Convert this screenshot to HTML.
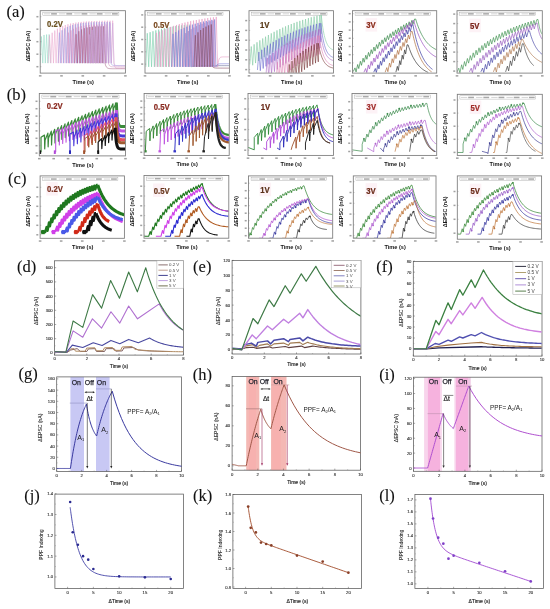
<!DOCTYPE html>
<html><head><meta charset="utf-8"><style>
html,body{margin:0;padding:0;background:#fff;width:550px;height:609px;overflow:hidden}
svg{display:block;filter:blur(0.35px)}
</style></head><body>
<svg width="550" height="609" viewBox="0 0 550 609">
<rect x="0" y="0" width="550" height="609" fill="#fff"/>
<rect x="40.2" y="10.7" width="85.2" height="62.4" fill="#fff"/>
<clipPath id="c40_10"><rect x="40.5" y="11" width="84.6" height="61.8"/></clipPath>
<rect x="42.8" y="12.2" width="76.1" height="3.3" stroke="#a0a0a0" fill="#fff" stroke-width="0.4"/>
<line x1="43.8" y1="13.85" x2="50.19" y2="13.85" stroke="#a8a8a8" stroke-width="0.5"/>
<rect x="51.11" y="13.1" width="5.78" height="1.5" stroke="none" fill="#707070" stroke-width="0.8" opacity="0.6"/>
<line x1="59.02" y1="13.85" x2="65.41" y2="13.85" stroke="#a8a8a8" stroke-width="0.5"/>
<rect x="66.33" y="13.1" width="5.78" height="1.5" stroke="none" fill="#707070" stroke-width="0.8" opacity="0.6"/>
<line x1="74.24" y1="13.85" x2="80.63" y2="13.85" stroke="#a8a8a8" stroke-width="0.5"/>
<rect x="81.55" y="13.1" width="5.78" height="1.5" stroke="none" fill="#707070" stroke-width="0.8" opacity="0.6"/>
<line x1="89.46" y1="13.85" x2="95.85" y2="13.85" stroke="#a8a8a8" stroke-width="0.5"/>
<rect x="96.77" y="13.1" width="5.78" height="1.5" stroke="none" fill="#707070" stroke-width="0.8" opacity="0.6"/>
<line x1="104.68" y1="13.85" x2="111.07" y2="13.85" stroke="#a8a8a8" stroke-width="0.5"/>
<rect x="111.99" y="13.1" width="5.78" height="1.5" stroke="none" fill="#707070" stroke-width="0.8" opacity="0.6"/>
<g clip-path="url(#c40_10)">
<polyline points="40.2,63.12 41.48,36.52 42.76,63.12 44.03,34.98 45.31,63.12 46.59,34.54 47.87,63.12 49.15,34.41 50.42,63.12" fill="none" stroke="#8ad8c0" stroke-width="0.6" stroke-linejoin="round" opacity="0.85"/>
<polyline points="48.21,63.12 49.52,35.48 50.84,63.12 52.16,32.77 53.47,63.12 54.79,30.56 56.1,63.12 57.42,28.75 58.73,63.12 60.05,27.26 61.36,63.12 62.68,26.05 63.99,63.12 65.31,25.05 66.63,63.12 67.94,24.24 69.26,63.12 70.57,23.57 71.89,63.12 73.2,23.03 74.52,63.12 75.83,22.58 77.15,63.12 78.47,22.21 79.78,63.12 81.1,21.91 82.41,63.12 83.73,21.67 85.04,63.12 86.36,21.47 87.67,63.12 88.99,21.3 90.3,63.12 91.62,21.17 92.94,63.12 94.25,21.06 95.57,63.12 96.88,20.97 98.2,63.12 99.51,20.89 100.83,63.12 102.14,20.83 103.46,63.12 104.77,20.78 106.09,63.12 107.41,20.74 108.72,63.12 110.04,20.71 111.35,63.12 112.67,20.68 113.98,63.12 114.46,65.62 114.93,66.86 115.41,67.49 115.89,67.8 116.36,67.95 116.84,68.03 117.31,68.07 117.79,68.09 118.26,68.1 118.74,68.1 119.22,68.11 119.69,68.11 120.17,68.11 120.64,68.11 121.12,68.11 121.59,68.11 122.07,68.11 122.55,68.11 123.02,68.11 123.5,68.11 123.97,68.11 124.45,68.11 124.92,68.11 125.4,68.11" fill="none" stroke="#eaa2cc" stroke-width="0.6" stroke-linejoin="round" opacity="0.85"/>
<polyline points="58.09,63.12 59.41,32.6 60.74,63.12 62.06,30.22 63.38,63.12 64.71,28.37 66.03,63.12 67.35,26.92 68.67,63.12 70,25.8 71.32,63.12 72.64,24.92 73.96,63.12 75.29,24.24 76.61,63.12 77.93,23.71 79.26,63.12 80.58,23.3 81.9,63.12 83.22,22.97 84.55,63.12 85.87,22.72 87.19,63.12 88.51,22.53 89.84,63.12 91.16,22.37 92.48,63.12 93.81,22.26 95.13,63.12 96.45,22.16 97.77,63.12 99.1,22.09 100.42,63.12 101.74,22.04 103.06,63.12 104.39,21.99 105.71,63.12 107.03,21.96 108.36,63.12 109.68,21.93 111,63.12 111.6,64.37 112.2,64.99 112.8,65.3 113.4,65.46 114,65.53 114.6,65.57 115.2,65.59 115.8,65.6 116.4,65.61 117,65.61 117.6,65.61 118.2,65.61 118.8,65.61 119.4,65.61 120,65.61 120.6,65.61 121.2,65.61 121.8,65.61 122.4,65.61 123,65.61 123.6,65.61 124.2,65.61 124.8,65.61 125.4,65.61" fill="none" stroke="#9a96e0" stroke-width="0.6" stroke-linejoin="round" opacity="0.85"/>
<polyline points="67.04,63.12 68.33,32.63 69.62,63.12 70.91,30.4 72.2,63.12 73.49,28.78 74.79,63.12 76.08,27.59 77.37,63.12 78.66,26.72 79.95,63.12 81.24,26.09 82.53,63.12 83.83,25.62 85.12,63.12 86.41,25.28 87.7,63.12 88.99,25.03 90.28,63.12 91.57,24.85 92.86,63.12 94.16,24.72 95.45,63.12 96.74,24.62 98.03,63.12 99.32,24.55 100.61,63.12 101.9,24.49 103.19,63.12 104.49,24.46 105.78,63.12 107.07,24.43 108.36,63.12 109.07,64.99 109.78,65.93 110.49,66.39 111.2,66.63 111.91,66.74 112.62,66.8 113.33,66.83 114.04,66.85 114.75,66.85 115.46,66.86 116.17,66.86 116.88,66.86 117.59,66.86 118.3,66.86 119.01,66.86 119.72,66.86 120.43,66.86 121.14,66.86 121.85,66.86 122.56,66.86 123.27,66.86 123.98,66.86 124.69,66.86 125.4,66.86" fill="none" stroke="#d890c0" stroke-width="0.6" stroke-linejoin="round" opacity="0.85"/>
<polyline points="74.71,63.12 76.08,34.19 77.46,63.12 78.83,31.28 80.21,63.12 81.58,29.43 82.95,63.12 84.33,28.25 85.7,63.12 87.08,27.51 88.45,63.12 89.83,27.04 91.2,63.12 92.58,26.74 93.95,63.12 95.33,26.55 96.7,63.12 98.08,26.43 99.45,63.12 100.83,26.35 102.2,63.12 103.58,26.3 104.95,63.12 105.8,65.93 106.66,67.33 107.51,68.03 108.36,68.38 109.21,68.56 110.06,68.64 110.92,68.69 111.77,68.71 112.62,68.72 113.47,68.73 114.32,68.73 115.18,68.73 116.03,68.73 116.88,68.73 117.73,68.73 118.58,68.73 119.44,68.73 120.29,68.73 121.14,68.73 121.99,68.73 122.84,68.73 123.7,68.73 124.55,68.73 125.4,68.73" fill="none" stroke="#a05a80" stroke-width="0.6" stroke-linejoin="round" opacity="0.85"/>
<polyline points="88.34,63.12 89.62,34.48 90.9,63.12 92.18,29.99 93.47,63.12 94.75,27.26 96.03,63.12 97.31,25.6 98.6,63.12 99.88,24.6 101.16,63.12 102.44,23.99 103.73,63.12 105.01,23.62 106.29,63.12 107.57,23.4 108.85,63.12 110.14,23.26 111.42,63.12 112.7,23.18 113.98,63.12 114.46,64.37 114.93,64.99 115.41,65.3 115.89,65.46 116.36,65.53 116.84,65.57 117.31,65.59 117.79,65.6 118.26,65.61 118.74,65.61 119.22,65.61 119.69,65.61 120.17,65.61 120.64,65.61 121.12,65.61 121.59,65.61 122.07,65.61 122.55,65.61 123.02,65.61 123.5,65.61 123.97,65.61 124.45,65.61 124.92,65.61 125.4,65.61" fill="none" stroke="#c8a8dc" stroke-width="0.6" stroke-linejoin="round" opacity="0.85"/>
</g>
<rect x="40.2" y="10.7" width="85.2" height="62.4" stroke="#7a7a7a" fill="none" stroke-width="0.85"/>
<rect x="36.4" y="65.95" width="2" height="1.5" stroke="none" fill="#8a8a8a" stroke-width="0.8" opacity="0.8"/>
<line x1="40.2" y1="66.7" x2="41.4" y2="66.7" stroke="#777" stroke-width="0.4"/>
<rect x="36.4" y="53.45" width="2" height="1.5" stroke="none" fill="#8a8a8a" stroke-width="0.8" opacity="0.8"/>
<line x1="40.2" y1="54.2" x2="41.4" y2="54.2" stroke="#777" stroke-width="0.4"/>
<rect x="36.4" y="40.95" width="2" height="1.5" stroke="none" fill="#8a8a8a" stroke-width="0.8" opacity="0.8"/>
<line x1="40.2" y1="41.7" x2="41.4" y2="41.7" stroke="#777" stroke-width="0.4"/>
<rect x="36.4" y="28.45" width="2" height="1.5" stroke="none" fill="#8a8a8a" stroke-width="0.8" opacity="0.8"/>
<line x1="40.2" y1="29.2" x2="41.4" y2="29.2" stroke="#777" stroke-width="0.4"/>
<rect x="36.4" y="15.95" width="2" height="1.5" stroke="none" fill="#8a8a8a" stroke-width="0.8" opacity="0.8"/>
<line x1="40.2" y1="16.7" x2="41.4" y2="16.7" stroke="#777" stroke-width="0.4"/>
<rect x="38.9" y="75.1" width="2.6" height="1.5" stroke="none" fill="#8a8a8a" stroke-width="0.8" opacity="0.8"/>
<rect x="60.2" y="75.1" width="2.6" height="1.5" stroke="none" fill="#8a8a8a" stroke-width="0.8" opacity="0.8"/>
<rect x="81.5" y="75.1" width="2.6" height="1.5" stroke="none" fill="#8a8a8a" stroke-width="0.8" opacity="0.8"/>
<rect x="102.8" y="75.1" width="2.6" height="1.5" stroke="none" fill="#8a8a8a" stroke-width="0.8" opacity="0.8"/>
<rect x="124.1" y="75.1" width="2.6" height="1.5" stroke="none" fill="#8a8a8a" stroke-width="0.8" opacity="0.8"/>
<text x="29.9" y="46.1" font-size="5.4" fill="#1a1a1a" text-anchor="middle" font-weight="bold" font-family='"Liberation Sans", sans-serif' transform="rotate(-90 29.9 46.1)">&#916;EPSC (nA)</text>
<text x="83.3" y="83.7" font-size="5.6" fill="#111" text-anchor="middle" font-weight="bold" font-family='"Liberation Sans", sans-serif'>Time (s)</text>
<text transform="translate(47 27) scale(0.92 1)" x="0" y="0" font-size="8.4" fill="#6a5020" font-weight="bold" font-family='"Liberation Sans", sans-serif' stroke="#6a5020" stroke-width="0.2">0.2V</text>
<rect x="145" y="10.7" width="84.5" height="62.4" fill="#fff"/>
<clipPath id="c145_10"><rect x="145.3" y="11" width="83.9" height="61.8"/></clipPath>
<rect x="147.6" y="12.2" width="75.4" height="3.3" stroke="#a0a0a0" fill="#fff" stroke-width="0.4"/>
<line x1="148.6" y1="13.85" x2="154.93" y2="13.85" stroke="#a8a8a8" stroke-width="0.5"/>
<rect x="155.84" y="13.1" width="5.73" height="1.5" stroke="none" fill="#707070" stroke-width="0.8" opacity="0.6"/>
<line x1="163.68" y1="13.85" x2="170.01" y2="13.85" stroke="#a8a8a8" stroke-width="0.5"/>
<rect x="170.92" y="13.1" width="5.73" height="1.5" stroke="none" fill="#707070" stroke-width="0.8" opacity="0.6"/>
<line x1="178.76" y1="13.85" x2="185.09" y2="13.85" stroke="#a8a8a8" stroke-width="0.5"/>
<rect x="186" y="13.1" width="5.73" height="1.5" stroke="none" fill="#707070" stroke-width="0.8" opacity="0.6"/>
<line x1="193.84" y1="13.85" x2="200.17" y2="13.85" stroke="#a8a8a8" stroke-width="0.5"/>
<rect x="201.08" y="13.1" width="5.73" height="1.5" stroke="none" fill="#707070" stroke-width="0.8" opacity="0.6"/>
<line x1="208.92" y1="13.85" x2="215.25" y2="13.85" stroke="#a8a8a8" stroke-width="0.5"/>
<rect x="216.16" y="13.1" width="5.73" height="1.5" stroke="none" fill="#707070" stroke-width="0.8" opacity="0.6"/>
<g clip-path="url(#c145_10)">
<polyline points="145.84,66.86 147.27,33.26 148.7,66.86 150.12,32.21 151.55,66.86 152.97,31.26 154.4,66.86 155.83,30.39 157.25,66.86 158.68,29.6 160.1,66.86 161.53,28.88 162.96,66.86 164.38,28.23 165.81,66.86 167.23,27.63 168.66,66.86 170.09,27.09 171.51,66.86 172.94,26.59 174.36,66.86 175.79,26.14 177.22,66.86 178.64,25.73 180.07,66.86 181.49,25.36 182.92,66.86 184.35,25.02 185.77,66.86 187.2,24.71 188.62,66.86 190.05,24.43 191.47,66.86 193.06,66.35 194.64,66.05 196.23,65.87 197.81,65.77 199.4,65.7 200.98,65.67 202.57,65.64 204.15,65.63 205.73,65.62 207.32,65.62 208.9,65.62 210.49,65.61 212.07,65.61 213.66,65.61 215.24,65.61 216.82,65.61 218.41,65.61 219.99,65.61 221.58,65.61 223.16,65.61 224.75,65.61 226.33,65.61 227.92,65.61 229.5,65.61" fill="none" stroke="#80d0b0" stroke-width="0.7" stroke-linejoin="round" opacity="0.9"/>
<polyline points="155.14,66.86 156.56,32.93 157.98,66.86 159.4,31.55 160.82,66.86 162.25,30.25 163.67,66.86 165.09,29.04 166.51,66.86 167.93,27.92 169.35,66.86 170.77,26.86 172.19,66.86 173.61,25.88 175.04,66.86 176.46,24.96 177.88,66.86 179.3,24.1 180.72,66.86 182.14,23.29 183.56,66.86 184.98,22.55 186.41,66.86 187.83,21.85 189.25,66.86 190.67,21.19 192.09,66.86 193.51,20.58 194.93,66.86 196.35,20.01 197.77,66.86 199.2,19.48 200.62,66.86 202.04,18.98 203.46,66.86 204.88,18.51 206.3,66.86 207.72,18.08 209.14,66.86 210.56,17.67 211.99,66.86 213.41,17.29 214.83,66.86 216.25,16.94 217.67,66.86 218.16,62.81 218.66,60.4 219.15,58.97 219.64,58.12 220.13,57.61 220.63,57.31 221.12,57.14 221.61,57.03 222.11,56.97 222.6,56.93 223.09,56.91 223.58,56.9 224.08,56.89 224.57,56.88 225.06,56.88 225.56,56.88 226.05,56.88 226.54,56.88 227.04,56.88 227.53,56.88 228.02,56.88 228.51,56.88 229.01,56.88 229.5,56.88" fill="none" stroke="#e8a0c8" stroke-width="0.7" stroke-linejoin="round" opacity="0.9"/>
<polyline points="171.62,66.86 173,33.79 174.39,66.86 175.78,32.09 177.16,66.86 178.55,30.54 179.94,66.86 181.32,29.13 182.71,66.86 184.09,27.84 185.48,66.86 186.87,26.68 188.25,66.86 189.64,25.61 191.03,66.86 192.41,24.64 193.8,66.86 195.19,23.76 196.57,66.86 197.96,22.95 199.34,66.86 200.73,22.22 202.12,66.86 203.5,21.56 204.89,66.86 206.28,20.95 207.66,66.86 209.05,20.4 210.43,66.86 211.82,19.89 213.21,66.86 214.59,19.44 215.98,66.86 216.54,65.59 217.11,64.84 217.67,64.39 218.23,64.13 218.8,63.97 219.36,63.88 219.92,63.82 220.49,63.79 221.05,63.77 221.61,63.76 222.18,63.75 222.74,63.75 223.3,63.74 223.87,63.74 224.43,63.74 224.99,63.74 225.56,63.74 226.12,63.74 226.68,63.74 227.25,63.74 227.81,63.74 228.37,63.74 228.94,63.74 229.5,63.74" fill="none" stroke="#8080d8" stroke-width="0.7" stroke-linejoin="round" opacity="0.9"/>
<polyline points="184.29,66.86 185.66,33.2 187.02,66.86 188.38,31.06 189.75,66.86 191.11,29.19 192.47,66.86 193.84,27.56 195.2,66.86 196.56,26.13 197.93,66.86 199.29,24.89 200.65,66.86 202.02,23.8 203.38,66.86 204.75,22.86 206.11,66.86 207.47,22.03 208.84,66.86 210.2,21.31 211.56,66.86 212.93,20.68 214.29,66.86 214.92,66.35 215.56,66.05 216.19,65.87 216.82,65.77 217.46,65.7 218.09,65.67 218.73,65.64 219.36,65.63 219.99,65.62 220.63,65.62 221.26,65.62 221.89,65.61 222.53,65.61 223.16,65.61 223.8,65.61 224.43,65.61 225.06,65.61 225.7,65.61 226.33,65.61 226.97,65.61 227.6,65.61 228.23,65.61 228.87,65.61 229.5,65.61" fill="none" stroke="#b088c8" stroke-width="0.7" stroke-linejoin="round" opacity="0.9"/>
<polyline points="194.01,66.86 195.34,35.22 196.67,66.86 197.99,32.34 199.32,66.86 200.65,30.02 201.98,66.86 203.31,28.15 204.63,66.86 205.96,26.63 207.29,66.86 208.62,25.41 209.94,66.86 211.27,24.43 212.6,66.86 213.3,67.37 214.01,67.67 214.71,67.85 215.42,67.95 216.12,68.02 216.82,68.05 217.53,68.08 218.23,68.09 218.94,68.1 219.64,68.1 220.35,68.1 221.05,68.11 221.75,68.11 222.46,68.11 223.16,68.11 223.87,68.11 224.57,68.11 225.27,68.11 225.98,68.11 226.68,68.11 227.39,68.11 228.09,68.11 228.8,68.11 229.5,68.11" fill="none" stroke="#8a5068" stroke-width="0.7" stroke-linejoin="round" opacity="0.9"/>
</g>
<rect x="145" y="10.7" width="84.5" height="62.4" stroke="#7a7a7a" fill="none" stroke-width="0.85"/>
<rect x="141.2" y="63.35" width="2" height="1.5" stroke="none" fill="#8a8a8a" stroke-width="0.8" opacity="0.8"/>
<line x1="145" y1="64.1" x2="146.2" y2="64.1" stroke="#777" stroke-width="0.4"/>
<rect x="141.2" y="51.05" width="2" height="1.5" stroke="none" fill="#8a8a8a" stroke-width="0.8" opacity="0.8"/>
<line x1="145" y1="51.8" x2="146.2" y2="51.8" stroke="#777" stroke-width="0.4"/>
<rect x="141.2" y="38.75" width="2" height="1.5" stroke="none" fill="#8a8a8a" stroke-width="0.8" opacity="0.8"/>
<line x1="145" y1="39.5" x2="146.2" y2="39.5" stroke="#777" stroke-width="0.4"/>
<rect x="141.2" y="26.45" width="2" height="1.5" stroke="none" fill="#8a8a8a" stroke-width="0.8" opacity="0.8"/>
<line x1="145" y1="27.2" x2="146.2" y2="27.2" stroke="#777" stroke-width="0.4"/>
<rect x="141.2" y="14.15" width="2" height="1.5" stroke="none" fill="#8a8a8a" stroke-width="0.8" opacity="0.8"/>
<line x1="145" y1="14.9" x2="146.2" y2="14.9" stroke="#777" stroke-width="0.4"/>
<rect x="143.7" y="75.1" width="2.6" height="1.5" stroke="none" fill="#8a8a8a" stroke-width="0.8" opacity="0.8"/>
<rect x="164.82" y="75.1" width="2.6" height="1.5" stroke="none" fill="#8a8a8a" stroke-width="0.8" opacity="0.8"/>
<rect x="185.95" y="75.1" width="2.6" height="1.5" stroke="none" fill="#8a8a8a" stroke-width="0.8" opacity="0.8"/>
<rect x="207.07" y="75.1" width="2.6" height="1.5" stroke="none" fill="#8a8a8a" stroke-width="0.8" opacity="0.8"/>
<rect x="228.2" y="75.1" width="2.6" height="1.5" stroke="none" fill="#8a8a8a" stroke-width="0.8" opacity="0.8"/>
<text x="134.7" y="46.1" font-size="5.4" fill="#1a1a1a" text-anchor="middle" font-weight="bold" font-family='"Liberation Sans", sans-serif' transform="rotate(-90 134.7 46.1)">&#916;EPSC (nA)</text>
<text x="187.75" y="83.7" font-size="5.6" fill="#111" text-anchor="middle" font-weight="bold" font-family='"Liberation Sans", sans-serif'>Time (s)</text>
<text transform="translate(153.5 28.4) scale(0.92 1)" x="0" y="0" font-size="8.4" fill="#7a4a20" font-weight="bold" font-family='"Liberation Sans", sans-serif' stroke="#7a4a20" stroke-width="0.2">0.5V</text>
<rect x="249" y="10.7" width="84.5" height="62.4" fill="#fff"/>
<clipPath id="c249_10"><rect x="249.3" y="11" width="83.9" height="61.8"/></clipPath>
<rect x="251.6" y="12.2" width="75.4" height="3.3" stroke="#a0a0a0" fill="#fff" stroke-width="0.4"/>
<line x1="252.6" y1="13.85" x2="258.93" y2="13.85" stroke="#a8a8a8" stroke-width="0.5"/>
<rect x="259.84" y="13.1" width="5.73" height="1.5" stroke="none" fill="#707070" stroke-width="0.8" opacity="0.6"/>
<line x1="267.68" y1="13.85" x2="274.01" y2="13.85" stroke="#a8a8a8" stroke-width="0.5"/>
<rect x="274.92" y="13.1" width="5.73" height="1.5" stroke="none" fill="#707070" stroke-width="0.8" opacity="0.6"/>
<line x1="282.76" y1="13.85" x2="289.09" y2="13.85" stroke="#a8a8a8" stroke-width="0.5"/>
<rect x="290" y="13.1" width="5.73" height="1.5" stroke="none" fill="#707070" stroke-width="0.8" opacity="0.6"/>
<line x1="297.84" y1="13.85" x2="304.17" y2="13.85" stroke="#a8a8a8" stroke-width="0.5"/>
<rect x="305.08" y="13.1" width="5.73" height="1.5" stroke="none" fill="#707070" stroke-width="0.8" opacity="0.6"/>
<line x1="312.92" y1="13.85" x2="319.25" y2="13.85" stroke="#a8a8a8" stroke-width="0.5"/>
<rect x="320.16" y="13.1" width="5.73" height="1.5" stroke="none" fill="#707070" stroke-width="0.8" opacity="0.6"/>
<g clip-path="url(#c249_10)">
<polyline points="249.84,64.36 251.27,46.5 252.7,65.22 254.13,44.35 255.56,63.07 256.99,42.3 258.41,61.02 259.84,40.34 261.27,59.06 262.7,38.48 264.13,57.2 265.55,36.7 266.98,55.42 268.41,35 269.84,53.72 271.27,33.39 272.69,52.11 274.12,31.85 275.55,50.57 276.98,30.38 278.41,49.1 279.83,28.98 281.26,47.7 282.69,27.65 284.12,46.37 285.55,26.38 286.97,45.1 288.4,25.17 289.83,43.89 291.26,24.02 292.69,42.74 294.11,22.92 295.54,41.64 296.97,21.87 298.4,40.59 299.83,20.87 301.25,39.59 302.68,19.92 304.11,38.64 305.54,19.01 306.97,37.73 308.4,18.14 309.82,36.86 311.25,17.32 312.68,36.04 314.11,16.53 315.54,35.25 316.96,15.78 318.39,34.5 319.82,15.07 321.25,33.79 321.25,15.07 321.76,19.77 322.27,23.86 322.78,27.42 323.29,30.51 323.8,33.21 324.31,35.56 324.82,37.6 325.33,39.38 325.84,40.92 326.35,42.27 326.86,43.44 327.37,44.46 327.88,45.35 328.39,46.12 328.91,46.79 329.42,47.38 329.93,47.89 330.44,48.33 330.95,48.72 331.46,49.05 331.97,49.34 332.48,49.6 332.99,49.82 333.5,50.01" fill="none" stroke="#88cca8" stroke-width="0.7" stroke-linejoin="round" opacity="0.9"/>
<polyline points="257.45,69.98 258.89,52.01 260.33,70.73 261.77,49.77 263.21,68.49 264.65,47.64 266.09,66.36 267.53,45.63 268.97,64.35 270.41,43.72 271.85,62.44 273.29,41.92 274.73,60.64 276.17,40.21 277.61,58.93 279.06,38.59 280.5,57.31 281.94,37.06 283.38,55.78 284.82,35.61 286.26,54.33 287.7,34.24 289.14,52.96 290.58,32.93 292.02,51.65 293.46,31.7 294.9,50.42 296.34,30.54 297.78,49.26 299.22,29.43 300.66,48.15 302.1,28.39 303.54,47.11 304.98,27.4 306.42,46.12 307.86,26.46 309.3,45.18 310.74,25.57 312.18,44.29 313.62,24.73 315.06,43.45 316.5,23.93 317.94,42.65 319.38,23.18 320.82,41.9 320.82,23.18 321.35,27.8 321.88,31.81 322.41,35.31 322.94,38.35 323.47,41 323.99,43.3 324.52,45.31 325.05,47.05 325.58,48.57 326.11,49.9 326.63,51.05 327.16,52.05 327.69,52.92 328.22,53.68 328.75,54.34 329.27,54.91 329.8,55.41 330.33,55.85 330.86,56.23 331.39,56.56 331.92,56.84 332.44,57.09 332.97,57.31 333.5,57.5" fill="none" stroke="#7070d0" stroke-width="0.7" stroke-linejoin="round" opacity="0.9"/>
<polyline points="265.9,76.22 267.32,57.89 268.75,76.61 270.17,55.32 271.59,74.04 273.02,52.91 274.44,71.63 275.86,50.65 277.29,69.37 278.71,48.53 280.13,67.25 281.55,46.54 282.98,65.26 284.4,44.67 285.82,63.39 287.25,42.91 288.67,61.63 290.09,41.26 291.52,59.98 292.94,39.71 294.36,58.43 295.79,38.26 297.21,56.98 298.63,36.9 300.06,55.62 301.48,35.62 302.9,54.34 304.33,34.41 305.75,53.13 307.17,33.28 308.59,52 310.02,32.23 311.44,50.95 312.86,31.23 314.29,49.95 315.71,30.3 317.13,49.02 318.56,29.42 319.98,48.14 319.98,29.42 320.54,33.62 321.11,37.27 321.67,40.44 322.23,43.21 322.8,45.62 323.36,47.71 323.92,49.54 324.49,51.12 325.05,52.5 325.61,53.71 326.18,54.75 326.74,55.66 327.3,56.46 327.87,57.15 328.43,57.75 328.99,58.27 329.56,58.72 330.12,59.12 330.68,59.46 331.25,59.76 331.81,60.02 332.37,60.25 332.94,60.45 333.5,60.62" fill="none" stroke="#b070c8" stroke-width="0.7" stroke-linejoin="round" opacity="0.9"/>
<polyline points="276.04,81.21 277.48,62.32 278.91,81.04 280.35,59.27 281.79,77.99 283.22,56.47 284.66,75.19 286.1,53.87 287.53,72.59 288.97,51.48 290.4,70.2 291.84,49.27 293.28,67.99 294.71,47.23 296.15,65.95 297.59,45.35 299.02,64.07 300.46,43.61 301.9,62.33 303.33,42.01 304.77,60.73 306.21,40.53 307.64,59.25 309.08,39.16 310.52,57.88 311.95,37.9 313.39,56.62 314.83,36.74 316.26,55.46 317.7,35.66 319.13,54.38 319.13,35.66 319.73,39.69 320.33,43.19 320.93,46.24 321.53,48.9 322.13,51.21 322.73,53.22 323.32,54.97 323.92,56.5 324.52,57.82 325.12,58.98 325.72,59.98 326.32,60.85 326.92,61.61 327.51,62.28 328.11,62.85 328.71,63.35 329.31,63.79 329.91,64.17 330.51,64.5 331.11,64.79 331.7,65.04 332.3,65.26 332.9,65.45 333.5,65.61" fill="none" stroke="#e088b8" stroke-width="0.7" stroke-linejoin="round" opacity="0.9"/>
<polyline points="287.87,83.71 289.25,64.42 290.64,83.14 292.02,61.11 293.4,79.83 294.78,58.14 296.17,76.86 297.55,55.48 298.93,74.2 300.31,53.09 301.7,71.81 303.08,50.95 304.46,69.67 305.85,49.03 307.23,67.75 308.61,47.31 309.99,66.03 311.38,45.77 312.76,64.49 314.14,44.39 315.52,63.11 316.91,43.15 318.29,61.87 318.29,43.15 318.92,46.5 319.56,49.43 320.19,51.97 320.82,54.18 321.46,56.11 322.09,57.78 322.73,59.24 323.36,60.51 323.99,61.62 324.63,62.58 325.26,63.41 325.89,64.14 326.53,64.78 327.16,65.33 327.8,65.81 328.43,66.23 329.06,66.59 329.7,66.91 330.33,67.18 330.97,67.42 331.6,67.63 332.23,67.81 332.87,67.97 333.5,68.11" fill="none" stroke="#7a3a3a" stroke-width="0.7" stroke-linejoin="round" opacity="0.9"/>
</g>
<rect x="249" y="10.7" width="84.5" height="62.4" stroke="#7a7a7a" fill="none" stroke-width="0.85"/>
<rect x="245.2" y="68.85" width="2" height="1.5" stroke="none" fill="#8a8a8a" stroke-width="0.8" opacity="0.8"/>
<line x1="249" y1="69.6" x2="250.2" y2="69.6" stroke="#777" stroke-width="0.4"/>
<rect x="245.2" y="59.05" width="2" height="1.5" stroke="none" fill="#8a8a8a" stroke-width="0.8" opacity="0.8"/>
<line x1="249" y1="59.8" x2="250.2" y2="59.8" stroke="#777" stroke-width="0.4"/>
<rect x="245.2" y="49.25" width="2" height="1.5" stroke="none" fill="#8a8a8a" stroke-width="0.8" opacity="0.8"/>
<line x1="249" y1="50" x2="250.2" y2="50" stroke="#777" stroke-width="0.4"/>
<rect x="245.2" y="39.45" width="2" height="1.5" stroke="none" fill="#8a8a8a" stroke-width="0.8" opacity="0.8"/>
<line x1="249" y1="40.2" x2="250.2" y2="40.2" stroke="#777" stroke-width="0.4"/>
<rect x="245.2" y="29.65" width="2" height="1.5" stroke="none" fill="#8a8a8a" stroke-width="0.8" opacity="0.8"/>
<line x1="249" y1="30.4" x2="250.2" y2="30.4" stroke="#777" stroke-width="0.4"/>
<rect x="245.2" y="19.85" width="2" height="1.5" stroke="none" fill="#8a8a8a" stroke-width="0.8" opacity="0.8"/>
<line x1="249" y1="20.6" x2="250.2" y2="20.6" stroke="#777" stroke-width="0.4"/>
<rect x="247.7" y="75.1" width="2.6" height="1.5" stroke="none" fill="#8a8a8a" stroke-width="0.8" opacity="0.8"/>
<rect x="268.82" y="75.1" width="2.6" height="1.5" stroke="none" fill="#8a8a8a" stroke-width="0.8" opacity="0.8"/>
<rect x="289.95" y="75.1" width="2.6" height="1.5" stroke="none" fill="#8a8a8a" stroke-width="0.8" opacity="0.8"/>
<rect x="311.07" y="75.1" width="2.6" height="1.5" stroke="none" fill="#8a8a8a" stroke-width="0.8" opacity="0.8"/>
<rect x="332.2" y="75.1" width="2.6" height="1.5" stroke="none" fill="#8a8a8a" stroke-width="0.8" opacity="0.8"/>
<text x="238.7" y="46.1" font-size="5.4" fill="#1a1a1a" text-anchor="middle" font-weight="bold" font-family='"Liberation Sans", sans-serif' transform="rotate(-90 238.7 46.1)">&#916;EPSC (nA)</text>
<text x="291.75" y="83.7" font-size="5.6" fill="#111" text-anchor="middle" font-weight="bold" font-family='"Liberation Sans", sans-serif'>Time (s)</text>
<text transform="translate(260 27.9) scale(0.92 1)" x="0" y="0" font-size="8.4" fill="#5a3a18" font-weight="bold" font-family='"Liberation Sans", sans-serif' stroke="#5a3a18" stroke-width="0.2">1V</text>
<rect x="352.5" y="10.7" width="84.2" height="62.4" fill="#fff"/>
<clipPath id="c352_10"><rect x="352.8" y="11" width="83.6" height="61.8"/></clipPath>
<rect x="355.1" y="12.2" width="75.1" height="3.3" stroke="#a0a0a0" fill="#fff" stroke-width="0.4"/>
<line x1="356.1" y1="13.85" x2="362.41" y2="13.85" stroke="#a8a8a8" stroke-width="0.5"/>
<rect x="363.31" y="13.1" width="5.71" height="1.5" stroke="none" fill="#707070" stroke-width="0.8" opacity="0.6"/>
<line x1="371.12" y1="13.85" x2="377.43" y2="13.85" stroke="#a8a8a8" stroke-width="0.5"/>
<rect x="378.33" y="13.1" width="5.71" height="1.5" stroke="none" fill="#707070" stroke-width="0.8" opacity="0.6"/>
<line x1="386.14" y1="13.85" x2="392.45" y2="13.85" stroke="#a8a8a8" stroke-width="0.5"/>
<rect x="393.35" y="13.1" width="5.71" height="1.5" stroke="none" fill="#707070" stroke-width="0.8" opacity="0.6"/>
<line x1="401.16" y1="13.85" x2="407.47" y2="13.85" stroke="#a8a8a8" stroke-width="0.5"/>
<rect x="408.37" y="13.1" width="5.71" height="1.5" stroke="none" fill="#707070" stroke-width="0.8" opacity="0.6"/>
<line x1="416.18" y1="13.85" x2="422.49" y2="13.85" stroke="#a8a8a8" stroke-width="0.5"/>
<rect x="423.39" y="13.1" width="5.71" height="1.5" stroke="none" fill="#707070" stroke-width="0.8" opacity="0.6"/>
<g clip-path="url(#c352_10)">
<polyline points="353.34,71.42 354.97,67.89 356.05,71.94 357.68,64.51 358.76,68.57 360.39,61.28 361.47,65.33 363.09,58.18 364.18,62.23 365.8,55.21 366.89,59.27 368.51,52.38 369.6,56.43 371.22,49.66 372.31,53.71 373.93,47.05 375.01,51.11 376.64,44.56 377.72,48.62 379.35,42.18 380.43,46.23 382.06,39.89 383.14,43.95 384.77,37.71 385.85,41.76 387.48,35.61 388.56,39.67 390.18,33.61 391.27,37.66 392.89,31.69 393.98,35.74 395.6,29.85 396.69,33.91 398.31,28.09 399.4,32.15 401.02,26.41 402.1,30.46 403.73,24.79 404.81,28.85 406.44,23.25 407.52,27.31 409.15,21.77 410.23,25.83 411.86,20.35 412.94,24.41 414.57,19 415.65,19 416.53,21.85 417.4,24.47 418.28,26.89 419.16,29.1 420.04,31.15 420.91,33.03 421.79,34.76 422.67,36.35 423.54,37.81 424.42,39.16 425.3,40.39 426.17,41.53 427.05,42.58 427.93,43.55 428.81,44.44 429.68,45.25 430.56,46 431.44,46.69 432.31,47.33 433.19,47.92 434.07,48.45 434.95,48.95 435.82,49.41 436.7,49.82" fill="none" stroke="#3a8a4a" stroke-width="0.7" stroke-linejoin="round"/>
<polyline points="363.95,72.29 365.61,68.54 366.72,72.6 368.38,64.91 369.49,68.97 371.15,61.4 372.26,65.46 373.92,58.01 375.03,62.07 376.69,54.73 377.8,58.79 379.46,51.56 380.57,55.61 382.23,48.49 383.34,52.54 385,45.52 386.11,49.57 387.77,42.64 388.87,46.7 390.54,39.87 391.64,43.92 393.31,37.18 394.41,41.24 396.07,34.58 397.18,38.64 398.84,32.07 399.95,36.12 401.61,29.64 402.72,33.69 404.38,27.29 405.49,31.34 407.15,25.01 408.26,29.07 409.92,22.81 411.03,26.87 412.69,20.68 413.8,20.68 414.75,24.07 415.71,27.19 416.66,30.05 417.61,32.69 418.57,35.12 419.52,37.35 420.48,39.41 421.43,41.3 422.39,43.04 423.34,44.64 424.29,46.11 425.25,47.46 426.2,48.71 427.16,49.85 428.11,50.91 429.07,51.88 430.02,52.77 430.97,53.59 431.93,54.35 432.88,55.04 433.84,55.68 434.79,56.27 435.75,56.81 436.7,57.31" fill="none" stroke="#9a50c0" stroke-width="0.7" stroke-linejoin="round"/>
<polyline points="373.72,72.29 375.29,68.5 376.33,72.56 377.9,64.82 378.95,68.87 380.52,61.23 381.57,65.29 383.14,57.73 384.18,61.79 385.75,54.33 386.8,58.39 388.37,51.02 389.41,55.08 390.98,47.79 392.03,51.85 393.6,44.65 394.64,48.71 396.21,41.6 397.26,45.65 398.83,38.62 399.88,42.67 401.45,35.72 402.49,39.77 404.06,32.9 405.11,36.95 406.68,30.15 407.72,34.2 409.29,27.47 410.34,31.53 411.91,24.86 412.96,24.86 413.77,28.98 414.58,32.76 415.4,36.25 416.21,39.45 417.03,42.4 417.84,45.11 418.65,47.61 419.47,49.9 420.28,52.01 421.09,53.96 421.91,55.75 422.72,57.39 423.54,58.9 424.35,60.3 425.16,61.58 425.98,62.76 426.79,63.84 427.61,64.84 428.42,65.76 429.23,66.6 430.05,67.38 430.86,68.09 431.68,68.75 432.49,69.36" fill="none" stroke="#3a3aa0" stroke-width="0.7" stroke-linejoin="round"/>
<polyline points="385.17,72.29 386.79,67.64 387.87,71.69 389.49,63.12 390.58,67.18 392.2,58.74 393.28,62.79 394.9,54.48 395.98,58.54 397.6,50.36 398.68,54.41 400.31,46.35 401.39,50.41 403.01,42.46 404.09,46.52 405.71,38.69 406.79,42.75 408.41,35.03 409.49,39.09 411.12,31.48 412.2,31.48 413.01,35.21 413.82,38.65 414.63,41.81 415.44,44.71 416.25,47.39 417.06,49.85 417.87,52.12 418.68,54.2 419.49,56.12 420.3,57.88 421.11,59.5 421.92,60.99 422.73,62.37 423.54,63.63 424.35,64.79 425.16,65.86 425.98,66.85 426.79,67.75 427.6,68.59 428.41,69.35 429.22,70.06 430.03,70.71 430.84,71.3 431.65,71.85" fill="none" stroke="#b07040" stroke-width="0.7" stroke-linejoin="round"/>
<polyline points="395.86,72.29 397.33,66.35 398.3,70.41 399.77,60.64 400.75,64.7 402.21,55.16 403.19,59.22 404.65,49.89 405.63,53.95 407.1,44.83 408.07,44.83 408.91,47.39 409.76,49.74 410.6,51.9 411.44,53.9 412.28,55.73 413.12,57.41 413.97,58.96 414.81,60.39 415.65,61.7 416.49,62.91 417.33,64.02 418.18,65.04 419.02,65.98 419.86,66.85 420.7,67.64 421.54,68.38 422.39,69.05 423.23,69.67 424.07,70.24 424.91,70.76 425.75,71.25 426.6,71.69 427.44,72.1 428.28,72.48" fill="none" stroke="#333333" stroke-width="0.7" stroke-linejoin="round"/>
</g>
<rect x="352.5" y="10.7" width="84.2" height="62.4" stroke="#7a7a7a" fill="none" stroke-width="0.85"/>
<rect x="348.7" y="70.35" width="2" height="1.5" stroke="none" fill="#8a8a8a" stroke-width="0.8" opacity="0.8"/>
<line x1="352.5" y1="71.1" x2="353.7" y2="71.1" stroke="#777" stroke-width="0.4"/>
<rect x="348.7" y="62.15" width="2" height="1.5" stroke="none" fill="#8a8a8a" stroke-width="0.8" opacity="0.8"/>
<line x1="352.5" y1="62.9" x2="353.7" y2="62.9" stroke="#777" stroke-width="0.4"/>
<rect x="348.7" y="53.95" width="2" height="1.5" stroke="none" fill="#8a8a8a" stroke-width="0.8" opacity="0.8"/>
<line x1="352.5" y1="54.7" x2="353.7" y2="54.7" stroke="#777" stroke-width="0.4"/>
<rect x="348.7" y="45.75" width="2" height="1.5" stroke="none" fill="#8a8a8a" stroke-width="0.8" opacity="0.8"/>
<line x1="352.5" y1="46.5" x2="353.7" y2="46.5" stroke="#777" stroke-width="0.4"/>
<rect x="348.7" y="37.55" width="2" height="1.5" stroke="none" fill="#8a8a8a" stroke-width="0.8" opacity="0.8"/>
<line x1="352.5" y1="38.3" x2="353.7" y2="38.3" stroke="#777" stroke-width="0.4"/>
<rect x="348.7" y="29.35" width="2" height="1.5" stroke="none" fill="#8a8a8a" stroke-width="0.8" opacity="0.8"/>
<line x1="352.5" y1="30.1" x2="353.7" y2="30.1" stroke="#777" stroke-width="0.4"/>
<rect x="348.7" y="21.15" width="2" height="1.5" stroke="none" fill="#8a8a8a" stroke-width="0.8" opacity="0.8"/>
<line x1="352.5" y1="21.9" x2="353.7" y2="21.9" stroke="#777" stroke-width="0.4"/>
<rect x="348.7" y="12.95" width="2" height="1.5" stroke="none" fill="#8a8a8a" stroke-width="0.8" opacity="0.8"/>
<line x1="352.5" y1="13.7" x2="353.7" y2="13.7" stroke="#777" stroke-width="0.4"/>
<rect x="351.2" y="75.1" width="2.6" height="1.5" stroke="none" fill="#8a8a8a" stroke-width="0.8" opacity="0.8"/>
<rect x="372.25" y="75.1" width="2.6" height="1.5" stroke="none" fill="#8a8a8a" stroke-width="0.8" opacity="0.8"/>
<rect x="393.3" y="75.1" width="2.6" height="1.5" stroke="none" fill="#8a8a8a" stroke-width="0.8" opacity="0.8"/>
<rect x="414.35" y="75.1" width="2.6" height="1.5" stroke="none" fill="#8a8a8a" stroke-width="0.8" opacity="0.8"/>
<rect x="435.4" y="75.1" width="2.6" height="1.5" stroke="none" fill="#8a8a8a" stroke-width="0.8" opacity="0.8"/>
<text x="342.2" y="46.1" font-size="5.4" fill="#1a1a1a" text-anchor="middle" font-weight="bold" font-family='"Liberation Sans", sans-serif' transform="rotate(-90 342.2 46.1)">&#916;EPSC (nA)</text>
<text x="395.1" y="83.7" font-size="5.6" fill="#111" text-anchor="middle" font-weight="bold" font-family='"Liberation Sans", sans-serif'>Time (s)</text>
<rect x="365.6" y="18.1" width="11.5" height="13.5" stroke="none" fill="#fcecf2" stroke-width="0.8" opacity="0.7"/>
<text transform="translate(366.3 28.4) scale(0.92 1)" x="0" y="0" font-size="8.4" fill="#8a2a18" font-weight="bold" font-family='"Liberation Sans", sans-serif' stroke="#8a2a18" stroke-width="0.2">3V</text>
<rect x="457" y="10.7" width="85.3" height="62.4" fill="#fff"/>
<clipPath id="c457_10"><rect x="457.3" y="11" width="84.7" height="61.8"/></clipPath>
<rect x="459.6" y="12.2" width="76.2" height="3.3" stroke="#a0a0a0" fill="#fff" stroke-width="0.4"/>
<line x1="460.6" y1="13.85" x2="467" y2="13.85" stroke="#a8a8a8" stroke-width="0.5"/>
<rect x="467.92" y="13.1" width="5.79" height="1.5" stroke="none" fill="#707070" stroke-width="0.8" opacity="0.6"/>
<line x1="475.84" y1="13.85" x2="482.24" y2="13.85" stroke="#a8a8a8" stroke-width="0.5"/>
<rect x="483.16" y="13.1" width="5.79" height="1.5" stroke="none" fill="#707070" stroke-width="0.8" opacity="0.6"/>
<line x1="491.08" y1="13.85" x2="497.48" y2="13.85" stroke="#a8a8a8" stroke-width="0.5"/>
<rect x="498.4" y="13.1" width="5.79" height="1.5" stroke="none" fill="#707070" stroke-width="0.8" opacity="0.6"/>
<line x1="506.32" y1="13.85" x2="512.72" y2="13.85" stroke="#a8a8a8" stroke-width="0.5"/>
<rect x="513.64" y="13.1" width="5.79" height="1.5" stroke="none" fill="#707070" stroke-width="0.8" opacity="0.6"/>
<line x1="521.56" y1="13.85" x2="527.96" y2="13.85" stroke="#a8a8a8" stroke-width="0.5"/>
<rect x="528.88" y="13.1" width="5.79" height="1.5" stroke="none" fill="#707070" stroke-width="0.8" opacity="0.6"/>
<g clip-path="url(#c457_10)">
<polyline points="457,71.85 458.74,68.21 459.89,72.89 461.63,64.78 462.79,69.46 464.52,61.53 465.68,66.21 467.42,58.46 468.58,63.14 470.31,55.57 471.47,60.25 473.21,52.83 474.36,57.51 476.1,50.25 477.26,54.93 479,47.81 480.15,52.49 481.89,45.51 483.05,50.19 484.78,43.33 485.94,48.01 487.68,41.28 488.84,45.96 490.57,39.34 491.73,44.02 493.47,37.5 494.62,42.18 496.36,35.77 497.52,40.45 499.25,34.14 500.41,38.82 502.15,32.59 503.31,37.27 505.04,31.13 506.2,35.81 507.94,29.76 509.09,34.44 510.83,28.46 511.99,33.14 513.72,27.23 514.88,31.91 516.62,26.07 517.78,30.75 519.51,24.97 520.67,29.65 522.41,23.94 523.56,28.62 525.3,22.96 526.46,27.64 528.2,22.03 529.35,26.71 531.09,21.16 532.25,25.84 533.98,20.34 535.14,25.02 536.88,19.56 538.03,19.56 538.21,20.79 538.39,21.94 538.57,23 538.75,24 538.92,24.93 539.1,25.8 539.28,26.61 539.46,27.37 539.63,28.07 539.81,28.73 539.99,29.34 540.17,29.91 540.35,30.45 540.52,30.94 540.7,31.41 540.88,31.84 541.06,32.25 541.23,32.62 541.41,32.98 541.59,33.3 541.77,33.61 541.94,33.9 542.12,34.16 542.3,34.41" fill="none" stroke="#4a9a5a" stroke-width="0.7" stroke-linejoin="round"/>
<polyline points="469.45,71.85 471.22,68.18 472.4,72.86 474.17,64.7 475.34,69.38 477.11,61.42 478.29,66.1 480.05,58.31 481.23,62.99 483,55.38 484.18,60.06 485.94,52.61 487.12,57.29 488.89,49.99 490.07,54.67 491.83,47.51 493.01,52.19 494.78,45.18 495.96,49.86 497.72,42.96 498.9,47.64 500.67,40.88 501.85,45.56 503.61,38.9 504.79,43.58 506.56,37.03 507.73,41.71 509.5,35.27 510.68,39.95 512.45,33.6 513.62,38.28 515.39,32.03 516.57,36.71 518.34,30.54 519.51,35.22 521.28,29.13 522.46,33.81 524.23,27.81 525.4,32.49 527.17,26.55 528.35,31.23 530.11,25.36 531.29,30.04 533.06,24.24 534.24,28.92 536,23.18 537.18,23.18 537.4,24.52 537.61,25.77 537.82,26.94 538.03,28.03 538.25,29.05 538.46,30 538.67,30.88 538.89,31.71 539.1,32.48 539.31,33.19 539.53,33.86 539.74,34.49 539.95,35.07 540.17,35.62 540.38,36.12 540.59,36.6 540.81,37.04 541.02,37.45 541.23,37.84 541.45,38.19 541.66,38.53 541.87,38.84 542.09,39.13 542.3,39.4" fill="none" stroke="#9a60c0" stroke-width="0.7" stroke-linejoin="round"/>
<polyline points="480.88,71.85 482.6,68.01 483.74,72.69 485.46,64.4 486.6,69.08 488.32,61.03 489.46,65.71 491.18,57.86 492.32,62.54 494.04,54.89 495.18,59.57 496.9,52.11 498.04,56.79 499.76,49.5 500.9,54.18 502.62,47.06 503.76,51.74 505.48,44.77 506.62,49.45 508.34,42.62 509.48,47.3 511.2,40.61 512.34,45.29 514.06,38.72 515.2,43.4 516.92,36.95 518.06,41.63 519.78,35.29 520.92,39.97 522.64,33.74 523.78,38.42 525.5,32.28 526.64,36.96 528.36,30.92 529.5,30.92 530.04,32.86 530.57,34.67 531.1,36.36 531.64,37.93 532.17,39.4 532.7,40.77 533.24,42.05 533.77,43.25 534.3,44.36 534.84,45.4 535.37,46.37 535.9,47.27 536.44,48.12 536.97,48.9 537.5,49.64 538.03,50.32 538.57,50.96 539.1,51.56 539.63,52.11 540.17,52.63 540.7,53.11 541.23,53.57 541.77,53.99 542.3,54.38" fill="none" stroke="#4a4aa8" stroke-width="0.7" stroke-linejoin="round"/>
<polyline points="493.42,71.85 495.18,67.32 496.35,72 498.1,63.14 499.27,67.82 501.03,59.28 502.2,63.96 503.96,55.72 505.13,60.4 506.88,52.43 508.05,57.11 509.81,49.39 510.98,54.07 512.73,46.59 513.9,51.27 515.66,44 516.83,48.68 518.58,41.61 519.76,46.29 521.51,39.4 522.68,39.4 523.5,41.31 524.32,43.1 525.13,44.76 525.95,46.31 526.77,47.75 527.59,49.1 528.4,50.36 529.22,51.54 530.04,52.63 530.86,53.65 531.67,54.61 532.49,55.5 533.31,56.33 534.13,57.1 534.94,57.82 535.76,58.5 536.58,59.13 537.4,59.71 538.21,60.26 539.03,60.77 539.85,61.25 540.67,61.69 541.48,62.11 542.3,62.49" fill="none" stroke="#b07a50" stroke-width="0.7" stroke-linejoin="round"/>
<polyline points="505.62,71.85 507.41,66.15 508.61,70.83 510.4,60.9 511.59,65.58 513.38,56.07 514.58,60.75 516.37,51.62 517.56,56.3 519.35,47.53 520.55,52.21 522.34,43.77 523.53,43.77 523.96,45.58 524.39,47.26 524.81,48.84 525.24,50.3 525.67,51.67 526.09,52.95 526.52,54.14 526.95,55.25 527.37,56.29 527.8,57.25 528.23,58.15 528.65,59 529.08,59.78 529.5,60.51 529.93,61.2 530.36,61.83 530.78,62.43 531.21,62.98 531.64,63.5 532.06,63.98 532.49,64.43 532.92,64.85 533.34,65.25 533.77,65.61" fill="none" stroke="#444444" stroke-width="0.7" stroke-linejoin="round"/>
</g>
<rect x="457" y="10.7" width="85.3" height="62.4" stroke="#7a7a7a" fill="none" stroke-width="0.85"/>
<rect x="453.2" y="70.35" width="2" height="1.5" stroke="none" fill="#8a8a8a" stroke-width="0.8" opacity="0.8"/>
<line x1="457" y1="71.1" x2="458.2" y2="71.1" stroke="#777" stroke-width="0.4"/>
<rect x="453.2" y="60.85" width="2" height="1.5" stroke="none" fill="#8a8a8a" stroke-width="0.8" opacity="0.8"/>
<line x1="457" y1="61.6" x2="458.2" y2="61.6" stroke="#777" stroke-width="0.4"/>
<rect x="453.2" y="51.35" width="2" height="1.5" stroke="none" fill="#8a8a8a" stroke-width="0.8" opacity="0.8"/>
<line x1="457" y1="52.1" x2="458.2" y2="52.1" stroke="#777" stroke-width="0.4"/>
<rect x="453.2" y="41.85" width="2" height="1.5" stroke="none" fill="#8a8a8a" stroke-width="0.8" opacity="0.8"/>
<line x1="457" y1="42.6" x2="458.2" y2="42.6" stroke="#777" stroke-width="0.4"/>
<rect x="453.2" y="32.35" width="2" height="1.5" stroke="none" fill="#8a8a8a" stroke-width="0.8" opacity="0.8"/>
<line x1="457" y1="33.1" x2="458.2" y2="33.1" stroke="#777" stroke-width="0.4"/>
<rect x="453.2" y="22.85" width="2" height="1.5" stroke="none" fill="#8a8a8a" stroke-width="0.8" opacity="0.8"/>
<line x1="457" y1="23.6" x2="458.2" y2="23.6" stroke="#777" stroke-width="0.4"/>
<rect x="453.2" y="13.35" width="2" height="1.5" stroke="none" fill="#8a8a8a" stroke-width="0.8" opacity="0.8"/>
<line x1="457" y1="14.1" x2="458.2" y2="14.1" stroke="#777" stroke-width="0.4"/>
<rect x="455.7" y="75.1" width="2.6" height="1.5" stroke="none" fill="#8a8a8a" stroke-width="0.8" opacity="0.8"/>
<rect x="477.02" y="75.1" width="2.6" height="1.5" stroke="none" fill="#8a8a8a" stroke-width="0.8" opacity="0.8"/>
<rect x="498.35" y="75.1" width="2.6" height="1.5" stroke="none" fill="#8a8a8a" stroke-width="0.8" opacity="0.8"/>
<rect x="519.67" y="75.1" width="2.6" height="1.5" stroke="none" fill="#8a8a8a" stroke-width="0.8" opacity="0.8"/>
<rect x="541" y="75.1" width="2.6" height="1.5" stroke="none" fill="#8a8a8a" stroke-width="0.8" opacity="0.8"/>
<text x="446.7" y="46.1" font-size="5.4" fill="#1a1a1a" text-anchor="middle" font-weight="bold" font-family='"Liberation Sans", sans-serif' transform="rotate(-90 446.7 46.1)">&#916;EPSC (nA)</text>
<text x="500.15" y="83.7" font-size="5.6" fill="#111" text-anchor="middle" font-weight="bold" font-family='"Liberation Sans", sans-serif'>Time (s)</text>
<rect x="469.3" y="18.7" width="11.5" height="13.5" stroke="none" fill="#fcecf2" stroke-width="0.8" opacity="0.7"/>
<text transform="translate(470 29) scale(0.92 1)" x="0" y="0" font-size="8.4" fill="#7a2018" font-weight="bold" font-family='"Liberation Sans", sans-serif' stroke="#7a2018" stroke-width="0.2">5V</text>
<rect x="39.3" y="93.5" width="86.2" height="62.4" fill="#fff"/>
<clipPath id="c39_93"><rect x="39.6" y="93.8" width="85.6" height="61.8"/></clipPath>
<rect x="41.9" y="95" width="77.1" height="3.3" stroke="#a0a0a0" fill="#fff" stroke-width="0.4"/>
<line x1="42.9" y1="96.65" x2="49.38" y2="96.65" stroke="#a8a8a8" stroke-width="0.5"/>
<rect x="50.3" y="95.9" width="5.86" height="1.5" stroke="none" fill="#707070" stroke-width="0.8" opacity="0.6"/>
<line x1="58.32" y1="96.65" x2="64.8" y2="96.65" stroke="#a8a8a8" stroke-width="0.5"/>
<rect x="65.72" y="95.9" width="5.86" height="1.5" stroke="none" fill="#707070" stroke-width="0.8" opacity="0.6"/>
<line x1="73.74" y1="96.65" x2="80.22" y2="96.65" stroke="#a8a8a8" stroke-width="0.5"/>
<rect x="81.14" y="95.9" width="5.86" height="1.5" stroke="none" fill="#707070" stroke-width="0.8" opacity="0.6"/>
<line x1="89.16" y1="96.65" x2="95.64" y2="96.65" stroke="#a8a8a8" stroke-width="0.5"/>
<rect x="96.56" y="95.9" width="5.86" height="1.5" stroke="none" fill="#707070" stroke-width="0.8" opacity="0.6"/>
<line x1="104.58" y1="96.65" x2="111.06" y2="96.65" stroke="#a8a8a8" stroke-width="0.5"/>
<rect x="111.98" y="95.9" width="5.86" height="1.5" stroke="none" fill="#707070" stroke-width="0.8" opacity="0.6"/>
<g clip-path="url(#c39_93)">
<polyline points="41.02,152.16 41.02,137.18 44.45,135.12 44.72,148.85 45.13,139.92 47.87,133.11 48.15,146.84 48.56,137.92 51.3,131.16 51.57,144.89 51.98,135.97 54.72,129.26 55,142.99 55.41,134.07 58.15,127.41 58.42,141.14 58.83,132.22 61.57,125.61 61.84,139.34 62.26,130.42 65,123.86 65.27,137.59 65.68,128.67 68.42,122.16 68.69,135.89 69.1,126.97 71.84,120.5 72.12,134.23 72.53,125.31 75.27,118.89 75.54,132.62 75.95,123.7 78.69,117.32 78.97,131.05 79.38,122.13 82.12,115.79 82.39,129.52 82.8,120.6 85.54,114.31 85.82,128.04 86.23,119.11 88.97,112.86 89.24,126.59 89.65,117.67 92.39,111.46 92.67,125.18 93.08,116.26 95.82,110.09 96.09,123.81 96.5,114.89 99.24,108.75 99.51,122.48 99.93,113.56 102.66,107.46 102.94,121.19 103.35,112.26 106.09,106.2 106.36,119.92 106.77,111 109.51,104.97 109.79,118.7 110.2,109.77 112.94,103.77 113.21,117.5 113.62,108.58 116.36,102.61" fill="none" stroke="#3a8a3a" stroke-width="1.2" stroke-linejoin="round"/>
<polyline points="116.36,102.61 116.74,110.78 117.12,116.16 117.5,119.71 117.89,122.05 118.27,123.59 118.65,124.61 119.03,125.28 119.41,125.72 119.79,126.01 120.17,126.2 120.55,126.33 120.93,126.41 121.31,126.47 121.69,126.5 122.07,126.53 122.45,126.54 122.83,126.55 123.22,126.56 123.6,126.56 123.98,126.57 124.36,126.57 124.74,126.57 125.12,126.57 125.5,126.57" fill="none" stroke="#3a8a3a" stroke-width="3" stroke-linejoin="round"/>
<polyline points="55.68,152.16 55.68,130.94 59.05,129.42 59.32,145.02 59.72,134.88 62.42,127.95 62.69,143.55 63.1,133.41 65.79,126.53 66.06,142.13 66.47,131.99 69.16,125.16 69.43,140.76 69.84,130.62 72.53,123.83 72.8,139.43 73.21,129.29 75.91,122.54 76.18,138.14 76.58,128 79.28,121.3 79.55,136.9 79.95,126.76 82.65,120.1 82.92,135.7 83.32,125.56 86.02,118.93 86.29,134.53 86.69,124.39 89.39,117.81 89.66,133.41 90.07,123.27 92.76,116.72 93.03,132.32 93.44,122.18 96.13,115.67 96.4,131.27 96.81,121.13 99.51,114.65 99.78,130.25 100.18,120.11 102.88,113.66 103.15,129.26 103.55,119.12 106.25,112.71 106.52,128.31 106.92,118.17 109.62,111.79 109.89,127.39 110.29,117.25 112.99,110.9 113.26,126.5 113.67,116.36 116.36,110.04" fill="none" stroke="#c058e0" stroke-width="1.1" stroke-linejoin="round"/>
<polyline points="116.36,110.04 116.74,117.16 117.12,121.86 117.5,124.95 117.89,126.99 118.27,128.34 118.65,129.22 119.03,129.81 119.41,130.2 119.79,130.45 120.17,130.62 120.55,130.73 120.93,130.8 121.31,130.85 121.69,130.88 122.07,130.9 122.45,130.91 122.83,130.92 123.22,130.93 123.6,130.93 123.98,130.94 124.36,130.94 124.74,130.94 125.12,130.94 125.5,130.94" fill="none" stroke="#c058e0" stroke-width="3" stroke-linejoin="round"/>
<polyline points="69.99,152.16 69.99,134.06 73.53,132 73.81,145.73 74.24,136.81 77.07,130.04 77.35,143.76 77.78,134.84 80.61,128.16 80.89,141.89 81.32,132.96 84.15,126.37 84.43,140.09 84.86,131.17 87.69,124.65 87.97,138.38 88.4,129.46 91.23,123.02 91.52,136.75 91.94,127.83 94.77,121.46 95.06,135.19 95.48,126.26 98.31,119.97 98.6,133.7 99.02,124.77 101.85,118.55 102.14,132.27 102.56,123.35 105.4,117.19 105.68,130.92 106.1,121.99 108.94,115.89 109.22,129.62 109.64,120.69 112.48,114.65 112.76,128.38 113.19,119.46 116.02,113.47" fill="none" stroke="#4838d8" stroke-width="1.1" stroke-linejoin="round"/>
<polyline points="116.02,113.47 116.41,121.12 116.81,126.17 117.2,129.5 117.6,131.69 117.99,133.14 118.39,134.09 118.78,134.72 119.18,135.13 119.57,135.4 119.97,135.58 120.36,135.7 120.76,135.78 121.15,135.83 121.55,135.87 121.94,135.89 122.34,135.9 122.73,135.91 123.13,135.92 123.52,135.92 123.92,135.93 124.31,135.93 124.71,135.93 125.1,135.93 125.5,135.93" fill="none" stroke="#4838d8" stroke-width="3" stroke-linejoin="round"/>
<polyline points="84.12,152.16 84.12,135.93 87.67,133.26 87.95,145.74 88.38,137.62 91.21,130.75 91.5,143.23 91.92,135.12 94.76,128.41 95.04,140.89 95.46,132.78 98.3,126.22 98.58,138.7 99.01,130.59 101.84,124.17 102.13,136.65 102.55,128.54 105.39,122.25 105.67,134.73 106.1,126.62 108.93,120.46 109.21,132.94 109.64,124.83 112.47,118.78 112.76,131.26 113.18,123.15 116.02,117.21" fill="none" stroke="#e05060" stroke-width="1" stroke-linejoin="round"/>
<polyline points="116.02,117.21 116.41,124.87 116.81,129.91 117.2,133.24 117.6,135.43 117.99,136.88 118.39,137.83 118.78,138.46 119.18,138.88 119.57,139.15 119.97,139.33 120.36,139.45 120.76,139.53 121.15,139.58 121.55,139.61 121.94,139.63 122.34,139.65 122.73,139.66 123.13,139.66 123.52,139.67 123.92,139.67 124.31,139.67 124.71,139.67 125.1,139.68 125.5,139.68" fill="none" stroke="#e05060" stroke-width="3" stroke-linejoin="round"/>
<polyline points="84.99,152.16 84.99,138.43 88.43,136.02 88.71,147.25 89.12,139.95 91.88,133.77 92.16,145 92.57,137.7 95.33,131.66 95.61,142.89 96.02,135.59 98.78,129.69 99.05,140.92 99.47,133.62 102.23,127.84 102.5,139.07 102.92,131.77 105.67,126.12 105.95,137.35 106.36,130.05 109.12,124.5 109.4,135.73 109.81,128.43 112.57,122.99 112.85,134.22 113.26,126.92 116.02,121.58" fill="none" stroke="#a05a30" stroke-width="1" stroke-linejoin="round"/>
<polyline points="116.02,121.58 116.41,128.81 116.81,133.58 117.2,136.72 117.6,138.79 117.99,140.16 118.39,141.06 118.78,141.65 119.18,142.04 119.57,142.3 119.97,142.47 120.36,142.58 120.76,142.65 121.15,142.7 121.55,142.73 121.94,142.76 122.34,142.77 122.73,142.78 123.13,142.79 123.52,142.79 123.92,142.79 124.31,142.79 124.71,142.79 125.1,142.8 125.5,142.8" fill="none" stroke="#a05a30" stroke-width="3" stroke-linejoin="round"/>
<polyline points="98.17,152.16 98.17,142.17 101.57,138.58 101.84,148.56 102.25,142.07 104.97,135.38 105.24,145.37 105.65,138.88 108.36,132.56 108.64,142.54 109.04,136.05 111.76,130.05 112.03,140.03 112.44,133.54 115.16,127.82" fill="none" stroke="#111" stroke-width="1.2" stroke-linejoin="round"/>
<polyline points="115.16,127.82 115.59,135.05 116.02,139.82 116.45,142.96 116.88,145.03 117.31,146.4 117.74,147.3 118.17,147.89 118.6,148.28 119.03,148.54 119.47,148.71 119.9,148.82 120.33,148.89 120.76,148.94 121.19,148.97 121.62,149 122.05,149.01 122.48,149.02 122.91,149.03 123.34,149.03 123.78,149.03 124.21,149.03 124.64,149.03 125.07,149.04 125.5,149.04" fill="none" stroke="#111" stroke-width="3" stroke-linejoin="round"/>
<rect x="39.16" y="150.36" width="2" height="3.6" stroke="none" fill="#151515" stroke-width="0.8"/>
<rect x="53.82" y="150.36" width="2" height="3.6" stroke="none" fill="#b048d8" stroke-width="0.8"/>
<rect x="68.99" y="150.36" width="2" height="3.6" stroke="none" fill="#2a2ab8" stroke-width="0.8"/>
<rect x="83.12" y="150.36" width="2" height="3.6" stroke="none" fill="#a0522d" stroke-width="0.8"/>
<rect x="97.17" y="150.36" width="2" height="3.6" stroke="none" fill="#151515" stroke-width="0.8"/>
</g>
<rect x="39.3" y="93.5" width="86.2" height="62.4" stroke="#7a7a7a" fill="none" stroke-width="0.85"/>
<rect x="35.5" y="152.35" width="2" height="1.5" stroke="none" fill="#8a8a8a" stroke-width="0.8" opacity="0.8"/>
<line x1="39.3" y1="153.1" x2="40.5" y2="153.1" stroke="#777" stroke-width="0.4"/>
<rect x="35.5" y="144.95" width="2" height="1.5" stroke="none" fill="#8a8a8a" stroke-width="0.8" opacity="0.8"/>
<line x1="39.3" y1="145.7" x2="40.5" y2="145.7" stroke="#777" stroke-width="0.4"/>
<rect x="35.5" y="137.55" width="2" height="1.5" stroke="none" fill="#8a8a8a" stroke-width="0.8" opacity="0.8"/>
<line x1="39.3" y1="138.3" x2="40.5" y2="138.3" stroke="#777" stroke-width="0.4"/>
<rect x="35.5" y="130.15" width="2" height="1.5" stroke="none" fill="#8a8a8a" stroke-width="0.8" opacity="0.8"/>
<line x1="39.3" y1="130.9" x2="40.5" y2="130.9" stroke="#777" stroke-width="0.4"/>
<rect x="35.5" y="122.75" width="2" height="1.5" stroke="none" fill="#8a8a8a" stroke-width="0.8" opacity="0.8"/>
<line x1="39.3" y1="123.5" x2="40.5" y2="123.5" stroke="#777" stroke-width="0.4"/>
<rect x="35.5" y="115.35" width="2" height="1.5" stroke="none" fill="#8a8a8a" stroke-width="0.8" opacity="0.8"/>
<line x1="39.3" y1="116.1" x2="40.5" y2="116.1" stroke="#777" stroke-width="0.4"/>
<rect x="35.5" y="107.95" width="2" height="1.5" stroke="none" fill="#8a8a8a" stroke-width="0.8" opacity="0.8"/>
<line x1="39.3" y1="108.7" x2="40.5" y2="108.7" stroke="#777" stroke-width="0.4"/>
<rect x="35.5" y="100.55" width="2" height="1.5" stroke="none" fill="#8a8a8a" stroke-width="0.8" opacity="0.8"/>
<line x1="39.3" y1="101.3" x2="40.5" y2="101.3" stroke="#777" stroke-width="0.4"/>
<rect x="38" y="157.9" width="2.6" height="1.5" stroke="none" fill="#8a8a8a" stroke-width="0.8" opacity="0.8"/>
<rect x="52.37" y="157.9" width="2.6" height="1.5" stroke="none" fill="#8a8a8a" stroke-width="0.8" opacity="0.8"/>
<rect x="66.73" y="157.9" width="2.6" height="1.5" stroke="none" fill="#8a8a8a" stroke-width="0.8" opacity="0.8"/>
<rect x="81.1" y="157.9" width="2.6" height="1.5" stroke="none" fill="#8a8a8a" stroke-width="0.8" opacity="0.8"/>
<rect x="95.47" y="157.9" width="2.6" height="1.5" stroke="none" fill="#8a8a8a" stroke-width="0.8" opacity="0.8"/>
<rect x="109.83" y="157.9" width="2.6" height="1.5" stroke="none" fill="#8a8a8a" stroke-width="0.8" opacity="0.8"/>
<rect x="124.2" y="157.9" width="2.6" height="1.5" stroke="none" fill="#8a8a8a" stroke-width="0.8" opacity="0.8"/>
<text x="29" y="128.9" font-size="5.4" fill="#1a1a1a" text-anchor="middle" font-weight="bold" font-family='"Liberation Sans", sans-serif' transform="rotate(-90 29 128.9)">&#916;EPSC (nA)</text>
<text x="82.9" y="166.5" font-size="5.6" fill="#111" text-anchor="middle" font-weight="bold" font-family='"Liberation Sans", sans-serif'>Time (s)</text>
<text transform="translate(46.7 109) scale(0.92 1)" x="0" y="0" font-size="8.4" fill="#8a2a20" font-weight="bold" font-family='"Liberation Sans", sans-serif' stroke="#8a2a20" stroke-width="0.2">0.2V</text>
<rect x="144.1" y="93.5" width="85.1" height="61.9" fill="#fff"/>
<clipPath id="c144_93"><rect x="144.4" y="93.8" width="84.5" height="61.3"/></clipPath>
<rect x="146.7" y="95" width="76" height="3.3" stroke="#a0a0a0" fill="#fff" stroke-width="0.4"/>
<line x1="147.7" y1="96.65" x2="154.08" y2="96.65" stroke="#a8a8a8" stroke-width="0.5"/>
<rect x="155" y="95.9" width="5.78" height="1.5" stroke="none" fill="#707070" stroke-width="0.8" opacity="0.6"/>
<line x1="162.9" y1="96.65" x2="169.28" y2="96.65" stroke="#a8a8a8" stroke-width="0.5"/>
<rect x="170.2" y="95.9" width="5.78" height="1.5" stroke="none" fill="#707070" stroke-width="0.8" opacity="0.6"/>
<line x1="178.1" y1="96.65" x2="184.48" y2="96.65" stroke="#a8a8a8" stroke-width="0.5"/>
<rect x="185.4" y="95.9" width="5.78" height="1.5" stroke="none" fill="#707070" stroke-width="0.8" opacity="0.6"/>
<line x1="193.3" y1="96.65" x2="199.68" y2="96.65" stroke="#a8a8a8" stroke-width="0.5"/>
<rect x="200.6" y="95.9" width="5.78" height="1.5" stroke="none" fill="#707070" stroke-width="0.8" opacity="0.6"/>
<line x1="208.5" y1="96.65" x2="214.88" y2="96.65" stroke="#a8a8a8" stroke-width="0.5"/>
<rect x="215.8" y="95.9" width="5.78" height="1.5" stroke="none" fill="#707070" stroke-width="0.8" opacity="0.6"/>
<g clip-path="url(#c144_93)">
<polyline points="145.38,151.31 146.23,131.26 149.67,128.45 149.95,140.83 150.36,132.78 153.12,125.88 153.4,138.26 153.81,130.22 156.57,123.54 156.84,135.92 157.26,127.87 160.01,121.39 160.29,133.77 160.7,125.73 163.46,119.43 163.74,131.81 164.15,123.77 166.91,117.64 167.18,130.02 167.6,121.98 170.35,116.01 170.63,128.39 171.04,120.34 173.8,114.51 174.08,126.89 174.49,118.84 177.25,113.14 177.52,125.52 177.94,117.48 180.69,111.9 180.97,124.28 181.38,116.23 184.14,110.75 184.42,123.13 184.83,115.09 187.59,109.71 187.86,122.09 188.28,114.04 191.03,108.76 191.31,121.14 191.72,113.09 194.48,107.88 194.75,120.26 195.17,112.22 197.93,107.09 198.2,119.47 198.62,111.42 201.37,106.36 201.65,118.74 202.06,110.69 204.82,105.69 205.09,118.07 205.51,110.03 208.27,105.09 208.54,117.47 208.95,109.42 211.71,104.53 211.99,116.91 212.4,108.86 215.16,104.02" fill="none" stroke="#3a8a3a" stroke-width="1" stroke-linejoin="round"/>
<polyline points="215.16,104.02 215.74,109.42 216.33,113.89 216.91,117.58 217.5,120.64 218.08,123.17 218.67,125.26 219.25,127 219.84,128.43 220.42,129.62 221.01,130.6 221.59,131.41 222.18,132.08 222.76,132.64 223.35,133.1 223.93,133.48 224.52,133.79 225.1,134.05 225.69,134.27 226.27,134.45 226.86,134.6 227.44,134.72 228.03,134.82 228.61,134.9 229.2,134.97" fill="none" stroke="#3a8a3a" stroke-width="2.3" stroke-linejoin="round"/>
<polyline points="159.76,151.31 160.61,131.26 164.05,128.73 164.32,144.21 164.73,134.15 167.48,126.48 167.76,141.95 168.17,131.89 170.92,124.46 171.19,139.94 171.6,129.88 174.35,122.66 174.63,138.13 175.04,128.08 177.79,121.05 178.06,136.52 178.48,126.47 181.22,119.61 181.5,135.09 181.91,125.03 184.66,118.33 184.94,133.8 185.35,123.74 188.1,117.18 188.37,132.65 188.78,122.59 191.53,116.15 191.81,131.62 192.22,121.57 194.97,115.23 195.24,130.71 195.66,120.65 198.4,114.41 198.68,129.89 199.09,119.83 201.84,113.68 202.12,129.16 202.53,119.1 205.28,113.03 205.55,128.5 205.96,118.44 208.71,112.44 208.99,127.92 209.4,117.86 212.15,111.92 212.42,127.39 212.84,117.33 215.58,111.45" fill="none" stroke="#c058e0" stroke-width="1" stroke-linejoin="round"/>
<polyline points="215.58,111.45 216.15,116.09 216.72,119.93 217.29,123.11 217.85,125.74 218.42,127.92 218.99,129.72 219.56,131.21 220.12,132.44 220.69,133.46 221.26,134.31 221.82,135 222.39,135.58 222.96,136.06 223.53,136.46 224.09,136.78 224.66,137.05 225.23,137.28 225.8,137.46 226.36,137.62 226.93,137.74 227.5,137.85 228.07,137.94 228.63,138.01 229.2,138.07" fill="none" stroke="#c058e0" stroke-width="2.3" stroke-linejoin="round"/>
<polyline points="174.74,151.31 175.59,133.74 178.92,129.6 179.19,145.08 179.59,135.02 182.25,126.05 182.52,141.52 182.92,131.46 185.59,122.99 185.85,138.46 186.25,128.4 188.92,120.35 189.19,135.83 189.59,125.77 192.25,118.08 192.52,133.56 192.92,123.5 195.59,116.13 195.85,131.61 196.25,121.55 198.92,114.45 199.19,129.93 199.59,119.87 202.25,113.01 202.52,128.48 202.92,118.42 205.58,111.76 205.85,127.24 206.25,117.18 208.92,110.69 209.18,126.17 209.58,116.11 212.25,109.77 212.52,125.24 212.92,115.18 215.58,108.97" fill="none" stroke="#3838c8" stroke-width="1" stroke-linejoin="round"/>
<polyline points="215.58,108.97 216.15,114.37 216.72,118.84 217.29,122.53 217.85,125.59 218.42,128.12 218.99,130.22 219.56,131.95 220.12,133.38 220.69,134.57 221.26,135.55 221.82,136.36 222.39,137.03 222.96,137.59 223.53,138.05 224.09,138.43 224.66,138.75 225.23,139.01 225.8,139.22 226.36,139.4 226.93,139.55 227.5,139.67 228.07,139.77 228.63,139.86 229.2,139.93" fill="none" stroke="#3838c8" stroke-width="2.3" stroke-linejoin="round"/>
<polyline points="188.69,151.31 189.54,135.59 192.75,130.21 193,145.69 193.39,135.63 195.95,125.92 196.2,141.39 196.59,131.33 199.15,122.49 199.41,137.96 199.79,127.9 202.35,119.75 202.61,135.22 202.99,125.17 205.55,117.56 205.81,133.04 206.19,122.98 208.75,115.82 209.01,131.29 209.4,121.23 211.96,114.42 212.21,129.9 212.6,119.84 215.16,113.31" fill="none" stroke="#a05a30" stroke-width="1" stroke-linejoin="round"/>
<polyline points="215.16,113.31 215.74,118.38 216.33,122.58 216.91,126.05 217.5,128.93 218.08,131.31 218.67,133.27 219.25,134.9 219.84,136.25 220.42,137.37 221.01,138.29 221.59,139.05 222.18,139.68 222.76,140.21 223.35,140.64 223.93,141 224.52,141.29 225.1,141.54 225.69,141.74 226.27,141.91 226.86,142.05 227.44,142.16 228.03,142.26 228.61,142.34 229.2,142.4" fill="none" stroke="#a05a30" stroke-width="2.3" stroke-linejoin="round"/>
<polyline points="203.67,151.31 204.52,136.83 208.21,123.45 208.5,138.92 208.95,128.86 211.9,116.1 212.19,131.58 212.63,121.52 215.58,112.07" fill="none" stroke="#222" stroke-width="1" stroke-linejoin="round"/>
<polyline points="215.58,112.07 216.01,118.33 216.44,123.51 216.86,127.8 217.29,131.35 217.71,134.28 218.14,136.71 218.56,138.72 218.99,140.38 219.41,141.76 219.84,142.9 220.26,143.84 220.69,144.62 221.12,145.26 221.54,145.8 221.97,146.24 222.39,146.6 222.82,146.91 223.24,147.16 223.67,147.36 224.09,147.54 224.52,147.68 224.94,147.79 225.37,147.89 225.8,147.97" fill="none" stroke="#222" stroke-width="2.3" stroke-linejoin="round"/>
<rect x="144.08" y="150.21" width="2.6" height="2.2" stroke="none" fill="#3a8a3a" stroke-width="0.8"/>
<rect x="158.46" y="150.21" width="2.6" height="2.2" stroke="none" fill="#c058e0" stroke-width="0.8"/>
<rect x="173.44" y="150.21" width="2.6" height="2.2" stroke="none" fill="#3838c8" stroke-width="0.8"/>
<rect x="187.39" y="150.21" width="2.6" height="2.2" stroke="none" fill="#a05a30" stroke-width="0.8"/>
<rect x="202.37" y="150.21" width="2.6" height="2.2" stroke="none" fill="#222" stroke-width="0.8"/>
</g>
<rect x="144.1" y="93.5" width="85.1" height="61.9" stroke="#7a7a7a" fill="none" stroke-width="0.85"/>
<rect x="140.3" y="151.55" width="2" height="1.5" stroke="none" fill="#8a8a8a" stroke-width="0.8" opacity="0.8"/>
<line x1="144.1" y1="152.3" x2="145.3" y2="152.3" stroke="#777" stroke-width="0.4"/>
<rect x="140.3" y="145.15" width="2" height="1.5" stroke="none" fill="#8a8a8a" stroke-width="0.8" opacity="0.8"/>
<line x1="144.1" y1="145.9" x2="145.3" y2="145.9" stroke="#777" stroke-width="0.4"/>
<rect x="140.3" y="138.75" width="2" height="1.5" stroke="none" fill="#8a8a8a" stroke-width="0.8" opacity="0.8"/>
<line x1="144.1" y1="139.5" x2="145.3" y2="139.5" stroke="#777" stroke-width="0.4"/>
<rect x="140.3" y="132.35" width="2" height="1.5" stroke="none" fill="#8a8a8a" stroke-width="0.8" opacity="0.8"/>
<line x1="144.1" y1="133.1" x2="145.3" y2="133.1" stroke="#777" stroke-width="0.4"/>
<rect x="140.3" y="125.95" width="2" height="1.5" stroke="none" fill="#8a8a8a" stroke-width="0.8" opacity="0.8"/>
<line x1="144.1" y1="126.7" x2="145.3" y2="126.7" stroke="#777" stroke-width="0.4"/>
<rect x="140.3" y="119.55" width="2" height="1.5" stroke="none" fill="#8a8a8a" stroke-width="0.8" opacity="0.8"/>
<line x1="144.1" y1="120.3" x2="145.3" y2="120.3" stroke="#777" stroke-width="0.4"/>
<rect x="140.3" y="113.15" width="2" height="1.5" stroke="none" fill="#8a8a8a" stroke-width="0.8" opacity="0.8"/>
<line x1="144.1" y1="113.9" x2="145.3" y2="113.9" stroke="#777" stroke-width="0.4"/>
<rect x="140.3" y="106.75" width="2" height="1.5" stroke="none" fill="#8a8a8a" stroke-width="0.8" opacity="0.8"/>
<line x1="144.1" y1="107.5" x2="145.3" y2="107.5" stroke="#777" stroke-width="0.4"/>
<rect x="140.3" y="100.35" width="2" height="1.5" stroke="none" fill="#8a8a8a" stroke-width="0.8" opacity="0.8"/>
<line x1="144.1" y1="101.1" x2="145.3" y2="101.1" stroke="#777" stroke-width="0.4"/>
<rect x="142.8" y="157.4" width="2.6" height="1.5" stroke="none" fill="#8a8a8a" stroke-width="0.8" opacity="0.8"/>
<rect x="156.98" y="157.4" width="2.6" height="1.5" stroke="none" fill="#8a8a8a" stroke-width="0.8" opacity="0.8"/>
<rect x="171.17" y="157.4" width="2.6" height="1.5" stroke="none" fill="#8a8a8a" stroke-width="0.8" opacity="0.8"/>
<rect x="185.35" y="157.4" width="2.6" height="1.5" stroke="none" fill="#8a8a8a" stroke-width="0.8" opacity="0.8"/>
<rect x="199.53" y="157.4" width="2.6" height="1.5" stroke="none" fill="#8a8a8a" stroke-width="0.8" opacity="0.8"/>
<rect x="213.72" y="157.4" width="2.6" height="1.5" stroke="none" fill="#8a8a8a" stroke-width="0.8" opacity="0.8"/>
<rect x="227.9" y="157.4" width="2.6" height="1.5" stroke="none" fill="#8a8a8a" stroke-width="0.8" opacity="0.8"/>
<text x="133.8" y="128.65" font-size="5.4" fill="#1a1a1a" text-anchor="middle" font-weight="bold" font-family='"Liberation Sans", sans-serif' transform="rotate(-90 133.8 128.65)">&#916;EPSC (nA)</text>
<text x="187.15" y="166" font-size="5.6" fill="#111" text-anchor="middle" font-weight="bold" font-family='"Liberation Sans", sans-serif'>Time (s)</text>
<text transform="translate(153.8 110) scale(0.92 1)" x="0" y="0" font-size="8.4" fill="#8a2a20" font-weight="bold" font-family='"Liberation Sans", sans-serif' stroke="#8a2a20" stroke-width="0.2">0.5V</text>
<rect x="248" y="93.5" width="85.5" height="61.9" fill="#fff"/>
<clipPath id="c248_93"><rect x="248.3" y="93.8" width="84.9" height="61.3"/></clipPath>
<rect x="250.6" y="95" width="76.4" height="3.3" stroke="#a0a0a0" fill="#fff" stroke-width="0.4"/>
<line x1="251.6" y1="96.65" x2="258.02" y2="96.65" stroke="#a8a8a8" stroke-width="0.5"/>
<rect x="258.93" y="95.9" width="5.81" height="1.5" stroke="none" fill="#707070" stroke-width="0.8" opacity="0.6"/>
<line x1="266.88" y1="96.65" x2="273.3" y2="96.65" stroke="#a8a8a8" stroke-width="0.5"/>
<rect x="274.21" y="95.9" width="5.81" height="1.5" stroke="none" fill="#707070" stroke-width="0.8" opacity="0.6"/>
<line x1="282.16" y1="96.65" x2="288.58" y2="96.65" stroke="#a8a8a8" stroke-width="0.5"/>
<rect x="289.49" y="95.9" width="5.81" height="1.5" stroke="none" fill="#707070" stroke-width="0.8" opacity="0.6"/>
<line x1="297.44" y1="96.65" x2="303.86" y2="96.65" stroke="#a8a8a8" stroke-width="0.5"/>
<rect x="304.77" y="95.9" width="5.81" height="1.5" stroke="none" fill="#707070" stroke-width="0.8" opacity="0.6"/>
<line x1="312.72" y1="96.65" x2="319.14" y2="96.65" stroke="#a8a8a8" stroke-width="0.5"/>
<rect x="320.05" y="95.9" width="5.81" height="1.5" stroke="none" fill="#707070" stroke-width="0.8" opacity="0.6"/>
<g clip-path="url(#c248_93)">
<polyline points="248,147.35 254.24,149.83 254.24,137.45 257.73,133.24 258.01,144.38 258.43,137.14 261.21,129.51 261.49,140.65 261.91,133.41 264.7,126.21 264.98,137.35 265.4,130.11 268.19,123.29 268.47,134.43 268.88,127.19 271.67,120.71 271.95,131.85 272.37,124.61 275.16,118.42 275.44,129.56 275.86,122.32 278.65,116.4 278.93,127.54 279.34,120.3 282.13,114.61 282.41,125.75 282.83,118.51 285.62,113.02 285.9,124.16 286.32,116.92 289.11,111.62 289.39,122.76 289.8,115.52 292.59,110.38 292.87,121.52 293.29,114.28 296.08,109.28 296.36,120.42 296.78,113.18 299.57,108.31 299.84,119.45 300.26,112.21 303.05,107.45 303.33,118.59 303.75,111.35 306.54,106.69 306.82,117.83 307.24,110.59 310.03,106.01 310.3,117.16 310.72,109.91 313.51,105.42 313.79,116.56 314.21,109.32 317,104.89 317.69,108.93 318.37,112.46 319.06,115.52 319.75,118.19 320.44,120.51 321.12,122.53 321.81,124.29 322.5,125.82 323.19,127.15 323.87,128.31 324.56,129.32 325.25,130.19 325.94,130.96 326.62,131.62 327.31,132.2 328,132.71 328.69,133.14 329.37,133.53 330.06,133.86 330.75,134.15 331.44,134.4 332.12,134.62 332.81,134.81 333.5,134.97" fill="none" stroke="#2f8a3a" stroke-width="0.9" stroke-linejoin="round"/>
<polyline points="263.39,147.97 266.64,149.83 266.64,141.78 270.05,136.63 270.33,147.77 270.74,140.53 273.47,132.17 273.74,143.31 274.15,136.07 276.88,128.33 277.16,139.47 277.56,132.23 280.3,125.01 280.57,136.15 280.98,128.91 283.71,122.14 283.98,133.28 284.39,126.04 287.12,119.66 287.4,130.8 287.81,123.56 290.54,117.52 290.81,128.66 291.22,121.42 293.95,115.67 294.23,126.82 294.64,119.57 297.37,114.08 297.64,125.22 298.05,117.98 300.78,112.7 301.06,123.84 301.46,116.6 304.2,111.51 304.47,122.65 304.88,115.41 307.61,110.49 307.88,121.63 308.29,114.38 311.02,109.6 311.3,120.74 311.71,113.5 314.44,108.83 314.71,119.97 315.12,112.73 317.85,108.17 318.51,112.19 319.16,115.69 319.81,118.74 320.46,121.39 321.11,123.69 321.77,125.7 322.42,127.45 323.07,128.97 323.72,130.29 324.37,131.44 325.02,132.45 325.68,133.32 326.33,134.08 326.98,134.74 327.63,135.31 328.28,135.81 328.94,136.25 329.59,136.63 330.24,136.96 330.89,137.25 331.54,137.5 332.2,137.71 332.85,137.9 333.5,138.07" fill="none" stroke="#b048d8" stroke-width="0.9" stroke-linejoin="round"/>
<polyline points="277.07,147.97 279.89,149.83 279.89,143.02 283.34,136.08 283.62,147.22 284.03,139.98 286.79,130.4 287.07,141.54 287.48,134.3 290.24,125.75 290.52,136.89 290.93,129.64 293.7,121.94 293.97,133.08 294.39,125.84 297.15,118.82 297.42,129.96 297.84,122.72 300.6,116.26 300.87,127.41 301.29,120.16 304.05,114.17 304.33,125.32 304.74,118.07 307.5,112.46 307.78,123.6 308.19,116.36 310.95,111.06 311.23,122.2 311.64,114.96 314.4,109.91 314.68,121.06 315.09,113.81 317.85,108.97 318.51,113.39 319.16,117.23 319.81,120.57 320.46,123.48 321.11,126.01 321.77,128.21 322.42,130.13 323.07,131.8 323.72,133.25 324.37,134.51 325.02,135.61 325.68,136.57 326.33,137.4 326.98,138.13 327.63,138.76 328.28,139.31 328.94,139.79 329.59,140.2 330.24,140.57 330.89,140.88 331.54,141.15 332.2,141.39 332.85,141.6 333.5,141.78" fill="none" stroke="#2a2ab8" stroke-width="0.9" stroke-linejoin="round"/>
<polyline points="291.18,149.83 292.2,146.12 295.78,137.1 296.07,148.25 296.5,141 299.36,130.52 299.65,141.66 300.08,134.42 302.94,125.72 303.23,136.86 303.66,129.62 306.52,122.21 306.8,133.35 307.23,126.11 310.1,119.64 310.38,130.78 310.81,123.54 313.68,117.77 313.96,128.91 314.39,121.67 317.25,116.4 317.79,119.98 318.32,123.1 318.86,125.81 319.39,128.17 319.93,130.22 320.46,132.01 321,133.56 321.53,134.92 322.06,136.1 322.6,137.12 323.13,138.01 323.67,138.79 324.2,139.47 324.74,140.06 325.27,140.57 325.81,141.01 326.34,141.4 326.87,141.74 327.41,142.03 327.94,142.29 328.48,142.51 329.01,142.7 329.55,142.87 330.08,143.02" fill="none" stroke="#a0522d" stroke-width="0.9" stroke-linejoin="round"/>
<polyline points="305.46,149.83 305.46,143.02 309.39,129.78 309.7,140.92 310.18,133.68 313.32,123.42 313.64,134.56 314.11,127.32 317.25,120.36 317.79,123.41 318.32,126.06 318.86,128.37 319.39,130.38 319.93,132.13 320.46,133.65 321,134.97 321.53,136.12 322.06,137.13 322.6,138 323.13,138.76 323.67,139.42 324.2,140 324.74,140.5 325.27,140.93 325.81,141.31 326.34,141.64 326.87,141.93 327.41,142.18 327.94,142.4 328.48,142.59 329.01,142.75 329.55,142.9 330.08,143.02" fill="none" stroke="#151515" stroke-width="0.9" stroke-linejoin="round"/>
</g>
<rect x="248" y="93.5" width="85.5" height="61.9" stroke="#7a7a7a" fill="none" stroke-width="0.85"/>
<rect x="244.2" y="149.45" width="2" height="1.5" stroke="none" fill="#8a8a8a" stroke-width="0.8" opacity="0.8"/>
<line x1="248" y1="150.2" x2="249.2" y2="150.2" stroke="#777" stroke-width="0.4"/>
<rect x="244.2" y="139.15" width="2" height="1.5" stroke="none" fill="#8a8a8a" stroke-width="0.8" opacity="0.8"/>
<line x1="248" y1="139.9" x2="249.2" y2="139.9" stroke="#777" stroke-width="0.4"/>
<rect x="244.2" y="128.85" width="2" height="1.5" stroke="none" fill="#8a8a8a" stroke-width="0.8" opacity="0.8"/>
<line x1="248" y1="129.6" x2="249.2" y2="129.6" stroke="#777" stroke-width="0.4"/>
<rect x="244.2" y="118.55" width="2" height="1.5" stroke="none" fill="#8a8a8a" stroke-width="0.8" opacity="0.8"/>
<line x1="248" y1="119.3" x2="249.2" y2="119.3" stroke="#777" stroke-width="0.4"/>
<rect x="244.2" y="108.25" width="2" height="1.5" stroke="none" fill="#8a8a8a" stroke-width="0.8" opacity="0.8"/>
<line x1="248" y1="109" x2="249.2" y2="109" stroke="#777" stroke-width="0.4"/>
<rect x="244.2" y="97.95" width="2" height="1.5" stroke="none" fill="#8a8a8a" stroke-width="0.8" opacity="0.8"/>
<line x1="248" y1="98.7" x2="249.2" y2="98.7" stroke="#777" stroke-width="0.4"/>
<rect x="246.7" y="157.4" width="2.6" height="1.5" stroke="none" fill="#8a8a8a" stroke-width="0.8" opacity="0.8"/>
<rect x="260.95" y="157.4" width="2.6" height="1.5" stroke="none" fill="#8a8a8a" stroke-width="0.8" opacity="0.8"/>
<rect x="275.2" y="157.4" width="2.6" height="1.5" stroke="none" fill="#8a8a8a" stroke-width="0.8" opacity="0.8"/>
<rect x="289.45" y="157.4" width="2.6" height="1.5" stroke="none" fill="#8a8a8a" stroke-width="0.8" opacity="0.8"/>
<rect x="303.7" y="157.4" width="2.6" height="1.5" stroke="none" fill="#8a8a8a" stroke-width="0.8" opacity="0.8"/>
<rect x="317.95" y="157.4" width="2.6" height="1.5" stroke="none" fill="#8a8a8a" stroke-width="0.8" opacity="0.8"/>
<rect x="332.2" y="157.4" width="2.6" height="1.5" stroke="none" fill="#8a8a8a" stroke-width="0.8" opacity="0.8"/>
<text x="237.7" y="128.65" font-size="5.4" fill="#1a1a1a" text-anchor="middle" font-weight="bold" font-family='"Liberation Sans", sans-serif' transform="rotate(-90 237.7 128.65)">&#916;EPSC (nA)</text>
<text x="291.25" y="166" font-size="5.6" fill="#111" text-anchor="middle" font-weight="bold" font-family='"Liberation Sans", sans-serif'>Time (s)</text>
<text transform="translate(260.8 109.8) scale(0.92 1)" x="0" y="0" font-size="8.4" fill="#6a2a18" font-weight="bold" font-family='"Liberation Sans", sans-serif' stroke="#6a2a18" stroke-width="0.2">1V</text>
<rect x="352" y="93.5" width="84.7" height="61.9" fill="#fff"/>
<clipPath id="c352_93"><rect x="352.3" y="93.8" width="84.1" height="61.3"/></clipPath>
<rect x="354.6" y="95" width="75.6" height="3.3" stroke="#a0a0a0" fill="#fff" stroke-width="0.4"/>
<line x1="355.6" y1="96.65" x2="361.95" y2="96.65" stroke="#a8a8a8" stroke-width="0.5"/>
<rect x="362.86" y="95.9" width="5.75" height="1.5" stroke="none" fill="#707070" stroke-width="0.8" opacity="0.6"/>
<line x1="370.72" y1="96.65" x2="377.07" y2="96.65" stroke="#a8a8a8" stroke-width="0.5"/>
<rect x="377.98" y="95.9" width="5.75" height="1.5" stroke="none" fill="#707070" stroke-width="0.8" opacity="0.6"/>
<line x1="385.84" y1="96.65" x2="392.19" y2="96.65" stroke="#a8a8a8" stroke-width="0.5"/>
<rect x="393.1" y="95.9" width="5.75" height="1.5" stroke="none" fill="#707070" stroke-width="0.8" opacity="0.6"/>
<line x1="400.96" y1="96.65" x2="407.31" y2="96.65" stroke="#a8a8a8" stroke-width="0.5"/>
<rect x="408.22" y="95.9" width="5.75" height="1.5" stroke="none" fill="#707070" stroke-width="0.8" opacity="0.6"/>
<line x1="416.08" y1="96.65" x2="422.43" y2="96.65" stroke="#a8a8a8" stroke-width="0.5"/>
<rect x="423.34" y="95.9" width="5.75" height="1.5" stroke="none" fill="#707070" stroke-width="0.8" opacity="0.6"/>
<g clip-path="url(#c352_93)">
<polyline points="352,149.83 362.16,151.31 362.16,144.26 363.93,138.78 365.11,141.87 366.87,134 368.05,137.09 369.81,129.82 370.99,132.92 372.75,126.18 373.93,129.28 375.69,123.01 376.87,126.1 378.64,120.23 379.81,123.33 381.58,117.82 382.75,120.91 384.52,115.71 385.7,118.8 387.46,113.86 388.64,116.96 390.4,112.26 391.58,115.35 393.34,110.86 394.52,113.95 396.28,109.63 397.46,112.73 399.23,108.57 400.4,111.66 402.17,107.64 403.34,110.73 405.11,106.82 406.28,109.92 408.05,106.11 409.23,109.21 410.99,105.5 412.17,108.59 413.93,104.96 415.11,108.05 416.87,104.49 418.05,107.58 419.82,104.08 420.99,107.17 422.76,103.72 423.93,106.81 425.7,103.4 426.87,103.4 427.28,105.49 427.69,107.39 428.1,109.13 428.51,110.71 428.92,112.15 429.33,113.47 429.74,114.66 430.15,115.75 430.56,116.75 430.97,117.66 431.38,118.48 431.79,119.24 432.2,119.92 432.61,120.55 433.02,121.12 433.42,121.64 433.83,122.12 434.24,122.55 434.65,122.94 435.06,123.3 435.47,123.63 435.88,123.93 436.29,124.2 436.7,124.45" fill="none" stroke="#3a8a4a" stroke-width="0.7" stroke-linejoin="round"/>
<rect x="363.18" y="138.03" width="1.5" height="1.5" fill="#3a8a4a" transform="rotate(45 363.93 138.78)"/>
<rect x="374.94" y="122.26" width="1.5" height="1.5" fill="#3a8a4a" transform="rotate(45 375.69 123.01)"/>
<rect x="386.71" y="113.11" width="1.5" height="1.5" fill="#3a8a4a" transform="rotate(45 387.46 113.86)"/>
<rect x="398.48" y="107.82" width="1.5" height="1.5" fill="#3a8a4a" transform="rotate(45 399.23 108.57)"/>
<rect x="410.24" y="104.75" width="1.5" height="1.5" fill="#3a8a4a" transform="rotate(45 410.99 105.5)"/>
<rect x="422.01" y="102.97" width="1.5" height="1.5" fill="#3a8a4a" transform="rotate(45 422.76 103.72)"/>
<polyline points="367.25,147.97 373.77,151.69 373.77,147.97 375.48,143.51 376.63,146.61 378.35,139.74 379.49,142.83 381.21,136.54 382.35,139.64 384.07,133.83 385.21,136.93 386.93,131.54 388.07,134.64 389.79,129.61 390.93,132.7 392.65,127.97 393.79,131.06 395.51,126.58 396.66,129.67 398.37,125.4 399.52,128.5 401.23,124.41 402.38,127.5 404.09,123.56 405.24,126.66 406.96,122.85 408.1,125.95 409.82,122.25 410.96,125.34 412.68,121.74 413.82,124.83 415.54,121.3 416.68,124.4 418.4,120.94 419.54,124.03 421.26,120.63 422.4,123.72 424.12,120.36 425.27,120.36 425.74,122.73 426.22,124.89 426.69,126.86 427.17,128.66 427.65,130.3 428.12,131.79 428.6,133.15 429.08,134.39 429.55,135.52 430.03,136.55 430.51,137.48 430.98,138.34 431.46,139.12 431.94,139.83 432.41,140.48 432.89,141.07 433.36,141.61 433.84,142.1 434.32,142.55 434.79,142.96 435.27,143.33 435.75,143.67 436.22,143.98 436.7,144.26" fill="none" stroke="#b060d0" stroke-width="0.7" stroke-linejoin="round"/>
<rect x="374.73" y="142.76" width="1.5" height="1.5" fill="#b060d0" transform="rotate(45 375.48 143.51)"/>
<rect x="386.18" y="130.79" width="1.5" height="1.5" fill="#b060d0" transform="rotate(45 386.93 131.54)"/>
<rect x="397.62" y="124.65" width="1.5" height="1.5" fill="#b060d0" transform="rotate(45 398.37 125.4)"/>
<rect x="409.07" y="121.5" width="1.5" height="1.5" fill="#b060d0" transform="rotate(45 409.82 122.25)"/>
<rect x="420.51" y="119.88" width="1.5" height="1.5" fill="#b060d0" transform="rotate(45 421.26 120.63)"/>
<polyline points="380.29,147.97 383.59,151.69 383.59,149.21 385.36,144.01 386.54,147.11 388.32,139.89 389.5,142.99 391.27,136.62 392.45,139.71 394.22,134.02 395.4,137.11 397.17,131.95 398.35,135.05 400.12,130.31 401.3,133.41 403.07,129.01 404.25,132.11 406.02,127.98 407.2,131.07 408.98,127.16 410.16,130.25 411.93,126.51 413.11,129.6 414.88,125.99 416.06,129.09 417.83,125.58 419.01,128.68 420.78,125.25 421.96,125.25 422.54,127.88 423.12,130.27 423.7,132.44 424.28,134.43 424.86,136.24 425.43,137.89 426.01,139.39 426.59,140.77 427.17,142.02 427.75,143.15 428.33,144.19 428.91,145.14 429.49,146 430.07,146.79 430.64,147.51 431.22,148.16 431.8,148.76 432.38,149.3 432.96,149.79 433.54,150.25 434.12,150.66 434.7,151.03 435.27,151.37 435.85,151.69" fill="none" stroke="#3a3a90" stroke-width="0.7" stroke-linejoin="round"/>
<rect x="384.61" y="143.26" width="1.5" height="1.5" fill="#3a3a90" transform="rotate(45 385.36 144.01)"/>
<rect x="396.42" y="131.2" width="1.5" height="1.5" fill="#3a3a90" transform="rotate(45 397.17 131.95)"/>
<rect x="408.23" y="126.41" width="1.5" height="1.5" fill="#3a3a90" transform="rotate(45 408.98 127.16)"/>
<rect x="420.03" y="124.5" width="1.5" height="1.5" fill="#3a3a90" transform="rotate(45 420.78 125.25)"/>
<polyline points="395.03,151.69 396.82,144.3 398.02,147.39 399.82,139.01 401.01,142.1 402.81,135.21 404.01,138.31 405.8,132.5 407,135.59 408.79,130.55 409.99,133.65 411.79,129.16 412.98,132.25 414.78,128.16 415.98,131.25 417.77,127.44 418.97,130.53 420.77,126.93 421.96,126.93 422.51,129.38 423.05,131.62 423.59,133.66 424.14,135.52 424.68,137.22 425.22,138.76 425.77,140.17 426.31,141.46 426.85,142.63 427.4,143.69 427.94,144.67 428.48,145.55 429.03,146.36 429.57,147.1 430.11,147.77 430.66,148.38 431.2,148.94 431.75,149.45 432.29,149.91 432.83,150.34 433.38,150.72 433.92,151.07 434.46,151.39 435.01,151.69" fill="none" stroke="#c07a40" stroke-width="0.7" stroke-linejoin="round"/>
<rect x="396.07" y="143.55" width="1.5" height="1.5" fill="#c07a40" transform="rotate(45 396.82 144.3)"/>
<rect x="408.04" y="129.8" width="1.5" height="1.5" fill="#c07a40" transform="rotate(45 408.79 130.55)"/>
<rect x="420.02" y="126.18" width="1.5" height="1.5" fill="#c07a40" transform="rotate(45 420.77 126.93)"/>
<polyline points="409.6,151.69 411.45,139.66 412.69,142.75 414.54,133.97 415.78,137.07 417.63,131.29 418.87,134.38 420.73,130.02 421.96,130.02 422.51,132.17 423.05,134.13 423.59,135.91 424.14,137.54 424.68,139.03 425.22,140.38 425.77,141.61 426.31,142.73 426.85,143.76 427.4,144.69 427.94,145.54 428.48,146.32 429.03,147.03 429.57,147.67 430.11,148.26 430.66,148.8 431.2,149.28 431.75,149.73 432.29,150.14 432.83,150.51 433.38,150.84 433.92,151.15 434.46,151.43 435.01,151.69" fill="none" stroke="#333" stroke-width="0.7" stroke-linejoin="round"/>
<rect x="410.7" y="138.91" width="1.5" height="1.5" fill="#333" transform="rotate(45 411.45 139.66)"/>
</g>
<rect x="352" y="93.5" width="84.7" height="61.9" stroke="#7a7a7a" fill="none" stroke-width="0.85"/>
<rect x="348.2" y="150.75" width="2" height="1.5" stroke="none" fill="#8a8a8a" stroke-width="0.8" opacity="0.8"/>
<line x1="352" y1="151.5" x2="353.2" y2="151.5" stroke="#777" stroke-width="0.4"/>
<rect x="348.2" y="142.45" width="2" height="1.5" stroke="none" fill="#8a8a8a" stroke-width="0.8" opacity="0.8"/>
<line x1="352" y1="143.2" x2="353.2" y2="143.2" stroke="#777" stroke-width="0.4"/>
<rect x="348.2" y="134.15" width="2" height="1.5" stroke="none" fill="#8a8a8a" stroke-width="0.8" opacity="0.8"/>
<line x1="352" y1="134.9" x2="353.2" y2="134.9" stroke="#777" stroke-width="0.4"/>
<rect x="348.2" y="125.85" width="2" height="1.5" stroke="none" fill="#8a8a8a" stroke-width="0.8" opacity="0.8"/>
<line x1="352" y1="126.6" x2="353.2" y2="126.6" stroke="#777" stroke-width="0.4"/>
<rect x="348.2" y="117.55" width="2" height="1.5" stroke="none" fill="#8a8a8a" stroke-width="0.8" opacity="0.8"/>
<line x1="352" y1="118.3" x2="353.2" y2="118.3" stroke="#777" stroke-width="0.4"/>
<rect x="348.2" y="109.25" width="2" height="1.5" stroke="none" fill="#8a8a8a" stroke-width="0.8" opacity="0.8"/>
<line x1="352" y1="110" x2="353.2" y2="110" stroke="#777" stroke-width="0.4"/>
<rect x="348.2" y="100.95" width="2" height="1.5" stroke="none" fill="#8a8a8a" stroke-width="0.8" opacity="0.8"/>
<line x1="352" y1="101.7" x2="353.2" y2="101.7" stroke="#777" stroke-width="0.4"/>
<rect x="350.7" y="157.4" width="2.6" height="1.5" stroke="none" fill="#8a8a8a" stroke-width="0.8" opacity="0.8"/>
<rect x="364.82" y="157.4" width="2.6" height="1.5" stroke="none" fill="#8a8a8a" stroke-width="0.8" opacity="0.8"/>
<rect x="378.93" y="157.4" width="2.6" height="1.5" stroke="none" fill="#8a8a8a" stroke-width="0.8" opacity="0.8"/>
<rect x="393.05" y="157.4" width="2.6" height="1.5" stroke="none" fill="#8a8a8a" stroke-width="0.8" opacity="0.8"/>
<rect x="407.17" y="157.4" width="2.6" height="1.5" stroke="none" fill="#8a8a8a" stroke-width="0.8" opacity="0.8"/>
<rect x="421.28" y="157.4" width="2.6" height="1.5" stroke="none" fill="#8a8a8a" stroke-width="0.8" opacity="0.8"/>
<rect x="435.4" y="157.4" width="2.6" height="1.5" stroke="none" fill="#8a8a8a" stroke-width="0.8" opacity="0.8"/>
<text x="341.7" y="128.65" font-size="5.4" fill="#1a1a1a" text-anchor="middle" font-weight="bold" font-family='"Liberation Sans", sans-serif' transform="rotate(-90 341.7 128.65)">&#916;EPSC (nA)</text>
<text x="394.85" y="166" font-size="5.6" fill="#111" text-anchor="middle" font-weight="bold" font-family='"Liberation Sans", sans-serif'>Time (s)</text>
<rect x="365.9" y="100" width="11.5" height="13.5" stroke="none" fill="#fcecf2" stroke-width="0.8" opacity="0.7"/>
<text transform="translate(366.6 110.3) scale(0.92 1)" x="0" y="0" font-size="8.4" fill="#a02a28" font-weight="bold" font-family='"Liberation Sans", sans-serif' stroke="#a02a28" stroke-width="0.2">3V</text>
<rect x="457.3" y="94.3" width="85" height="61.1" fill="#fff"/>
<clipPath id="c457_94"><rect x="457.6" y="94.6" width="84.4" height="60.5"/></clipPath>
<rect x="459.9" y="95.8" width="75.9" height="3.3" stroke="#a0a0a0" fill="#fff" stroke-width="0.4"/>
<line x1="460.9" y1="97.45" x2="467.28" y2="97.45" stroke="#a8a8a8" stroke-width="0.5"/>
<rect x="468.19" y="96.7" width="5.77" height="1.5" stroke="none" fill="#707070" stroke-width="0.8" opacity="0.6"/>
<line x1="476.08" y1="97.45" x2="482.46" y2="97.45" stroke="#a8a8a8" stroke-width="0.5"/>
<rect x="483.37" y="96.7" width="5.77" height="1.5" stroke="none" fill="#707070" stroke-width="0.8" opacity="0.6"/>
<line x1="491.26" y1="97.45" x2="497.64" y2="97.45" stroke="#a8a8a8" stroke-width="0.5"/>
<rect x="498.55" y="96.7" width="5.77" height="1.5" stroke="none" fill="#707070" stroke-width="0.8" opacity="0.6"/>
<line x1="506.44" y1="97.45" x2="512.82" y2="97.45" stroke="#a8a8a8" stroke-width="0.5"/>
<rect x="513.73" y="96.7" width="5.77" height="1.5" stroke="none" fill="#707070" stroke-width="0.8" opacity="0.6"/>
<line x1="521.62" y1="97.45" x2="528" y2="97.45" stroke="#a8a8a8" stroke-width="0.5"/>
<rect x="528.91" y="96.7" width="5.77" height="1.5" stroke="none" fill="#707070" stroke-width="0.8" opacity="0.6"/>
<g clip-path="url(#c457_94)">
<polyline points="457.3,152.47 463.08,152.47 463.08,143.97 464.82,138.27 465.99,141.33 467.73,133.33 468.89,136.39 470.64,129.05 471.8,132.1 473.54,125.33 474.7,128.39 476.45,122.11 477.61,125.17 479.35,119.32 480.52,122.38 482.26,116.9 483.42,119.96 485.17,114.81 486.33,117.86 488.07,112.99 489.24,116.04 490.98,111.41 492.14,114.47 493.89,110.05 495.05,113.1 496.79,108.86 497.95,111.92 499.7,107.84 500.86,110.89 502.6,106.95 503.77,110 505.51,106.17 506.67,109.23 508.42,105.5 509.58,108.56 511.32,104.93 512.49,107.98 514.23,104.42 515.39,107.48 517.14,103.99 518.3,107.04 520.04,103.61 521.2,106.66 522.95,103.28 524.11,103.28 524.87,105.62 525.63,107.75 526.38,109.7 527.14,111.47 527.9,113.08 528.66,114.56 529.42,115.9 530.17,117.12 530.93,118.24 531.69,119.25 532.45,120.18 533.2,121.03 533.96,121.8 534.72,122.5 535.48,123.14 536.24,123.72 536.99,124.25 537.75,124.74 538.51,125.18 539.27,125.58 540.03,125.95 540.78,126.28 541.54,126.59 542.3,126.87" fill="none" stroke="#3a8a4a" stroke-width="0.7" stroke-linejoin="round"/>
<rect x="464.07" y="137.52" width="1.5" height="1.5" fill="#3a8a4a" transform="rotate(45 464.82 138.27)"/>
<rect x="475.7" y="121.36" width="1.5" height="1.5" fill="#3a8a4a" transform="rotate(45 476.45 122.11)"/>
<rect x="487.32" y="112.24" width="1.5" height="1.5" fill="#3a8a4a" transform="rotate(45 488.07 112.99)"/>
<rect x="498.95" y="107.09" width="1.5" height="1.5" fill="#3a8a4a" transform="rotate(45 499.7 107.84)"/>
<rect x="510.57" y="104.18" width="1.5" height="1.5" fill="#3a8a4a" transform="rotate(45 511.32 104.93)"/>
<rect x="522.2" y="102.53" width="1.5" height="1.5" fill="#3a8a4a" transform="rotate(45 522.95 103.28)"/>
<polyline points="469.62,152.47 471.75,152.34 473.44,144.94 474.57,148 476.26,138.67 477.39,141.73 479.08,133.37 480.21,136.42 481.9,128.88 483.03,131.93 484.72,125.08 485.85,128.13 487.54,121.86 488.66,124.92 490.36,119.14 491.48,122.19 493.18,116.83 494.3,119.89 495.99,114.88 497.12,117.93 498.81,113.23 499.94,116.28 501.63,111.83 502.76,114.88 504.45,110.65 505.58,113.7 507.27,109.64 508.4,112.7 510.09,108.8 511.22,111.85 512.91,108.08 514.04,111.13 515.73,107.47 516.86,110.52 518.55,106.96 519.68,110.01 521.37,106.52 522.5,106.52 523.32,109.59 524.15,112.39 524.97,114.95 525.8,117.27 526.62,119.4 527.45,121.33 528.27,123.09 529.1,124.7 529.92,126.16 530.75,127.5 531.57,128.72 532.4,129.83 533.22,130.84 534.05,131.76 534.87,132.6 535.7,133.37 536.52,134.06 537.35,134.7 538.17,135.28 539,135.81 539.82,136.29 540.65,136.73 541.47,137.13 542.3,137.5" fill="none" stroke="#b060d0" stroke-width="0.7" stroke-linejoin="round"/>
<rect x="472.69" y="144.19" width="1.5" height="1.5" fill="#b060d0" transform="rotate(45 473.44 144.94)"/>
<rect x="483.97" y="124.33" width="1.5" height="1.5" fill="#b060d0" transform="rotate(45 484.72 125.08)"/>
<rect x="495.24" y="114.13" width="1.5" height="1.5" fill="#b060d0" transform="rotate(45 495.99 114.88)"/>
<rect x="506.52" y="108.89" width="1.5" height="1.5" fill="#b060d0" transform="rotate(45 507.27 109.64)"/>
<rect x="517.8" y="106.21" width="1.5" height="1.5" fill="#b060d0" transform="rotate(45 518.55 106.96)"/>
<polyline points="481.95,151.31 487.9,152.96 487.9,153.57 489.7,142.98 490.9,146.03 492.7,134.91 493.9,137.97 495.7,128.78 496.89,131.83 498.69,124.1 499.89,127.16 501.69,120.55 502.89,123.6 504.69,117.84 505.89,120.89 507.69,115.78 508.89,118.83 510.69,114.21 511.89,117.26 513.68,113.01 514.88,116.07 516.68,112.1 517.88,115.16 519.68,111.41 520.88,111.41 521.77,114.64 522.66,117.58 523.56,120.27 524.45,122.71 525.34,124.94 526.23,126.98 527.13,128.83 528.02,130.52 528.91,132.06 529.8,133.46 530.7,134.74 531.59,135.91 532.48,136.97 533.38,137.94 534.27,138.82 535.16,139.63 536.05,140.36 536.94,141.03 537.84,141.64 538.73,142.2 539.62,142.71 540.51,143.17 541.41,143.59 542.3,143.97" fill="none" stroke="#3a3a90" stroke-width="0.7" stroke-linejoin="round"/>
<rect x="488.95" y="142.23" width="1.5" height="1.5" fill="#3a3a90" transform="rotate(45 489.7 142.98)"/>
<rect x="500.94" y="119.8" width="1.5" height="1.5" fill="#3a3a90" transform="rotate(45 501.69 120.55)"/>
<rect x="512.93" y="112.26" width="1.5" height="1.5" fill="#3a3a90" transform="rotate(45 513.68 113.01)"/>
<polyline points="493,152.47 494.44,152.47 496.09,142.17 497.19,145.22 498.84,134.79 499.94,137.84 501.59,129.5 502.69,132.56 504.34,125.71 505.44,128.77 507.09,123 508.19,126.05 509.84,121.05 510.93,124.11 512.58,119.66 513.68,122.71 515.33,118.66 516.43,121.72 518.08,117.95 519.18,117.95 520.14,121.48 521.11,124.7 522.07,127.64 523.03,130.31 524,132.75 524.96,134.97 525.92,137 526.89,138.85 527.85,140.53 528.81,142.07 529.78,143.47 530.74,144.74 531.7,145.91 532.67,146.97 533.63,147.93 534.59,148.82 535.56,149.62 536.52,150.35 537.48,151.02 538.45,151.63 539.41,152.18 540.37,152.69 541.34,153.15 542.3,153.57" fill="none" stroke="#c07a40" stroke-width="0.7" stroke-linejoin="round"/>
<rect x="495.34" y="141.42" width="1.5" height="1.5" fill="#c07a40" transform="rotate(45 496.09 142.17)"/>
<rect x="506.34" y="122.25" width="1.5" height="1.5" fill="#c07a40" transform="rotate(45 507.09 123)"/>
<rect x="517.33" y="117.2" width="1.5" height="1.5" fill="#c07a40" transform="rotate(45 518.08 117.95)"/>
<polyline points="505.75,152.47 506.85,152.47 508.44,138.77 509.49,141.83 511.07,131.26 512.12,134.31 513.71,127.13 514.76,130.19 516.34,124.87 517.39,127.93 518.98,123.63 520.03,123.63 520.67,126.37 521.32,128.88 521.96,131.16 522.61,133.24 523.25,135.13 523.9,136.86 524.54,138.43 525.19,139.87 525.83,141.18 526.48,142.37 527.12,143.46 527.76,144.45 528.41,145.36 529.05,146.18 529.7,146.93 530.34,147.61 530.99,148.24 531.63,148.81 532.28,149.33 532.92,149.8 533.57,150.23 534.21,150.62 534.86,150.98 535.5,151.31" fill="none" stroke="#555" stroke-width="0.7" stroke-linejoin="round"/>
<rect x="507.69" y="138.02" width="1.5" height="1.5" fill="#555" transform="rotate(45 508.44 138.77)"/>
<rect x="518.23" y="122.88" width="1.5" height="1.5" fill="#555" transform="rotate(45 518.98 123.63)"/>
</g>
<rect x="457.3" y="94.3" width="85" height="61.1" stroke="#7a7a7a" fill="none" stroke-width="0.85"/>
<rect x="453.5" y="151.65" width="2" height="1.5" stroke="none" fill="#8a8a8a" stroke-width="0.8" opacity="0.8"/>
<line x1="457.3" y1="152.4" x2="458.5" y2="152.4" stroke="#777" stroke-width="0.4"/>
<rect x="453.5" y="138.55" width="2" height="1.5" stroke="none" fill="#8a8a8a" stroke-width="0.8" opacity="0.8"/>
<line x1="457.3" y1="139.3" x2="458.5" y2="139.3" stroke="#777" stroke-width="0.4"/>
<rect x="453.5" y="125.45" width="2" height="1.5" stroke="none" fill="#8a8a8a" stroke-width="0.8" opacity="0.8"/>
<line x1="457.3" y1="126.2" x2="458.5" y2="126.2" stroke="#777" stroke-width="0.4"/>
<rect x="453.5" y="112.35" width="2" height="1.5" stroke="none" fill="#8a8a8a" stroke-width="0.8" opacity="0.8"/>
<line x1="457.3" y1="113.1" x2="458.5" y2="113.1" stroke="#777" stroke-width="0.4"/>
<rect x="453.5" y="99.25" width="2" height="1.5" stroke="none" fill="#8a8a8a" stroke-width="0.8" opacity="0.8"/>
<line x1="457.3" y1="100" x2="458.5" y2="100" stroke="#777" stroke-width="0.4"/>
<rect x="456" y="157.4" width="2.6" height="1.5" stroke="none" fill="#8a8a8a" stroke-width="0.8" opacity="0.8"/>
<rect x="468.14" y="157.4" width="2.6" height="1.5" stroke="none" fill="#8a8a8a" stroke-width="0.8" opacity="0.8"/>
<rect x="480.29" y="157.4" width="2.6" height="1.5" stroke="none" fill="#8a8a8a" stroke-width="0.8" opacity="0.8"/>
<rect x="492.43" y="157.4" width="2.6" height="1.5" stroke="none" fill="#8a8a8a" stroke-width="0.8" opacity="0.8"/>
<rect x="504.57" y="157.4" width="2.6" height="1.5" stroke="none" fill="#8a8a8a" stroke-width="0.8" opacity="0.8"/>
<rect x="516.71" y="157.4" width="2.6" height="1.5" stroke="none" fill="#8a8a8a" stroke-width="0.8" opacity="0.8"/>
<rect x="528.86" y="157.4" width="2.6" height="1.5" stroke="none" fill="#8a8a8a" stroke-width="0.8" opacity="0.8"/>
<rect x="541" y="157.4" width="2.6" height="1.5" stroke="none" fill="#8a8a8a" stroke-width="0.8" opacity="0.8"/>
<text x="447" y="129.05" font-size="5.4" fill="#1a1a1a" text-anchor="middle" font-weight="bold" font-family='"Liberation Sans", sans-serif' transform="rotate(-90 447 129.05)">&#916;EPSC (nA)</text>
<text x="500.3" y="166" font-size="5.6" fill="#111" text-anchor="middle" font-weight="bold" font-family='"Liberation Sans", sans-serif'>Time (s)</text>
<rect x="469.8" y="100.6" width="11.5" height="13.5" stroke="none" fill="#fcecf2" stroke-width="0.8" opacity="0.7"/>
<text transform="translate(470.5 110.9) scale(0.92 1)" x="0" y="0" font-size="8.4" fill="#a02a28" font-weight="bold" font-family='"Liberation Sans", sans-serif' stroke="#a02a28" stroke-width="0.2">5V</text>
<rect x="40.1" y="175.9" width="84.3" height="62.4" fill="#fff"/>
<clipPath id="c40_175"><rect x="40.4" y="176.2" width="83.7" height="61.8"/></clipPath>
<rect x="42.7" y="177.4" width="75.2" height="3.3" stroke="#a0a0a0" fill="#fff" stroke-width="0.4"/>
<line x1="43.7" y1="179.05" x2="50.02" y2="179.05" stroke="#a8a8a8" stroke-width="0.5"/>
<rect x="50.92" y="178.3" width="5.72" height="1.5" stroke="none" fill="#707070" stroke-width="0.8" opacity="0.6"/>
<line x1="58.74" y1="179.05" x2="65.06" y2="179.05" stroke="#a8a8a8" stroke-width="0.5"/>
<rect x="65.96" y="178.3" width="5.72" height="1.5" stroke="none" fill="#707070" stroke-width="0.8" opacity="0.6"/>
<line x1="73.78" y1="179.05" x2="80.1" y2="179.05" stroke="#a8a8a8" stroke-width="0.5"/>
<rect x="81" y="178.3" width="5.72" height="1.5" stroke="none" fill="#707070" stroke-width="0.8" opacity="0.6"/>
<line x1="88.82" y1="179.05" x2="95.14" y2="179.05" stroke="#a8a8a8" stroke-width="0.5"/>
<rect x="96.04" y="178.3" width="5.72" height="1.5" stroke="none" fill="#707070" stroke-width="0.8" opacity="0.6"/>
<line x1="103.86" y1="179.05" x2="110.18" y2="179.05" stroke="#a8a8a8" stroke-width="0.5"/>
<rect x="111.08" y="178.3" width="5.72" height="1.5" stroke="none" fill="#707070" stroke-width="0.8" opacity="0.6"/>
<g clip-path="url(#c40_175)">
<polyline points="40.94,232.06 45.16,232.06 46.59,227.03 47.55,230.78 48.98,222.48 49.93,226.23 51.36,218.36 52.32,222.11 53.75,214.64 54.71,218.38 56.14,211.27 57.09,215.01 58.53,208.22 59.48,211.96 60.91,205.46 61.87,209.2 63.3,202.96 64.26,206.71 65.69,200.7 66.64,204.45 68.08,198.66 69.03,202.4 70.46,196.81 71.42,200.55 72.85,195.13 73.8,198.88 75.24,193.62 76.19,197.36 77.62,192.25 78.58,195.99 80.01,191.01 80.97,194.75 82.4,189.89 83.35,193.63 84.79,188.87 85.74,192.62 87.17,187.95 88.13,191.7 89.56,187.12 90.52,190.87 91.95,186.37 92.9,190.11 94.33,185.69 95.29,189.43 96.72,185.07 97.68,185.07" fill="none" stroke="#1f781f" stroke-width="2.4" stroke-linejoin="round"/>
<polyline points="97.68,185.07 98.79,188.02 99.9,190.72 101.02,193.17 102.13,195.41 103.24,197.44 104.36,199.3 105.47,201 106.58,202.54 107.7,203.95 108.81,205.23 109.92,206.4 111.04,207.47 112.15,208.44 113.27,209.32 114.38,210.13 115.49,210.87 116.61,211.54 117.72,212.15 118.83,212.71 119.95,213.22 121.06,213.68 122.17,214.1 123.29,214.49 124.4,214.84" fill="none" stroke="#1f781f" stroke-width="3.2" stroke-linejoin="round"/>
<polyline points="51.48,232.06 55.7,230.81 57.09,226.78 58.03,230.53 59.43,223.1 60.36,226.84 61.76,219.72 62.69,223.47 64.09,216.64 65.02,220.38 66.42,213.81 67.36,217.56 68.76,211.23 69.69,214.97 71.09,208.86 72.02,212.61 73.42,206.7 74.35,210.44 75.75,204.72 76.69,208.47 78.09,202.91 79.02,206.65 80.42,201.25 81.35,205 82.75,199.74 83.68,203.48 85.08,198.35 86.02,202.09 87.41,197.08 88.35,200.83 89.75,195.92 90.68,199.66 92.08,194.86 93.01,198.6 94.41,193.89 95.34,197.63 96.74,193 97.68,193" fill="none" stroke="#d040e8" stroke-width="2.4" stroke-linejoin="round"/>
<polyline points="97.68,193 98.72,195.82 99.76,198.39 100.81,200.74 101.85,202.88 102.89,204.82 103.94,206.6 104.98,208.22 106.02,209.7 107.07,211.04 108.11,212.27 109.15,213.39 110.2,214.4 111.24,215.33 112.28,216.18 113.33,216.95 114.37,217.66 115.41,218.3 116.45,218.88 117.5,219.42 118.54,219.9 119.58,220.34 120.63,220.75 121.67,221.12 122.71,221.45" fill="none" stroke="#d040e8" stroke-width="3.2" stroke-linejoin="round"/>
<polyline points="61.18,232.06 65.39,232.06 66.77,227.65 67.7,231.39 69.08,223.65 70,227.4 71.39,220.04 72.31,223.78 73.69,216.77 74.61,220.51 76,213.81 76.92,217.55 78.3,211.13 79.23,214.88 80.61,208.71 81.53,212.45 82.92,206.52 83.84,210.26 85.22,204.54 86.15,208.28 87.53,202.74 88.45,206.49 89.84,201.12 90.76,204.86 92.14,199.65 93.06,203.39 94.45,198.32 95.37,202.06 96.75,197.12 97.68,197.12" fill="none" stroke="#4a5ae8" stroke-width="2.2" stroke-linejoin="round"/>
<polyline points="97.68,197.12 98.72,199.34 99.76,201.38 100.81,203.23 101.85,204.91 102.89,206.45 103.94,207.85 104.98,209.13 106.02,210.3 107.07,211.36 108.11,212.33 109.15,213.21 110.2,214.02 111.24,214.75 112.28,215.42 113.33,216.03 114.37,216.58 115.41,217.09 116.45,217.55 117.5,217.97 118.54,218.36 119.58,218.71 120.63,219.02 121.67,219.32 122.71,219.58" fill="none" stroke="#4a5ae8" stroke-width="3.2" stroke-linejoin="round"/>
<polyline points="73.82,232.06 78.04,232.06 79.51,226.84 80.49,230.58 81.96,222.23 82.95,225.98 84.42,218.17 85.4,221.91 86.87,214.58 87.86,218.33 89.33,211.42 90.31,215.16 91.78,208.62 92.77,212.37 94.24,206.16 95.22,209.9 96.69,203.98 97.68,203.98" fill="none" stroke="#d02a18" stroke-width="2.2" stroke-linejoin="round"/>
<polyline points="97.68,203.98 98.16,205.71 98.64,207.29 99.12,208.73 99.6,210.05 100.08,211.24 100.56,212.33 101.05,213.33 101.53,214.23 102.01,215.06 102.49,215.81 102.97,216.5 103.45,217.12 103.93,217.7 104.41,218.22 104.9,218.69 105.38,219.12 105.86,219.52 106.34,219.87 106.82,220.2 107.3,220.5 107.78,220.77 108.26,221.02 108.74,221.25 109.23,221.45" fill="none" stroke="#d02a18" stroke-width="3.2" stroke-linejoin="round"/>
<polyline points="82.25,232.06 86.47,232.06 87.89,226.28 88.85,230.02 90.28,221.31 91.23,225.05 92.66,217.03 93.61,220.77 95.04,213.34 95.99,213.34" fill="none" stroke="#111" stroke-width="2.6" stroke-linejoin="round"/>
<polyline points="95.99,213.34 96.65,215.01 97.3,216.53 97.96,217.92 98.62,219.19 99.28,220.34 99.93,221.39 100.59,222.35 101.25,223.23 101.9,224.02 102.56,224.75 103.22,225.41 103.87,226.02 104.53,226.57 105.19,227.07 105.84,227.52 106.5,227.94 107.16,228.32 107.81,228.67 108.47,228.98 109.13,229.27 109.78,229.53 110.44,229.77 111.1,229.99 111.75,230.19" fill="none" stroke="#111" stroke-width="3.2" stroke-linejoin="round"/>
<rect x="41.3" y="229.96" width="3.5" height="4.2" stroke="none" fill="#1f781f" stroke-width="0.8"/>
<rect x="51.84" y="229.96" width="3.5" height="4.2" stroke="none" fill="#d040e8" stroke-width="0.8"/>
<rect x="61.53" y="229.96" width="3.5" height="4.2" stroke="none" fill="#4a5ae8" stroke-width="0.8"/>
<rect x="74.18" y="229.96" width="3.5" height="4.2" stroke="none" fill="#d02a18" stroke-width="0.8"/>
<rect x="82.61" y="229.96" width="3.5" height="4.2" stroke="none" fill="#111" stroke-width="0.8"/>
</g>
<rect x="40.1" y="175.9" width="84.3" height="62.4" stroke="#7a7a7a" fill="none" stroke-width="0.85"/>
<rect x="36.3" y="234.05" width="2" height="1.5" stroke="none" fill="#8a8a8a" stroke-width="0.8" opacity="0.8"/>
<line x1="40.1" y1="234.8" x2="41.3" y2="234.8" stroke="#777" stroke-width="0.4"/>
<rect x="36.3" y="224.55" width="2" height="1.5" stroke="none" fill="#8a8a8a" stroke-width="0.8" opacity="0.8"/>
<line x1="40.1" y1="225.3" x2="41.3" y2="225.3" stroke="#777" stroke-width="0.4"/>
<rect x="36.3" y="215.05" width="2" height="1.5" stroke="none" fill="#8a8a8a" stroke-width="0.8" opacity="0.8"/>
<line x1="40.1" y1="215.8" x2="41.3" y2="215.8" stroke="#777" stroke-width="0.4"/>
<rect x="36.3" y="205.55" width="2" height="1.5" stroke="none" fill="#8a8a8a" stroke-width="0.8" opacity="0.8"/>
<line x1="40.1" y1="206.3" x2="41.3" y2="206.3" stroke="#777" stroke-width="0.4"/>
<rect x="36.3" y="196.05" width="2" height="1.5" stroke="none" fill="#8a8a8a" stroke-width="0.8" opacity="0.8"/>
<line x1="40.1" y1="196.8" x2="41.3" y2="196.8" stroke="#777" stroke-width="0.4"/>
<rect x="36.3" y="186.55" width="2" height="1.5" stroke="none" fill="#8a8a8a" stroke-width="0.8" opacity="0.8"/>
<line x1="40.1" y1="187.3" x2="41.3" y2="187.3" stroke="#777" stroke-width="0.4"/>
<rect x="38.8" y="240.3" width="2.6" height="1.5" stroke="none" fill="#8a8a8a" stroke-width="0.8" opacity="0.8"/>
<rect x="59.88" y="240.3" width="2.6" height="1.5" stroke="none" fill="#8a8a8a" stroke-width="0.8" opacity="0.8"/>
<rect x="80.95" y="240.3" width="2.6" height="1.5" stroke="none" fill="#8a8a8a" stroke-width="0.8" opacity="0.8"/>
<rect x="102.03" y="240.3" width="2.6" height="1.5" stroke="none" fill="#8a8a8a" stroke-width="0.8" opacity="0.8"/>
<rect x="123.1" y="240.3" width="2.6" height="1.5" stroke="none" fill="#8a8a8a" stroke-width="0.8" opacity="0.8"/>
<text x="29.8" y="211.3" font-size="5.4" fill="#1a1a1a" text-anchor="middle" font-weight="bold" font-family='"Liberation Sans", sans-serif' transform="rotate(-90 29.8 211.3)">&#916;EPSC (nA)</text>
<text x="82.75" y="248.9" font-size="5.6" fill="#111" text-anchor="middle" font-weight="bold" font-family='"Liberation Sans", sans-serif'>Time (s)</text>
<rect x="46.3" y="182.1" width="11.5" height="13.5" stroke="none" fill="#fcecf2" stroke-width="0.8" opacity="0.7"/>
<text transform="translate(47 192.4) scale(0.92 1)" x="0" y="0" font-size="8.4" fill="#7a3020" font-weight="bold" font-family='"Liberation Sans", sans-serif' stroke="#7a3020" stroke-width="0.2">0.2V</text>
<rect x="144" y="175.5" width="84.8" height="62.7" fill="#fff"/>
<clipPath id="c144_175"><rect x="144.3" y="175.8" width="84.2" height="62.1"/></clipPath>
<rect x="146.6" y="177" width="75.7" height="3.3" stroke="#a0a0a0" fill="#fff" stroke-width="0.4"/>
<line x1="147.6" y1="178.65" x2="153.96" y2="178.65" stroke="#a8a8a8" stroke-width="0.5"/>
<rect x="154.87" y="177.9" width="5.75" height="1.5" stroke="none" fill="#707070" stroke-width="0.8" opacity="0.6"/>
<line x1="162.74" y1="178.65" x2="169.1" y2="178.65" stroke="#a8a8a8" stroke-width="0.5"/>
<rect x="170.01" y="177.9" width="5.75" height="1.5" stroke="none" fill="#707070" stroke-width="0.8" opacity="0.6"/>
<line x1="177.88" y1="178.65" x2="184.24" y2="178.65" stroke="#a8a8a8" stroke-width="0.5"/>
<rect x="185.15" y="177.9" width="5.75" height="1.5" stroke="none" fill="#707070" stroke-width="0.8" opacity="0.6"/>
<line x1="193.02" y1="178.65" x2="199.38" y2="178.65" stroke="#a8a8a8" stroke-width="0.5"/>
<rect x="200.29" y="177.9" width="5.75" height="1.5" stroke="none" fill="#707070" stroke-width="0.8" opacity="0.6"/>
<line x1="208.16" y1="178.65" x2="214.52" y2="178.65" stroke="#a8a8a8" stroke-width="0.5"/>
<rect x="215.43" y="177.9" width="5.75" height="1.5" stroke="none" fill="#707070" stroke-width="0.8" opacity="0.6"/>
<g clip-path="url(#c144_175)">
<polyline points="144,236.32 148.66,236.32 150.19,231.51 151.21,234.01 152.74,227.05 153.76,229.56 155.29,222.92 156.31,225.42 157.84,219.09 158.86,221.59 160.38,215.54 161.4,218.05 162.93,212.25 163.95,214.76 165.48,209.2 166.5,211.71 168.03,206.38 169.05,208.89 170.58,203.76 171.6,206.27 173.13,201.34 174.14,203.85 175.67,199.09 176.69,201.6 178.22,197.01 179.24,199.52 180.77,195.08 181.79,197.59 183.32,193.3 184.34,195.8 185.87,191.64 186.88,194.15 188.41,190.11 189.43,192.61 190.96,188.68 191.98,191.19 193.51,187.37 194.53,189.87 196.06,186.14 197.08,188.65 198.61,185.01 199.62,187.52 201.15,183.96 202.17,183.96 203.28,187.63 204.39,190.82 205.5,193.6 206.61,196.02 207.72,198.12 208.83,199.96 209.94,201.55 211.05,202.94 212.16,204.14 213.27,205.2 214.38,206.11 215.49,206.91 216.6,207.6 217.71,208.2 218.81,208.73 219.92,209.18 221.03,209.58 222.14,209.93 223.25,210.23 224.36,210.49 225.47,210.72 226.58,210.92 227.69,211.09 228.8,211.24" fill="none" stroke="#207a20" stroke-width="1.1" stroke-linejoin="round"/>
<rect x="150.46" y="233.26" width="1.5" height="1.5" fill="#207a20" transform="rotate(45 151.21 234.01)"/>
<rect x="155.56" y="224.67" width="1.5" height="1.5" fill="#207a20" transform="rotate(45 156.31 225.42)"/>
<rect x="160.65" y="217.3" width="1.5" height="1.5" fill="#207a20" transform="rotate(45 161.4 218.05)"/>
<rect x="165.75" y="210.96" width="1.5" height="1.5" fill="#207a20" transform="rotate(45 166.5 211.71)"/>
<rect x="170.85" y="205.52" width="1.5" height="1.5" fill="#207a20" transform="rotate(45 171.6 206.27)"/>
<rect x="175.94" y="200.85" width="1.5" height="1.5" fill="#207a20" transform="rotate(45 176.69 201.6)"/>
<rect x="181.04" y="196.84" width="1.5" height="1.5" fill="#207a20" transform="rotate(45 181.79 197.59)"/>
<rect x="186.13" y="193.4" width="1.5" height="1.5" fill="#207a20" transform="rotate(45 186.88 194.15)"/>
<rect x="191.23" y="190.44" width="1.5" height="1.5" fill="#207a20" transform="rotate(45 191.98 191.19)"/>
<rect x="196.33" y="187.9" width="1.5" height="1.5" fill="#207a20" transform="rotate(45 197.08 188.65)"/>
<rect x="201.42" y="183.21" width="1.5" height="1.5" fill="#207a20" transform="rotate(45 202.17 183.96)"/>
<polyline points="155.87,236.32 160.96,236.32 162.51,230.49 163.54,233 165.08,225.21 166.11,227.72 167.66,220.44 168.69,222.94 170.23,216.12 171.26,218.62 172.81,212.21 173.84,214.72 175.38,208.67 176.41,211.18 177.96,205.47 178.99,207.98 180.54,202.58 181.57,205.08 183.11,199.95 184.14,202.46 185.69,197.58 186.72,200.09 188.26,195.44 189.29,197.95 190.84,193.5 191.87,196.01 193.42,191.74 194.45,194.25 195.99,190.15 197.02,192.66 198.57,188.71 199.6,191.22 201.14,187.41 202.17,187.41 203.28,190.62 204.39,193.41 205.5,195.83 206.61,197.94 207.72,199.78 208.83,201.38 209.94,202.78 211.05,203.99 212.16,205.04 213.27,205.96 214.38,206.76 215.49,207.45 216.6,208.06 217.71,208.59 218.81,209.04 219.92,209.44 221.03,209.79 222.14,210.09 223.25,210.36 224.36,210.58 225.47,210.78 226.58,210.96 227.69,211.11 228.8,211.24" fill="none" stroke="#d040e8" stroke-width="1.1" stroke-linejoin="round"/>
<rect x="162.79" y="232.25" width="1.5" height="1.5" fill="#d040e8" transform="rotate(45 163.54 233)"/>
<rect x="167.94" y="222.19" width="1.5" height="1.5" fill="#d040e8" transform="rotate(45 168.69 222.94)"/>
<rect x="173.09" y="213.97" width="1.5" height="1.5" fill="#d040e8" transform="rotate(45 173.84 214.72)"/>
<rect x="178.24" y="207.23" width="1.5" height="1.5" fill="#d040e8" transform="rotate(45 178.99 207.98)"/>
<rect x="183.39" y="201.71" width="1.5" height="1.5" fill="#d040e8" transform="rotate(45 184.14 202.46)"/>
<rect x="188.54" y="197.2" width="1.5" height="1.5" fill="#d040e8" transform="rotate(45 189.29 197.95)"/>
<rect x="193.7" y="193.5" width="1.5" height="1.5" fill="#d040e8" transform="rotate(45 194.45 194.25)"/>
<rect x="198.85" y="190.47" width="1.5" height="1.5" fill="#d040e8" transform="rotate(45 199.6 191.22)"/>
<polyline points="165.2,236.32 170.29,236.32 171.76,230.31 172.74,232.82 174.21,225.01 175.19,227.51 176.66,220.31 177.65,222.82 179.12,216.16 180.1,218.67 181.57,212.49 182.55,215 184.02,209.25 185,211.75 186.48,206.38 187.46,208.88 188.93,203.84 189.91,206.35 191.38,201.6 192.36,204.1 193.83,199.61 194.81,202.12 196.29,197.86 197.27,200.37 198.74,196.31 199.72,198.82 201.19,194.94 202.17,194.94 203.28,197.8 204.39,200.3 205.5,202.47 206.61,204.36 207.72,206 208.83,207.44 209.94,208.68 211.05,209.77 212.16,210.71 213.27,211.53 214.38,212.25 215.49,212.87 216.6,213.41 217.71,213.88 218.81,214.29 219.92,214.65 221.03,214.96 222.14,215.23 223.25,215.46 224.36,215.67 225.47,215.85 226.58,216 227.69,216.14 228.8,216.25" fill="none" stroke="#2a2ad0" stroke-width="1.1" stroke-linejoin="round"/>
<rect x="171.99" y="232.07" width="1.5" height="1.5" fill="#2a2ad0" transform="rotate(45 172.74 232.82)"/>
<rect x="176.9" y="222.07" width="1.5" height="1.5" fill="#2a2ad0" transform="rotate(45 177.65 222.82)"/>
<rect x="181.8" y="214.25" width="1.5" height="1.5" fill="#2a2ad0" transform="rotate(45 182.55 215)"/>
<rect x="186.71" y="208.13" width="1.5" height="1.5" fill="#2a2ad0" transform="rotate(45 187.46 208.88)"/>
<rect x="191.61" y="203.35" width="1.5" height="1.5" fill="#2a2ad0" transform="rotate(45 192.36 204.1)"/>
<rect x="196.52" y="199.62" width="1.5" height="1.5" fill="#2a2ad0" transform="rotate(45 197.27 200.37)"/>
<rect x="201.42" y="194.19" width="1.5" height="1.5" fill="#2a2ad0" transform="rotate(45 202.17 194.94)"/>
<polyline points="174.53,236.32 179.62,236.32 181.08,229.63 182.05,232.13 183.52,224.15 184.49,226.65 185.95,219.66 186.93,222.17 188.39,215.99 189.37,218.49 190.83,212.98 191.81,215.49 193.27,210.52 194.24,213.02 195.71,208.5 196.68,211.01 198.14,206.85 199.12,206.85 200.36,209.55 201.59,211.9 202.83,213.94 204.07,215.72 205.3,217.27 206.54,218.61 207.78,219.79 209.01,220.81 210.25,221.7 211.49,222.47 212.72,223.14 213.96,223.73 215.2,224.24 216.43,224.68 217.67,225.07 218.91,225.4 220.14,225.69 221.38,225.95 222.62,226.17 223.85,226.36 225.09,226.53 226.33,226.68 227.56,226.8 228.8,226.91" fill="none" stroke="#b05a20" stroke-width="1.1" stroke-linejoin="round"/>
<rect x="181.3" y="231.38" width="1.5" height="1.5" fill="#b05a20" transform="rotate(45 182.05 232.13)"/>
<rect x="186.18" y="221.42" width="1.5" height="1.5" fill="#b05a20" transform="rotate(45 186.93 222.17)"/>
<rect x="191.06" y="214.74" width="1.5" height="1.5" fill="#b05a20" transform="rotate(45 191.81 215.49)"/>
<rect x="195.93" y="210.26" width="1.5" height="1.5" fill="#b05a20" transform="rotate(45 196.68 211.01)"/>
<polyline points="186.4,236.32 189.79,236.32 191.19,229.07 192.12,231.57 193.52,224.21 194.46,226.71 195.86,220.95 196.79,223.46 198.19,218.76 199.12,218.76 199.9,220.96 200.67,222.86 201.45,224.52 202.23,225.97 203.01,227.23 203.78,228.32 204.56,229.27 205.34,230.1 206.12,230.82 206.89,231.45 207.67,232 208.45,232.48 209.23,232.89 210,233.25 210.78,233.56 211.56,233.84 212.33,234.07 213.11,234.28 213.89,234.46 214.67,234.62 215.44,234.75 216.22,234.87 217,234.98 217.78,235.06" fill="none" stroke="#111" stroke-width="1.1" stroke-linejoin="round"/>
<rect x="191.37" y="230.82" width="1.5" height="1.5" fill="#111" transform="rotate(45 192.12 231.57)"/>
<rect x="196.04" y="222.71" width="1.5" height="1.5" fill="#111" transform="rotate(45 196.79 223.46)"/>
</g>
<rect x="144" y="175.5" width="84.8" height="62.7" stroke="#7a7a7a" fill="none" stroke-width="0.85"/>
<rect x="140.2" y="234.45" width="2" height="1.5" stroke="none" fill="#8a8a8a" stroke-width="0.8" opacity="0.8"/>
<line x1="144" y1="235.2" x2="145.2" y2="235.2" stroke="#777" stroke-width="0.4"/>
<rect x="140.2" y="224.65" width="2" height="1.5" stroke="none" fill="#8a8a8a" stroke-width="0.8" opacity="0.8"/>
<line x1="144" y1="225.4" x2="145.2" y2="225.4" stroke="#777" stroke-width="0.4"/>
<rect x="140.2" y="214.85" width="2" height="1.5" stroke="none" fill="#8a8a8a" stroke-width="0.8" opacity="0.8"/>
<line x1="144" y1="215.6" x2="145.2" y2="215.6" stroke="#777" stroke-width="0.4"/>
<rect x="140.2" y="205.05" width="2" height="1.5" stroke="none" fill="#8a8a8a" stroke-width="0.8" opacity="0.8"/>
<line x1="144" y1="205.8" x2="145.2" y2="205.8" stroke="#777" stroke-width="0.4"/>
<rect x="140.2" y="195.25" width="2" height="1.5" stroke="none" fill="#8a8a8a" stroke-width="0.8" opacity="0.8"/>
<line x1="144" y1="196" x2="145.2" y2="196" stroke="#777" stroke-width="0.4"/>
<rect x="140.2" y="185.45" width="2" height="1.5" stroke="none" fill="#8a8a8a" stroke-width="0.8" opacity="0.8"/>
<line x1="144" y1="186.2" x2="145.2" y2="186.2" stroke="#777" stroke-width="0.4"/>
<rect x="142.7" y="240.2" width="2.6" height="1.5" stroke="none" fill="#8a8a8a" stroke-width="0.8" opacity="0.8"/>
<rect x="163.9" y="240.2" width="2.6" height="1.5" stroke="none" fill="#8a8a8a" stroke-width="0.8" opacity="0.8"/>
<rect x="185.1" y="240.2" width="2.6" height="1.5" stroke="none" fill="#8a8a8a" stroke-width="0.8" opacity="0.8"/>
<rect x="206.3" y="240.2" width="2.6" height="1.5" stroke="none" fill="#8a8a8a" stroke-width="0.8" opacity="0.8"/>
<rect x="227.5" y="240.2" width="2.6" height="1.5" stroke="none" fill="#8a8a8a" stroke-width="0.8" opacity="0.8"/>
<text x="133.7" y="211.05" font-size="5.4" fill="#1a1a1a" text-anchor="middle" font-weight="bold" font-family='"Liberation Sans", sans-serif' transform="rotate(-90 133.7 211.05)">&#916;EPSC (nA)</text>
<text x="186.9" y="248.8" font-size="5.6" fill="#111" text-anchor="middle" font-weight="bold" font-family='"Liberation Sans", sans-serif'>Time (s)</text>
<rect x="153.1" y="183.5" width="11.5" height="13.5" stroke="none" fill="#fcecf2" stroke-width="0.8" opacity="0.7"/>
<text transform="translate(153.8 193.8) scale(0.92 1)" x="0" y="0" font-size="8.4" fill="#6a3a20" font-weight="bold" font-family='"Liberation Sans", sans-serif' stroke="#6a3a20" stroke-width="0.2">0.5V</text>
<rect x="248.5" y="175.9" width="84.2" height="62.3" fill="#fff"/>
<clipPath id="c248_175"><rect x="248.8" y="176.2" width="83.6" height="61.7"/></clipPath>
<rect x="251.1" y="177.4" width="75.1" height="3.3" stroke="#a0a0a0" fill="#fff" stroke-width="0.4"/>
<line x1="252.1" y1="179.05" x2="258.41" y2="179.05" stroke="#a8a8a8" stroke-width="0.5"/>
<rect x="259.31" y="178.3" width="5.71" height="1.5" stroke="none" fill="#707070" stroke-width="0.8" opacity="0.6"/>
<line x1="267.12" y1="179.05" x2="273.43" y2="179.05" stroke="#a8a8a8" stroke-width="0.5"/>
<rect x="274.33" y="178.3" width="5.71" height="1.5" stroke="none" fill="#707070" stroke-width="0.8" opacity="0.6"/>
<line x1="282.14" y1="179.05" x2="288.45" y2="179.05" stroke="#a8a8a8" stroke-width="0.5"/>
<rect x="289.35" y="178.3" width="5.71" height="1.5" stroke="none" fill="#707070" stroke-width="0.8" opacity="0.6"/>
<line x1="297.16" y1="179.05" x2="303.47" y2="179.05" stroke="#a8a8a8" stroke-width="0.5"/>
<rect x="304.37" y="178.3" width="5.71" height="1.5" stroke="none" fill="#707070" stroke-width="0.8" opacity="0.6"/>
<line x1="312.18" y1="179.05" x2="318.49" y2="179.05" stroke="#a8a8a8" stroke-width="0.5"/>
<rect x="319.39" y="178.3" width="5.71" height="1.5" stroke="none" fill="#707070" stroke-width="0.8" opacity="0.6"/>
<g clip-path="url(#c248_175)">
<polyline points="245.13,238.2 248.5,238.2 250.02,232.6 251.03,234.47 252.54,227.53 253.55,229.4 255.07,222.95 256.08,224.82 257.59,218.8 258.6,220.67 260.12,215.04 261.13,216.91 262.65,211.65 263.66,213.52 265.17,208.57 266.18,210.44 267.7,205.79 268.71,207.66 270.22,203.27 271.23,205.14 272.75,201 273.76,202.87 275.28,198.94 276.29,200.81 277.8,197.07 278.81,198.94 280.33,195.39 281.34,197.26 282.85,193.86 283.86,195.73 285.38,192.48 286.39,194.35 287.91,191.23 288.92,193.1 290.43,190.1 291.44,191.97 292.96,189.08 293.97,190.94 295.48,188.15 296.49,190.02 298.01,187.31 299.02,189.18 300.54,186.55 301.55,188.42 303.06,185.87 304.07,185.87 305.26,189.72 306.46,193.08 307.65,195.99 308.84,198.54 310.04,200.75 311.23,202.67 312.42,204.35 313.61,205.8 314.81,207.07 316,208.18 317.19,209.14 318.39,209.97 319.58,210.7 320.77,211.33 321.96,211.89 323.16,212.37 324.35,212.78 325.54,213.15 326.74,213.46 327.93,213.74 329.12,213.98 330.31,214.19 331.51,214.37 332.7,214.53" fill="none" stroke="#3a8a3a" stroke-width="0.75" stroke-linejoin="round"/>
<rect x="250.28" y="233.72" width="1.5" height="1.5" fill="#3a8a3a" transform="rotate(45 251.03 234.47)"/>
<rect x="255.33" y="224.07" width="1.5" height="1.5" fill="#3a8a3a" transform="rotate(45 256.08 224.82)"/>
<rect x="260.38" y="216.16" width="1.5" height="1.5" fill="#3a8a3a" transform="rotate(45 261.13 216.91)"/>
<rect x="265.43" y="209.69" width="1.5" height="1.5" fill="#3a8a3a" transform="rotate(45 266.18 210.44)"/>
<rect x="270.48" y="204.39" width="1.5" height="1.5" fill="#3a8a3a" transform="rotate(45 271.23 205.14)"/>
<rect x="275.54" y="200.06" width="1.5" height="1.5" fill="#3a8a3a" transform="rotate(45 276.29 200.81)"/>
<rect x="280.59" y="196.51" width="1.5" height="1.5" fill="#3a8a3a" transform="rotate(45 281.34 197.26)"/>
<rect x="285.64" y="193.6" width="1.5" height="1.5" fill="#3a8a3a" transform="rotate(45 286.39 194.35)"/>
<rect x="290.69" y="191.22" width="1.5" height="1.5" fill="#3a8a3a" transform="rotate(45 291.44 191.97)"/>
<rect x="295.74" y="189.27" width="1.5" height="1.5" fill="#3a8a3a" transform="rotate(45 296.49 190.02)"/>
<rect x="300.8" y="187.67" width="1.5" height="1.5" fill="#3a8a3a" transform="rotate(45 301.55 188.42)"/>
<polyline points="259.02,238.2 262.39,238.2 263.92,233.04 264.94,234.91 266.47,228.48 267.49,230.34 269.02,224.44 270.04,226.3 271.57,220.86 272.59,222.73 274.12,217.7 275.14,219.57 276.67,214.9 277.69,216.77 279.22,212.42 280.24,214.29 281.77,210.23 282.79,212.1 284.32,208.29 285.34,210.15 286.87,206.57 287.89,208.44 289.42,205.05 290.44,206.92 291.97,203.7 292.99,205.57 294.52,202.51 295.54,204.38 297.06,201.46 298.08,203.33 299.61,200.53 300.63,202.4 302.16,199.7 303.18,201.57 304.71,198.97 305.73,200.84 307.26,198.33 308.28,198.33 309.3,201.34 310.32,203.97 311.33,206.25 312.35,208.24 313.37,209.97 314.39,211.48 315.4,212.79 316.42,213.93 317.44,214.92 318.46,215.79 319.47,216.54 320.49,217.19 321.51,217.76 322.53,218.26 323.54,218.69 324.56,219.07 325.58,219.39 326.6,219.68 327.61,219.92 328.63,220.14 329.65,220.33 330.67,220.49 331.68,220.63 332.7,220.76" fill="none" stroke="#b050d0" stroke-width="0.75" stroke-linejoin="round"/>
<rect x="264.19" y="234.16" width="1.5" height="1.5" fill="#b050d0" transform="rotate(45 264.94 234.91)"/>
<rect x="269.29" y="225.55" width="1.5" height="1.5" fill="#b050d0" transform="rotate(45 270.04 226.3)"/>
<rect x="274.39" y="218.82" width="1.5" height="1.5" fill="#b050d0" transform="rotate(45 275.14 219.57)"/>
<rect x="279.49" y="213.54" width="1.5" height="1.5" fill="#b050d0" transform="rotate(45 280.24 214.29)"/>
<rect x="284.59" y="209.4" width="1.5" height="1.5" fill="#b050d0" transform="rotate(45 285.34 210.15)"/>
<rect x="289.69" y="206.17" width="1.5" height="1.5" fill="#b050d0" transform="rotate(45 290.44 206.92)"/>
<rect x="294.79" y="203.63" width="1.5" height="1.5" fill="#b050d0" transform="rotate(45 295.54 204.38)"/>
<rect x="299.88" y="201.65" width="1.5" height="1.5" fill="#b050d0" transform="rotate(45 300.63 202.4)"/>
<rect x="304.98" y="200.09" width="1.5" height="1.5" fill="#b050d0" transform="rotate(45 305.73 200.84)"/>
<polyline points="269.55,238.2 272.92,238.2 274.43,231.88 275.44,233.75 276.96,226.48 277.97,228.35 279.49,221.87 280.5,223.74 282.01,217.93 283.02,219.8 284.54,214.56 285.55,216.43 287.06,211.68 288.07,213.55 289.59,209.22 290.6,211.09 292.12,207.12 293.13,208.99 294.64,205.32 295.65,207.19 297.17,203.79 298.18,205.65 299.69,202.47 300.7,204.34 302.22,201.35 303.23,203.22 304.75,200.39 305.76,202.26 307.27,199.57 308.28,199.57 309.3,202.76 310.32,205.53 311.33,207.94 312.35,210.04 313.37,211.86 314.39,213.45 315.4,214.84 316.42,216.04 317.44,217.09 318.46,218 319.47,218.8 320.49,219.49 321.51,220.09 322.53,220.61 323.54,221.07 324.56,221.46 325.58,221.81 326.6,222.11 327.61,222.37 328.63,222.6 329.65,222.8 330.67,222.97 331.68,223.12 332.7,223.25" fill="none" stroke="#3a3aa0" stroke-width="0.75" stroke-linejoin="round"/>
<rect x="274.69" y="233" width="1.5" height="1.5" fill="#3a3aa0" transform="rotate(45 275.44 233.75)"/>
<rect x="279.75" y="222.99" width="1.5" height="1.5" fill="#3a3aa0" transform="rotate(45 280.5 223.74)"/>
<rect x="284.8" y="215.68" width="1.5" height="1.5" fill="#3a3aa0" transform="rotate(45 285.55 216.43)"/>
<rect x="289.85" y="210.34" width="1.5" height="1.5" fill="#3a3aa0" transform="rotate(45 290.6 211.09)"/>
<rect x="294.9" y="206.44" width="1.5" height="1.5" fill="#3a3aa0" transform="rotate(45 295.65 207.19)"/>
<rect x="299.95" y="203.59" width="1.5" height="1.5" fill="#3a3aa0" transform="rotate(45 300.7 204.34)"/>
<rect x="305.01" y="201.51" width="1.5" height="1.5" fill="#3a3aa0" transform="rotate(45 305.76 202.26)"/>
<polyline points="282.18,238.2 285.55,238.2 287.06,230.75 288.07,232.62 289.59,224.92 290.6,226.79 292.12,220.36 293.13,222.23 294.64,216.78 295.65,218.65 297.17,213.98 298.18,215.85 299.69,211.79 300.7,213.66 302.22,210.07 303.23,211.94 304.75,208.73 305.76,210.6 307.27,207.67 308.28,207.67 309.3,209.93 310.32,211.9 311.33,213.62 312.35,215.11 313.37,216.41 314.39,217.54 315.4,218.52 316.42,219.37 317.44,220.12 318.46,220.77 319.47,221.33 320.49,221.82 321.51,222.25 322.53,222.62 323.54,222.94 324.56,223.23 325.58,223.47 326.6,223.68 327.61,223.87 328.63,224.03 329.65,224.17 330.67,224.29 331.68,224.4 332.7,224.49" fill="none" stroke="#c07a40" stroke-width="0.75" stroke-linejoin="round"/>
<rect x="287.32" y="231.87" width="1.5" height="1.5" fill="#c07a40" transform="rotate(45 288.07 232.62)"/>
<rect x="292.38" y="221.48" width="1.5" height="1.5" fill="#c07a40" transform="rotate(45 293.13 222.23)"/>
<rect x="297.43" y="215.1" width="1.5" height="1.5" fill="#c07a40" transform="rotate(45 298.18 215.85)"/>
<rect x="302.48" y="211.19" width="1.5" height="1.5" fill="#c07a40" transform="rotate(45 303.23 211.94)"/>
<rect x="307.53" y="206.92" width="1.5" height="1.5" fill="#c07a40" transform="rotate(45 308.28 207.67)"/>
<polyline points="293.13,238.2 296.49,238.2 298.11,229.47 299.19,231.34 300.81,223.85 301.88,225.72 303.5,220.23 304.58,222.1 306.19,217.9 307.27,219.77 308.89,216.39 309.97,216.39 310.67,218.15 311.37,219.69 312.07,221.02 312.77,222.18 313.47,223.19 314.18,224.07 314.88,224.83 315.58,225.5 316.28,226.07 316.98,226.58 317.68,227.02 318.39,227.4 319.09,227.73 319.79,228.02 320.49,228.27 321.19,228.49 321.89,228.68 322.6,228.85 323.3,228.99 324,229.12 324.7,229.23 325.4,229.32 326.1,229.41 326.81,229.48" fill="none" stroke="#333" stroke-width="0.75" stroke-linejoin="round"/>
<rect x="298.44" y="230.59" width="1.5" height="1.5" fill="#333" transform="rotate(45 299.19 231.34)"/>
<rect x="303.83" y="221.35" width="1.5" height="1.5" fill="#333" transform="rotate(45 304.58 222.1)"/>
<rect x="309.22" y="215.64" width="1.5" height="1.5" fill="#333" transform="rotate(45 309.97 216.39)"/>
</g>
<rect x="248.5" y="175.9" width="84.2" height="62.3" stroke="#7a7a7a" fill="none" stroke-width="0.85"/>
<rect x="244.7" y="234.95" width="2" height="1.5" stroke="none" fill="#8a8a8a" stroke-width="0.8" opacity="0.8"/>
<line x1="248.5" y1="235.7" x2="249.7" y2="235.7" stroke="#777" stroke-width="0.4"/>
<rect x="244.7" y="227.45" width="2" height="1.5" stroke="none" fill="#8a8a8a" stroke-width="0.8" opacity="0.8"/>
<line x1="248.5" y1="228.2" x2="249.7" y2="228.2" stroke="#777" stroke-width="0.4"/>
<rect x="244.7" y="219.95" width="2" height="1.5" stroke="none" fill="#8a8a8a" stroke-width="0.8" opacity="0.8"/>
<line x1="248.5" y1="220.7" x2="249.7" y2="220.7" stroke="#777" stroke-width="0.4"/>
<rect x="244.7" y="212.45" width="2" height="1.5" stroke="none" fill="#8a8a8a" stroke-width="0.8" opacity="0.8"/>
<line x1="248.5" y1="213.2" x2="249.7" y2="213.2" stroke="#777" stroke-width="0.4"/>
<rect x="244.7" y="204.95" width="2" height="1.5" stroke="none" fill="#8a8a8a" stroke-width="0.8" opacity="0.8"/>
<line x1="248.5" y1="205.7" x2="249.7" y2="205.7" stroke="#777" stroke-width="0.4"/>
<rect x="244.7" y="197.45" width="2" height="1.5" stroke="none" fill="#8a8a8a" stroke-width="0.8" opacity="0.8"/>
<line x1="248.5" y1="198.2" x2="249.7" y2="198.2" stroke="#777" stroke-width="0.4"/>
<rect x="244.7" y="189.95" width="2" height="1.5" stroke="none" fill="#8a8a8a" stroke-width="0.8" opacity="0.8"/>
<line x1="248.5" y1="190.7" x2="249.7" y2="190.7" stroke="#777" stroke-width="0.4"/>
<rect x="244.7" y="182.45" width="2" height="1.5" stroke="none" fill="#8a8a8a" stroke-width="0.8" opacity="0.8"/>
<line x1="248.5" y1="183.2" x2="249.7" y2="183.2" stroke="#777" stroke-width="0.4"/>
<rect x="247.2" y="240.2" width="2.6" height="1.5" stroke="none" fill="#8a8a8a" stroke-width="0.8" opacity="0.8"/>
<rect x="268.25" y="240.2" width="2.6" height="1.5" stroke="none" fill="#8a8a8a" stroke-width="0.8" opacity="0.8"/>
<rect x="289.3" y="240.2" width="2.6" height="1.5" stroke="none" fill="#8a8a8a" stroke-width="0.8" opacity="0.8"/>
<rect x="310.35" y="240.2" width="2.6" height="1.5" stroke="none" fill="#8a8a8a" stroke-width="0.8" opacity="0.8"/>
<rect x="331.4" y="240.2" width="2.6" height="1.5" stroke="none" fill="#8a8a8a" stroke-width="0.8" opacity="0.8"/>
<text x="238.2" y="211.25" font-size="5.4" fill="#1a1a1a" text-anchor="middle" font-weight="bold" font-family='"Liberation Sans", sans-serif' transform="rotate(-90 238.2 211.25)">&#916;EPSC (nA)</text>
<text x="291.1" y="248.8" font-size="5.6" fill="#111" text-anchor="middle" font-weight="bold" font-family='"Liberation Sans", sans-serif'>Time (s)</text>
<rect x="259.6" y="182.7" width="11.5" height="13.5" stroke="none" fill="#fcecf2" stroke-width="0.8" opacity="0.7"/>
<text transform="translate(260.3 193) scale(0.92 1)" x="0" y="0" font-size="8.4" fill="#5a3018" font-weight="bold" font-family='"Liberation Sans", sans-serif' stroke="#5a3018" stroke-width="0.2">1V</text>
<rect x="353.3" y="175.9" width="82.7" height="62.3" fill="#fff"/>
<clipPath id="c353_175"><rect x="353.6" y="176.2" width="82.1" height="61.7"/></clipPath>
<rect x="355.9" y="177.4" width="73.6" height="3.3" stroke="#a0a0a0" fill="#fff" stroke-width="0.4"/>
<line x1="356.9" y1="179.05" x2="363.08" y2="179.05" stroke="#a8a8a8" stroke-width="0.5"/>
<rect x="363.97" y="178.3" width="5.59" height="1.5" stroke="none" fill="#707070" stroke-width="0.8" opacity="0.6"/>
<line x1="371.62" y1="179.05" x2="377.8" y2="179.05" stroke="#a8a8a8" stroke-width="0.5"/>
<rect x="378.69" y="178.3" width="5.59" height="1.5" stroke="none" fill="#707070" stroke-width="0.8" opacity="0.6"/>
<line x1="386.34" y1="179.05" x2="392.52" y2="179.05" stroke="#a8a8a8" stroke-width="0.5"/>
<rect x="393.41" y="178.3" width="5.59" height="1.5" stroke="none" fill="#707070" stroke-width="0.8" opacity="0.6"/>
<line x1="401.06" y1="179.05" x2="407.24" y2="179.05" stroke="#a8a8a8" stroke-width="0.5"/>
<rect x="408.13" y="178.3" width="5.59" height="1.5" stroke="none" fill="#707070" stroke-width="0.8" opacity="0.6"/>
<line x1="415.78" y1="179.05" x2="421.96" y2="179.05" stroke="#a8a8a8" stroke-width="0.5"/>
<rect x="422.85" y="178.3" width="5.59" height="1.5" stroke="none" fill="#707070" stroke-width="0.8" opacity="0.6"/>
<g clip-path="url(#c353_175)">
<polyline points="353.3,238.2 356.61,238.2 358.12,232.88 359.13,235.37 360.64,228.02 361.65,230.51 363.16,223.58 364.16,226.07 365.67,219.53 366.68,222.02 368.19,215.83 369.2,218.32 370.71,212.45 371.72,214.94 373.23,209.37 374.24,211.86 375.75,206.55 376.76,209.04 378.27,203.98 379.28,206.47 380.79,201.63 381.79,204.12 383.31,199.49 384.31,201.98 385.82,197.53 386.83,200.02 388.34,195.74 389.35,198.23 390.86,194.11 391.87,196.6 393.38,192.62 394.39,195.11 395.9,191.26 396.91,193.75 398.42,190.01 399.42,192.51 400.94,188.88 401.94,191.37 403.45,187.84 404.46,190.34 405.97,186.9 406.98,189.39 408.49,186.03 409.5,188.53 411.01,185.25 412.02,185.25 413.02,189.52 414.02,193.24 415.01,196.47 416.01,199.29 417.01,201.74 418.01,203.87 419.01,205.73 420.01,207.35 421.01,208.75 422.01,209.98 423.01,211.04 424.01,211.97 425.01,212.78 426.01,213.48 427.01,214.09 428.01,214.62 429,215.09 430,215.49 431,215.84 432,216.14 433,216.41 434,216.64 435,216.84 436,217.02" fill="none" stroke="#3a8a3a" stroke-width="0.75" stroke-linejoin="round"/>
<rect x="358.38" y="234.62" width="1.5" height="1.5" fill="#3a8a3a" transform="rotate(45 359.13 235.37)"/>
<rect x="363.41" y="225.32" width="1.5" height="1.5" fill="#3a8a3a" transform="rotate(45 364.16 226.07)"/>
<rect x="368.45" y="217.57" width="1.5" height="1.5" fill="#3a8a3a" transform="rotate(45 369.2 218.32)"/>
<rect x="373.49" y="211.11" width="1.5" height="1.5" fill="#3a8a3a" transform="rotate(45 374.24 211.86)"/>
<rect x="378.53" y="205.72" width="1.5" height="1.5" fill="#3a8a3a" transform="rotate(45 379.28 206.47)"/>
<rect x="383.56" y="201.23" width="1.5" height="1.5" fill="#3a8a3a" transform="rotate(45 384.31 201.98)"/>
<rect x="388.6" y="197.48" width="1.5" height="1.5" fill="#3a8a3a" transform="rotate(45 389.35 198.23)"/>
<rect x="393.64" y="194.36" width="1.5" height="1.5" fill="#3a8a3a" transform="rotate(45 394.39 195.11)"/>
<rect x="398.67" y="191.76" width="1.5" height="1.5" fill="#3a8a3a" transform="rotate(45 399.42 192.51)"/>
<rect x="403.71" y="189.59" width="1.5" height="1.5" fill="#3a8a3a" transform="rotate(45 404.46 190.34)"/>
<rect x="408.75" y="187.78" width="1.5" height="1.5" fill="#3a8a3a" transform="rotate(45 409.5 188.53)"/>
<polyline points="362.4,238.2 365.7,238.2 367.17,232.58 368.14,235.08 369.6,227.53 370.58,230.02 372.04,222.98 373.02,225.47 374.48,218.89 375.45,221.38 376.92,215.2 377.89,217.69 379.35,211.88 380.33,214.38 381.79,208.9 382.77,211.39 384.23,206.21 385.2,208.7 386.67,203.79 387.64,206.28 389.1,201.61 390.08,204.11 391.54,199.66 392.52,202.15 393.98,197.89 394.95,200.38 396.42,196.3 397.39,198.8 398.85,194.87 399.83,197.37 401.29,193.59 402.27,196.08 403.73,192.43 404.7,194.92 406.17,191.39 407.14,193.88 408.6,190.45 409.58,192.94 411.04,189.61 412.02,189.61 413.02,193.46 414.02,196.81 415.01,199.73 416.01,202.27 417.01,204.48 418.01,206.41 419.01,208.08 420.01,209.54 421.01,210.81 422.01,211.91 423.01,212.87 424.01,213.71 425.01,214.44 426.01,215.07 427.01,215.62 428.01,216.1 429,216.52 430,216.88 431,217.2 432,217.48 433,217.72 434,217.92 435,218.11 436,218.26" fill="none" stroke="#b060d0" stroke-width="0.75" stroke-linejoin="round"/>
<rect x="367.39" y="234.33" width="1.5" height="1.5" fill="#b060d0" transform="rotate(45 368.14 235.08)"/>
<rect x="372.27" y="224.72" width="1.5" height="1.5" fill="#b060d0" transform="rotate(45 373.02 225.47)"/>
<rect x="377.14" y="216.94" width="1.5" height="1.5" fill="#b060d0" transform="rotate(45 377.89 217.69)"/>
<rect x="382.02" y="210.64" width="1.5" height="1.5" fill="#b060d0" transform="rotate(45 382.77 211.39)"/>
<rect x="386.89" y="205.53" width="1.5" height="1.5" fill="#b060d0" transform="rotate(45 387.64 206.28)"/>
<rect x="391.77" y="201.4" width="1.5" height="1.5" fill="#b060d0" transform="rotate(45 392.52 202.15)"/>
<rect x="396.64" y="198.05" width="1.5" height="1.5" fill="#b060d0" transform="rotate(45 397.39 198.8)"/>
<rect x="401.52" y="195.33" width="1.5" height="1.5" fill="#b060d0" transform="rotate(45 402.27 196.08)"/>
<rect x="406.39" y="193.13" width="1.5" height="1.5" fill="#b060d0" transform="rotate(45 407.14 193.88)"/>
<rect x="411.27" y="188.86" width="1.5" height="1.5" fill="#b060d0" transform="rotate(45 412.02 189.61)"/>
<polyline points="373.98,238.2 377.28,238.2 378.77,231.2 379.76,233.69 381.25,225.13 382.25,227.62 383.73,219.87 384.73,222.36 386.21,215.31 387.21,217.8 388.7,211.35 389.69,213.84 391.18,207.92 392.17,210.42 393.66,204.95 394.65,207.44 396.14,202.38 397.13,204.87 398.62,200.14 399.61,202.64 401.1,198.21 402.09,200.7 403.58,196.53 404.57,199.02 406.06,195.08 407.06,197.57 408.54,193.81 409.54,196.31 411.02,192.72 412.02,192.72 413.02,196.57 414.02,199.93 415.01,202.85 416.01,205.39 417.01,207.6 418.01,209.52 419.01,211.2 420.01,212.66 421.01,213.92 422.01,215.03 423.01,215.99 424.01,216.83 425.01,217.55 426.01,218.19 427.01,218.74 428.01,219.22 429,219.64 430,220 431,220.32 432,220.59 433,220.83 434,221.04 435,221.22 436,221.38" fill="none" stroke="#3a3aa0" stroke-width="0.75" stroke-linejoin="round"/>
<rect x="379.01" y="232.94" width="1.5" height="1.5" fill="#3a3aa0" transform="rotate(45 379.76 233.69)"/>
<rect x="383.98" y="221.61" width="1.5" height="1.5" fill="#3a3aa0" transform="rotate(45 384.73 222.36)"/>
<rect x="388.94" y="213.09" width="1.5" height="1.5" fill="#3a3aa0" transform="rotate(45 389.69 213.84)"/>
<rect x="393.9" y="206.69" width="1.5" height="1.5" fill="#3a3aa0" transform="rotate(45 394.65 207.44)"/>
<rect x="398.86" y="201.89" width="1.5" height="1.5" fill="#3a3aa0" transform="rotate(45 399.61 202.64)"/>
<rect x="403.82" y="198.27" width="1.5" height="1.5" fill="#3a3aa0" transform="rotate(45 404.57 199.02)"/>
<rect x="408.79" y="195.56" width="1.5" height="1.5" fill="#3a3aa0" transform="rotate(45 409.54 196.31)"/>
<polyline points="387.21,238.2 390.51,238.2 392,230.36 393,232.86 394.48,223.95 395.48,226.44 396.97,218.69 397.96,221.19 399.45,214.39 400.44,216.89 401.93,210.87 402.92,213.37 404.41,207.99 405.4,210.48 406.89,205.63 407.88,208.12 409.37,203.7 410.36,206.19 411.85,202.12 412.84,204.61 414.33,200.82 415.32,200.82 416.19,204.34 417.05,207.4 417.91,210.07 418.77,212.39 419.63,214.4 420.49,216.16 421.36,217.69 422.22,219.02 423.08,220.18 423.94,221.19 424.8,222.07 425.66,222.83 426.52,223.49 427.39,224.07 428.25,224.58 429.11,225.01 429.97,225.39 430.83,225.73 431.69,226.02 432.55,226.27 433.42,226.49 434.28,226.68 435.14,226.84 436,226.99" fill="none" stroke="#c07a40" stroke-width="0.75" stroke-linejoin="round"/>
<rect x="392.25" y="232.11" width="1.5" height="1.5" fill="#c07a40" transform="rotate(45 393 232.86)"/>
<rect x="397.21" y="220.44" width="1.5" height="1.5" fill="#c07a40" transform="rotate(45 397.96 221.19)"/>
<rect x="402.17" y="212.62" width="1.5" height="1.5" fill="#c07a40" transform="rotate(45 402.92 213.37)"/>
<rect x="407.13" y="207.37" width="1.5" height="1.5" fill="#c07a40" transform="rotate(45 407.88 208.12)"/>
<rect x="412.09" y="203.86" width="1.5" height="1.5" fill="#c07a40" transform="rotate(45 412.84 204.61)"/>
<polyline points="398.78,238.2 402.09,238.2 403.48,228.1 404.41,230.6 405.8,221.34 406.72,223.83 408.11,216.8 409.04,219.29 410.43,213.76 411.36,216.25 412.74,211.72 413.67,211.72 414.53,214.61 415.39,217.13 416.26,219.32 417.12,221.22 417.98,222.88 418.84,224.32 419.7,225.58 420.56,226.67 421.42,227.63 422.29,228.45 423.15,229.17 424.01,229.8 424.87,230.35 425.73,230.82 426.59,231.24 427.45,231.6 428.32,231.91 429.18,232.18 430.04,232.42 430.9,232.63 431.76,232.81 432.62,232.96 433.48,233.1 434.35,233.22" fill="none" stroke="#333" stroke-width="0.75" stroke-linejoin="round"/>
<rect x="403.66" y="229.85" width="1.5" height="1.5" fill="#333" transform="rotate(45 404.41 230.6)"/>
<rect x="408.29" y="218.54" width="1.5" height="1.5" fill="#333" transform="rotate(45 409.04 219.29)"/>
<rect x="412.92" y="210.97" width="1.5" height="1.5" fill="#333" transform="rotate(45 413.67 211.72)"/>
</g>
<rect x="353.3" y="175.9" width="82.7" height="62.3" stroke="#7a7a7a" fill="none" stroke-width="0.85"/>
<rect x="349.5" y="234.95" width="2" height="1.5" stroke="none" fill="#8a8a8a" stroke-width="0.8" opacity="0.8"/>
<line x1="353.3" y1="235.7" x2="354.5" y2="235.7" stroke="#777" stroke-width="0.4"/>
<rect x="349.5" y="224.15" width="2" height="1.5" stroke="none" fill="#8a8a8a" stroke-width="0.8" opacity="0.8"/>
<line x1="353.3" y1="224.9" x2="354.5" y2="224.9" stroke="#777" stroke-width="0.4"/>
<rect x="349.5" y="213.35" width="2" height="1.5" stroke="none" fill="#8a8a8a" stroke-width="0.8" opacity="0.8"/>
<line x1="353.3" y1="214.1" x2="354.5" y2="214.1" stroke="#777" stroke-width="0.4"/>
<rect x="349.5" y="202.55" width="2" height="1.5" stroke="none" fill="#8a8a8a" stroke-width="0.8" opacity="0.8"/>
<line x1="353.3" y1="203.3" x2="354.5" y2="203.3" stroke="#777" stroke-width="0.4"/>
<rect x="349.5" y="191.75" width="2" height="1.5" stroke="none" fill="#8a8a8a" stroke-width="0.8" opacity="0.8"/>
<line x1="353.3" y1="192.5" x2="354.5" y2="192.5" stroke="#777" stroke-width="0.4"/>
<rect x="349.5" y="180.95" width="2" height="1.5" stroke="none" fill="#8a8a8a" stroke-width="0.8" opacity="0.8"/>
<line x1="353.3" y1="181.7" x2="354.5" y2="181.7" stroke="#777" stroke-width="0.4"/>
<rect x="352" y="240.2" width="2.6" height="1.5" stroke="none" fill="#8a8a8a" stroke-width="0.8" opacity="0.8"/>
<rect x="372.68" y="240.2" width="2.6" height="1.5" stroke="none" fill="#8a8a8a" stroke-width="0.8" opacity="0.8"/>
<rect x="393.35" y="240.2" width="2.6" height="1.5" stroke="none" fill="#8a8a8a" stroke-width="0.8" opacity="0.8"/>
<rect x="414.02" y="240.2" width="2.6" height="1.5" stroke="none" fill="#8a8a8a" stroke-width="0.8" opacity="0.8"/>
<rect x="434.7" y="240.2" width="2.6" height="1.5" stroke="none" fill="#8a8a8a" stroke-width="0.8" opacity="0.8"/>
<text x="343" y="211.25" font-size="5.4" fill="#1a1a1a" text-anchor="middle" font-weight="bold" font-family='"Liberation Sans", sans-serif' transform="rotate(-90 343 211.25)">&#916;EPSC (nA)</text>
<text x="395.15" y="248.8" font-size="5.6" fill="#111" text-anchor="middle" font-weight="bold" font-family='"Liberation Sans", sans-serif'>Time (s)</text>
<rect x="365.6" y="183.2" width="11.5" height="13.5" stroke="none" fill="#fcecf2" stroke-width="0.8" opacity="0.7"/>
<text transform="translate(366.3 193.5) scale(0.92 1)" x="0" y="0" font-size="8.4" fill="#6a2a18" font-weight="bold" font-family='"Liberation Sans", sans-serif' stroke="#6a2a18" stroke-width="0.2">3V</text>
<rect x="457.3" y="175.9" width="84.3" height="63.3" fill="#fff"/>
<clipPath id="c457_175"><rect x="457.6" y="176.2" width="83.7" height="62.7"/></clipPath>
<rect x="459.9" y="177.4" width="75.2" height="3.3" stroke="#a0a0a0" fill="#fff" stroke-width="0.4"/>
<line x1="460.9" y1="179.05" x2="467.22" y2="179.05" stroke="#a8a8a8" stroke-width="0.5"/>
<rect x="468.12" y="178.3" width="5.72" height="1.5" stroke="none" fill="#707070" stroke-width="0.8" opacity="0.6"/>
<line x1="475.94" y1="179.05" x2="482.26" y2="179.05" stroke="#a8a8a8" stroke-width="0.5"/>
<rect x="483.16" y="178.3" width="5.72" height="1.5" stroke="none" fill="#707070" stroke-width="0.8" opacity="0.6"/>
<line x1="490.98" y1="179.05" x2="497.3" y2="179.05" stroke="#a8a8a8" stroke-width="0.5"/>
<rect x="498.2" y="178.3" width="5.72" height="1.5" stroke="none" fill="#707070" stroke-width="0.8" opacity="0.6"/>
<line x1="506.02" y1="179.05" x2="512.34" y2="179.05" stroke="#a8a8a8" stroke-width="0.5"/>
<rect x="513.24" y="178.3" width="5.72" height="1.5" stroke="none" fill="#707070" stroke-width="0.8" opacity="0.6"/>
<line x1="521.06" y1="179.05" x2="527.38" y2="179.05" stroke="#a8a8a8" stroke-width="0.5"/>
<rect x="528.28" y="178.3" width="5.72" height="1.5" stroke="none" fill="#707070" stroke-width="0.8" opacity="0.6"/>
<g clip-path="url(#c457_175)">
<polyline points="457.3,234.14 460.67,234.14 462.17,228.75 463.16,231.28 464.65,223.85 465.65,226.38 467.14,219.4 468.14,221.93 469.63,215.35 470.63,217.88 472.12,211.67 473.12,214.2 474.61,208.32 475.61,210.86 477.1,205.28 478.09,207.81 479.59,202.52 480.58,205.05 482.08,200 483.07,202.53 484.57,197.72 485.56,200.25 487.05,195.64 488.05,198.17 489.54,193.75 490.54,196.28 492.03,192.03 493.03,194.56 494.52,190.47 495.52,193 497.01,189.05 498,191.58 499.5,187.76 500.49,190.29 501.99,186.58 502.98,189.12 504.48,185.52 505.47,188.05 506.96,184.55 507.96,187.08 509.45,183.66 510.45,186.2 511.94,182.86 512.94,182.86 514.13,186.95 515.33,190.5 516.52,193.6 517.72,196.29 518.91,198.64 520.1,200.68 521.3,202.45 522.49,204 523.69,205.34 524.88,206.51 526.07,207.53 527.27,208.42 528.46,209.19 529.66,209.86 530.85,210.45 532.05,210.96 533.24,211.4 534.43,211.78 535.63,212.12 536.82,212.41 538.02,212.67 539.21,212.89 540.41,213.08 541.6,213.25" fill="none" stroke="#3a8a3a" stroke-width="0.75" stroke-linejoin="round"/>
<rect x="462.41" y="230.53" width="1.5" height="1.5" fill="#3a8a3a" transform="rotate(45 463.16 231.28)"/>
<rect x="467.39" y="221.18" width="1.5" height="1.5" fill="#3a8a3a" transform="rotate(45 468.14 221.93)"/>
<rect x="472.37" y="213.45" width="1.5" height="1.5" fill="#3a8a3a" transform="rotate(45 473.12 214.2)"/>
<rect x="477.34" y="207.06" width="1.5" height="1.5" fill="#3a8a3a" transform="rotate(45 478.09 207.81)"/>
<rect x="482.32" y="201.78" width="1.5" height="1.5" fill="#3a8a3a" transform="rotate(45 483.07 202.53)"/>
<rect x="487.3" y="197.42" width="1.5" height="1.5" fill="#3a8a3a" transform="rotate(45 488.05 198.17)"/>
<rect x="492.28" y="193.81" width="1.5" height="1.5" fill="#3a8a3a" transform="rotate(45 493.03 194.56)"/>
<rect x="497.25" y="190.83" width="1.5" height="1.5" fill="#3a8a3a" transform="rotate(45 498 191.58)"/>
<rect x="502.23" y="188.37" width="1.5" height="1.5" fill="#3a8a3a" transform="rotate(45 502.98 189.12)"/>
<rect x="507.21" y="186.33" width="1.5" height="1.5" fill="#3a8a3a" transform="rotate(45 507.96 187.08)"/>
<rect x="512.19" y="182.11" width="1.5" height="1.5" fill="#3a8a3a" transform="rotate(45 512.94 182.86)"/>
<polyline points="465.73,234.14 469.1,234.14 470.65,228.2 471.68,230.74 473.23,222.93 474.26,225.46 475.81,218.24 476.84,220.78 478.38,214.08 479.42,216.61 480.96,210.37 481.99,212.9 483.54,207.08 484.57,209.61 486.12,204.15 487.15,206.68 488.7,201.55 489.73,204.08 491.28,199.23 492.31,201.76 493.86,197.17 494.89,199.71 496.44,195.34 497.47,197.88 499.01,193.72 500.05,196.25 501.59,192.27 502.62,194.81 504.17,190.99 505.2,193.52 506.75,189.85 507.78,192.38 509.33,188.83 510.36,191.36 511.91,187.93 512.94,187.93 514.13,191.76 515.33,195.09 516.52,197.99 517.72,200.52 518.91,202.72 520.1,204.63 521.3,206.29 522.49,207.74 523.69,209 524.88,210.1 526.07,211.06 527.27,211.89 528.46,212.61 529.66,213.24 530.85,213.79 532.05,214.26 533.24,214.68 534.43,215.04 535.63,215.36 536.82,215.63 538.02,215.87 539.21,216.07 540.41,216.25 541.6,216.41" fill="none" stroke="#9a60c8" stroke-width="0.75" stroke-linejoin="round"/>
<rect x="470.93" y="229.99" width="1.5" height="1.5" fill="#9a60c8" transform="rotate(45 471.68 230.74)"/>
<rect x="476.09" y="220.03" width="1.5" height="1.5" fill="#9a60c8" transform="rotate(45 476.84 220.78)"/>
<rect x="481.24" y="212.15" width="1.5" height="1.5" fill="#9a60c8" transform="rotate(45 481.99 212.9)"/>
<rect x="486.4" y="205.93" width="1.5" height="1.5" fill="#9a60c8" transform="rotate(45 487.15 206.68)"/>
<rect x="491.56" y="201.01" width="1.5" height="1.5" fill="#9a60c8" transform="rotate(45 492.31 201.76)"/>
<rect x="496.72" y="197.13" width="1.5" height="1.5" fill="#9a60c8" transform="rotate(45 497.47 197.88)"/>
<rect x="501.87" y="194.06" width="1.5" height="1.5" fill="#9a60c8" transform="rotate(45 502.62 194.81)"/>
<rect x="507.03" y="191.63" width="1.5" height="1.5" fill="#9a60c8" transform="rotate(45 507.78 192.38)"/>
<rect x="512.19" y="187.18" width="1.5" height="1.5" fill="#9a60c8" transform="rotate(45 512.94 187.93)"/>
<polyline points="477.53,234.14 480.9,234.14 482.38,227.66 483.37,230.2 484.85,222.11 485.83,224.65 487.31,217.36 488.3,219.89 489.77,213.28 490.76,215.81 492.24,209.78 493.22,212.31 494.7,206.78 495.69,209.31 497.17,204.21 498.15,206.74 499.63,202 500.62,204.54 502.1,200.11 503.08,202.65 504.56,198.49 505.55,201.02 507.02,197.1 508.01,199.64 509.49,195.91 510.47,198.44 511.95,194.89 512.94,194.89 514.13,198.29 515.33,201.26 516.52,203.84 517.72,206.08 518.91,208.04 520.1,209.74 521.3,211.22 522.49,212.5 523.69,213.62 524.88,214.6 526.07,215.45 527.27,216.19 528.46,216.83 529.66,217.39 530.85,217.88 532.05,218.3 533.24,218.67 534.43,218.99 535.63,219.27 536.82,219.51 538.02,219.73 539.21,219.91 540.41,220.07 541.6,220.21" fill="none" stroke="#3a3aa0" stroke-width="0.75" stroke-linejoin="round"/>
<rect x="482.62" y="229.45" width="1.5" height="1.5" fill="#3a3aa0" transform="rotate(45 483.37 230.2)"/>
<rect x="487.55" y="219.14" width="1.5" height="1.5" fill="#3a3aa0" transform="rotate(45 488.3 219.89)"/>
<rect x="492.47" y="211.56" width="1.5" height="1.5" fill="#3a3aa0" transform="rotate(45 493.22 212.31)"/>
<rect x="497.4" y="205.99" width="1.5" height="1.5" fill="#3a3aa0" transform="rotate(45 498.15 206.74)"/>
<rect x="502.33" y="201.9" width="1.5" height="1.5" fill="#3a3aa0" transform="rotate(45 503.08 202.65)"/>
<rect x="507.26" y="198.89" width="1.5" height="1.5" fill="#3a3aa0" transform="rotate(45 508.01 199.64)"/>
<rect x="512.19" y="194.14" width="1.5" height="1.5" fill="#3a3aa0" transform="rotate(45 512.94 194.89)"/>
<polyline points="488.49,234.14 491.86,234.14 493.38,225.88 494.39,228.41 495.91,219.45 496.92,221.98 498.44,214.44 499.45,216.97 500.97,210.54 501.98,213.07 503.5,207.5 504.51,210.03 506.03,205.13 507.04,207.66 508.55,203.29 509.57,205.82 511.08,201.85 512.1,201.85 513.32,204.83 514.55,207.43 515.78,209.68 517.01,211.65 518.24,213.36 519.47,214.84 520.7,216.14 521.93,217.26 523.16,218.25 524.39,219.1 525.62,219.84 526.85,220.49 528.08,221.05 529.31,221.54 530.54,221.97 531.76,222.34 532.99,222.66 534.22,222.94 535.45,223.19 536.68,223.4 537.91,223.58 539.14,223.75 540.37,223.89 541.6,224.01" fill="none" stroke="#c07a40" stroke-width="0.75" stroke-linejoin="round"/>
<rect x="493.64" y="227.66" width="1.5" height="1.5" fill="#c07a40" transform="rotate(45 494.39 228.41)"/>
<rect x="498.7" y="216.22" width="1.5" height="1.5" fill="#c07a40" transform="rotate(45 499.45 216.97)"/>
<rect x="503.76" y="209.28" width="1.5" height="1.5" fill="#c07a40" transform="rotate(45 504.51 210.03)"/>
<rect x="508.82" y="205.07" width="1.5" height="1.5" fill="#c07a40" transform="rotate(45 509.57 205.82)"/>
<polyline points="498.61,234.14 501.98,234.14 503.5,225.21 504.51,227.74 506.03,219.79 507.04,222.32 508.55,216.51 509.57,219.04 511.08,214.51 512.1,214.51 513.32,216.47 514.55,218.17 515.78,219.66 517.01,220.95 518.24,222.07 519.47,223.05 520.7,223.9 521.93,224.64 523.16,225.29 524.39,225.85 525.62,226.33 526.85,226.76 528.08,227.13 529.31,227.45 530.54,227.73 531.76,227.97 532.99,228.19 534.22,228.37 535.45,228.53 536.68,228.67 537.91,228.79 539.14,228.9 540.37,228.99 541.6,229.07" fill="none" stroke="#444" stroke-width="0.75" stroke-linejoin="round"/>
<rect x="503.76" y="226.99" width="1.5" height="1.5" fill="#444" transform="rotate(45 504.51 227.74)"/>
<rect x="508.82" y="218.29" width="1.5" height="1.5" fill="#444" transform="rotate(45 509.57 219.04)"/>
</g>
<rect x="457.3" y="175.9" width="84.3" height="63.3" stroke="#7a7a7a" fill="none" stroke-width="0.85"/>
<rect x="453.5" y="232.45" width="2" height="1.5" stroke="none" fill="#8a8a8a" stroke-width="0.8" opacity="0.8"/>
<line x1="457.3" y1="233.2" x2="458.5" y2="233.2" stroke="#777" stroke-width="0.4"/>
<rect x="453.5" y="218.55" width="2" height="1.5" stroke="none" fill="#8a8a8a" stroke-width="0.8" opacity="0.8"/>
<line x1="457.3" y1="219.3" x2="458.5" y2="219.3" stroke="#777" stroke-width="0.4"/>
<rect x="453.5" y="204.65" width="2" height="1.5" stroke="none" fill="#8a8a8a" stroke-width="0.8" opacity="0.8"/>
<line x1="457.3" y1="205.4" x2="458.5" y2="205.4" stroke="#777" stroke-width="0.4"/>
<rect x="453.5" y="190.75" width="2" height="1.5" stroke="none" fill="#8a8a8a" stroke-width="0.8" opacity="0.8"/>
<line x1="457.3" y1="191.5" x2="458.5" y2="191.5" stroke="#777" stroke-width="0.4"/>
<rect x="456" y="241.2" width="2.6" height="1.5" stroke="none" fill="#8a8a8a" stroke-width="0.8" opacity="0.8"/>
<rect x="477.07" y="241.2" width="2.6" height="1.5" stroke="none" fill="#8a8a8a" stroke-width="0.8" opacity="0.8"/>
<rect x="498.15" y="241.2" width="2.6" height="1.5" stroke="none" fill="#8a8a8a" stroke-width="0.8" opacity="0.8"/>
<rect x="519.23" y="241.2" width="2.6" height="1.5" stroke="none" fill="#8a8a8a" stroke-width="0.8" opacity="0.8"/>
<rect x="540.3" y="241.2" width="2.6" height="1.5" stroke="none" fill="#8a8a8a" stroke-width="0.8" opacity="0.8"/>
<text x="447" y="211.75" font-size="5.4" fill="#1a1a1a" text-anchor="middle" font-weight="bold" font-family='"Liberation Sans", sans-serif' transform="rotate(-90 447 211.75)">&#916;EPSC (nA)</text>
<text x="499.95" y="249.8" font-size="5.6" fill="#111" text-anchor="middle" font-weight="bold" font-family='"Liberation Sans", sans-serif'>Time (s)</text>
<rect x="469.8" y="183.7" width="11.5" height="13.5" stroke="none" fill="#fcecf2" stroke-width="0.8" opacity="0.7"/>
<text transform="translate(470.5 194) scale(0.92 1)" x="0" y="0" font-size="8.4" fill="#6a2a18" font-weight="bold" font-family='"Liberation Sans", sans-serif' stroke="#6a2a18" stroke-width="0.2">5V</text>
<text x="6.5" y="16.6" font-size="16.5" fill="#111" font-family='"Liberation Serif", serif' stroke="#111" stroke-width="0.1">(a)</text>
<text x="6.7" y="100.2" font-size="16.5" fill="#111" font-family='"Liberation Serif", serif' stroke="#111" stroke-width="0.1">(b)</text>
<text x="8.1" y="183.6" font-size="16.5" fill="#111" font-family='"Liberation Serif", serif' stroke="#111" stroke-width="0.1">(c)</text>
<rect x="54.6" y="260.8" width="128.8" height="94.3" stroke="#5a5a5a" fill="none" stroke-width="0.75"/>
<line x1="54.6" y1="355.1" x2="54.6" y2="353.5" stroke="#555" stroke-width="0.5"/>
<line x1="70.7" y1="355.1" x2="70.7" y2="354.1" stroke="#777" stroke-width="0.4"/>
<text x="54.6" y="360" font-size="4.2" fill="#333" text-anchor="middle" font-weight="normal" font-family='"Liberation Sans", sans-serif' stroke="#333" stroke-width="0.12">0</text>
<line x1="86.8" y1="355.1" x2="86.8" y2="353.5" stroke="#555" stroke-width="0.5"/>
<line x1="102.9" y1="355.1" x2="102.9" y2="354.1" stroke="#777" stroke-width="0.4"/>
<text x="86.8" y="360" font-size="4.2" fill="#333" text-anchor="middle" font-weight="normal" font-family='"Liberation Sans", sans-serif' stroke="#333" stroke-width="0.12">2</text>
<line x1="119" y1="355.1" x2="119" y2="353.5" stroke="#555" stroke-width="0.5"/>
<line x1="135.1" y1="355.1" x2="135.1" y2="354.1" stroke="#777" stroke-width="0.4"/>
<text x="119" y="360" font-size="4.2" fill="#333" text-anchor="middle" font-weight="normal" font-family='"Liberation Sans", sans-serif' stroke="#333" stroke-width="0.12">4</text>
<line x1="151.2" y1="355.1" x2="151.2" y2="353.5" stroke="#555" stroke-width="0.5"/>
<line x1="167.3" y1="355.1" x2="167.3" y2="354.1" stroke="#777" stroke-width="0.4"/>
<text x="151.2" y="360" font-size="4.2" fill="#333" text-anchor="middle" font-weight="normal" font-family='"Liberation Sans", sans-serif' stroke="#333" stroke-width="0.12">6</text>
<line x1="183.4" y1="355.1" x2="183.4" y2="353.5" stroke="#555" stroke-width="0.5"/>
<text x="183.4" y="360" font-size="4.2" fill="#333" text-anchor="middle" font-weight="normal" font-family='"Liberation Sans", sans-serif' stroke="#333" stroke-width="0.12">8</text>
<line x1="54.6" y1="352.9" x2="56.2" y2="352.9" stroke="#555" stroke-width="0.5"/>
<line x1="54.6" y1="345.8" x2="55.6" y2="345.8" stroke="#777" stroke-width="0.4"/>
<text x="52.7" y="354.4" font-size="4.2" fill="#333" text-anchor="end" font-weight="normal" font-family='"Liberation Sans", sans-serif' stroke="#333" stroke-width="0.12">0</text>
<line x1="54.6" y1="338.7" x2="56.2" y2="338.7" stroke="#555" stroke-width="0.5"/>
<line x1="54.6" y1="331.6" x2="55.6" y2="331.6" stroke="#777" stroke-width="0.4"/>
<text x="52.7" y="340.2" font-size="4.2" fill="#333" text-anchor="end" font-weight="normal" font-family='"Liberation Sans", sans-serif' stroke="#333" stroke-width="0.12">100</text>
<line x1="54.6" y1="324.5" x2="56.2" y2="324.5" stroke="#555" stroke-width="0.5"/>
<line x1="54.6" y1="317.4" x2="55.6" y2="317.4" stroke="#777" stroke-width="0.4"/>
<text x="52.7" y="326" font-size="4.2" fill="#333" text-anchor="end" font-weight="normal" font-family='"Liberation Sans", sans-serif' stroke="#333" stroke-width="0.12">200</text>
<line x1="54.6" y1="310.3" x2="56.2" y2="310.3" stroke="#555" stroke-width="0.5"/>
<line x1="54.6" y1="303.2" x2="55.6" y2="303.2" stroke="#777" stroke-width="0.4"/>
<text x="52.7" y="311.8" font-size="4.2" fill="#333" text-anchor="end" font-weight="normal" font-family='"Liberation Sans", sans-serif' stroke="#333" stroke-width="0.12">300</text>
<line x1="54.6" y1="296.1" x2="56.2" y2="296.1" stroke="#555" stroke-width="0.5"/>
<line x1="54.6" y1="289" x2="55.6" y2="289" stroke="#777" stroke-width="0.4"/>
<text x="52.7" y="297.6" font-size="4.2" fill="#333" text-anchor="end" font-weight="normal" font-family='"Liberation Sans", sans-serif' stroke="#333" stroke-width="0.12">400</text>
<line x1="54.6" y1="281.9" x2="56.2" y2="281.9" stroke="#555" stroke-width="0.5"/>
<line x1="54.6" y1="274.8" x2="55.6" y2="274.8" stroke="#777" stroke-width="0.4"/>
<text x="52.7" y="283.4" font-size="4.2" fill="#333" text-anchor="end" font-weight="normal" font-family='"Liberation Sans", sans-serif' stroke="#333" stroke-width="0.12">500</text>
<line x1="54.6" y1="267.7" x2="56.2" y2="267.7" stroke="#555" stroke-width="0.5"/>
<text x="52.7" y="269.2" font-size="4.2" fill="#333" text-anchor="end" font-weight="normal" font-family='"Liberation Sans", sans-serif' stroke="#333" stroke-width="0.12">600</text>
<text x="119" y="368" font-size="5.05" fill="#222" text-anchor="middle" font-weight="normal" font-family='"Liberation Sans", sans-serif' stroke="#222" stroke-width="0.15">Time (s)</text>
<text x="38.5" y="310.95" font-size="5.05" fill="#2a2a2a" text-anchor="middle" font-weight="normal" font-family='"Liberation Sans", sans-serif' transform="rotate(-90 38.5 310.95)" stroke="#2a2a2a" stroke-width="0.1">&#916;EPSC (nA)</text>
<clipPath id="cd"><rect x="55" y="261.2" width="128" height="93.5"/></clipPath><g clip-path="url(#cd)">
<polyline points="54.6,351.76 67.48,352.19 70.7,350.06 77.14,348.64 80.36,351.48 86.8,351.48 88.41,348.92 94.85,348.64 96.46,351.48 104.51,351.48 106.12,348.64 114.17,348.64 115.78,351.2 122.22,350.91 123.83,347.93 133.49,347.5 138.32,350.06 139.39,350.18 140.47,350.3 141.54,350.4 142.61,350.5 143.69,350.59 144.76,350.67 145.83,350.74 146.91,350.81 147.98,350.88 149.05,350.93 150.13,350.99 151.2,351.04 152.27,351.08 153.35,351.12 154.42,351.16 155.49,351.2 156.57,351.23 157.64,351.26 158.71,351.29 159.79,351.31 160.86,351.34 161.93,351.36 163.01,351.38 164.08,351.4 165.15,351.41 166.23,351.43 167.3,351.44 168.37,351.46 169.45,351.47 170.52,351.48" fill="none" stroke="#806060" stroke-width="1" stroke-linejoin="round"/>
<polyline points="54.6,351.76 67.48,352.19 70.7,348.92 73.92,348.64 75.53,351.2 85.19,351.2 86.8,348.07 94.85,347.79 96.46,350.77 102.9,350.77 104.51,347.79 112.56,347.5 114.17,350.34 120.61,350.34 122.22,346.94 131.88,346.51 135.1,349.35 136.71,349.56 138.32,349.75 139.93,349.93 141.54,350.09 143.15,350.25 144.76,350.38 146.37,350.51 147.98,350.63 149.59,350.74 151.2,350.84 152.81,350.93 154.42,351.01 156.03,351.09 157.64,351.16 159.25,351.23 160.86,351.29 162.47,351.34 164.08,351.39 165.69,351.44 167.3,351.48 168.91,351.52 170.52,351.56 172.13,351.59 173.74,351.62 175.35,351.65 176.96,351.68 178.57,351.7 180.18,351.72 181.79,351.74 183.4,351.76" fill="none" stroke="#b08a60" stroke-width="1" stroke-linejoin="round"/>
<polyline points="54.6,351.76 66.67,352.19 72.31,345.09 82.78,347.5 93.24,342.68 102.09,345.52 110.95,340.4 119.81,343.67 128.66,339.41 138.32,342.68 149.59,337.99 150.72,338.68 151.84,339.32 152.97,339.92 154.1,340.49 155.23,341.02 156.35,341.51 157.48,341.97 158.61,342.4 159.73,342.81 160.86,343.18 161.99,343.54 163.11,343.87 164.24,344.18 165.37,344.47 166.5,344.74 167.62,344.99 168.75,345.23 169.88,345.45 171,345.66 172.13,345.85 173.26,346.03 174.38,346.2 175.51,346.36 176.64,346.51 177.77,346.65 178.89,346.78 180.02,346.9 181.15,347.01 182.27,347.12 183.4,347.22" fill="none" stroke="#4a4aa0" stroke-width="1.1" stroke-linejoin="round"/>
<polyline points="54.6,352.19 65.87,352.19 73.12,330.89 82.78,337.28 92.44,318.82 101.61,328.05 110.95,311.72 119.81,323.08 128.66,306.04 137.52,318.82 159.25,303.91 160.06,305.41 160.86,306.85 161.67,308.24 162.47,309.56 163.28,310.83 164.08,312.05 164.89,313.22 165.69,314.35 166.5,315.42 167.3,316.46 168.11,317.45 168.91,318.4 169.72,319.31 170.52,320.18 171.33,321.02 172.13,321.83 172.94,322.6 173.74,323.34 174.55,324.05 175.35,324.73 176.16,325.38 176.96,326.01 177.77,326.61 178.57,327.18 179.38,327.74 180.18,328.27 180.99,328.78 181.79,329.26 182.6,329.73 183.4,330.18" fill="none" stroke="#b070d0" stroke-width="1.1" stroke-linejoin="round"/>
<polyline points="54.6,351.76 65.87,352.19 73.12,320.95 82.78,327.34 92.6,294.68 101.61,308.17 110.63,280.48 119.48,298.23 128.66,271.96 137.35,291.84 145.73,267.7 146.98,271.86 148.24,275.8 149.49,279.53 150.75,283.05 152,286.38 153.26,289.54 154.52,292.52 155.77,295.34 157.03,298.01 158.28,300.53 159.54,302.92 160.8,305.18 162.05,307.32 163.31,309.34 164.56,311.25 165.82,313.06 167.07,314.77 168.33,316.39 169.59,317.92 170.84,319.37 172.1,320.74 173.35,322.04 174.61,323.26 175.87,324.42 177.12,325.52 178.38,326.56 179.63,327.54 180.89,328.47 182.14,329.35 183.4,330.18" fill="none" stroke="#3e7a46" stroke-width="1.1" stroke-linejoin="round"/>
</g>
<rect x="156.9" y="260.8" width="26.5" height="27.4" stroke="#a8a8a8" fill="#fff" stroke-width="0.5"/>
<line x1="158.4" y1="264.9" x2="167.8" y2="264.9" stroke="#8a7070" stroke-width="1"/>
<text x="169" y="266.45" font-size="4.4" fill="#444" text-anchor="start" font-weight="normal" font-family='"Liberation Sans", sans-serif'>0.2 V</text>
<line x1="158.4" y1="270.2" x2="167.8" y2="270.2" stroke="#c0a090" stroke-width="1"/>
<text x="169" y="271.75" font-size="4.4" fill="#444" text-anchor="start" font-weight="normal" font-family='"Liberation Sans", sans-serif'>0.5 V</text>
<line x1="158.4" y1="275.4" x2="167.8" y2="275.4" stroke="#404090" stroke-width="1"/>
<text x="169" y="276.95" font-size="4.4" fill="#444" text-anchor="start" font-weight="normal" font-family='"Liberation Sans", sans-serif'>1 V</text>
<line x1="158.4" y1="280.6" x2="167.8" y2="280.6" stroke="#c0a0e0" stroke-width="1"/>
<text x="169" y="282.15" font-size="4.4" fill="#444" text-anchor="start" font-weight="normal" font-family='"Liberation Sans", sans-serif'>3 V</text>
<line x1="158.4" y1="285.9" x2="167.8" y2="285.9" stroke="#707050" stroke-width="1"/>
<text x="169" y="287.45" font-size="4.4" fill="#444" text-anchor="start" font-weight="normal" font-family='"Liberation Sans", sans-serif'>5 V</text>
<text x="17" y="272.3" font-size="16.5" fill="#111" font-family='"Liberation Serif", serif' stroke="#111" stroke-width="0.1">(d)</text>
<rect x="232.1" y="260.4" width="128.8" height="93.6" stroke="#5a5a5a" fill="none" stroke-width="0.75"/>
<line x1="232.1" y1="354" x2="232.1" y2="352.4" stroke="#555" stroke-width="0.5"/>
<line x1="248.2" y1="354" x2="248.2" y2="353" stroke="#777" stroke-width="0.4"/>
<text x="232.1" y="358.8" font-size="4.2" fill="#333" text-anchor="middle" font-weight="normal" font-family='"Liberation Sans", sans-serif' stroke="#333" stroke-width="0.12">0</text>
<line x1="264.3" y1="354" x2="264.3" y2="352.4" stroke="#555" stroke-width="0.5"/>
<line x1="280.4" y1="354" x2="280.4" y2="353" stroke="#777" stroke-width="0.4"/>
<text x="264.3" y="358.8" font-size="4.2" fill="#333" text-anchor="middle" font-weight="normal" font-family='"Liberation Sans", sans-serif' stroke="#333" stroke-width="0.12">2</text>
<line x1="296.5" y1="354" x2="296.5" y2="352.4" stroke="#555" stroke-width="0.5"/>
<line x1="312.6" y1="354" x2="312.6" y2="353" stroke="#777" stroke-width="0.4"/>
<text x="296.5" y="358.8" font-size="4.2" fill="#333" text-anchor="middle" font-weight="normal" font-family='"Liberation Sans", sans-serif' stroke="#333" stroke-width="0.12">4</text>
<line x1="328.7" y1="354" x2="328.7" y2="352.4" stroke="#555" stroke-width="0.5"/>
<line x1="344.8" y1="354" x2="344.8" y2="353" stroke="#777" stroke-width="0.4"/>
<text x="328.7" y="358.8" font-size="4.2" fill="#333" text-anchor="middle" font-weight="normal" font-family='"Liberation Sans", sans-serif' stroke="#333" stroke-width="0.12">6</text>
<line x1="360.9" y1="354" x2="360.9" y2="352.4" stroke="#555" stroke-width="0.5"/>
<text x="360.9" y="358.8" font-size="4.2" fill="#333" text-anchor="middle" font-weight="normal" font-family='"Liberation Sans", sans-serif' stroke="#333" stroke-width="0.12">8</text>
<line x1="232.1" y1="349.83" x2="233.7" y2="349.83" stroke="#555" stroke-width="0.5"/>
<line x1="232.1" y1="342.37" x2="233.1" y2="342.37" stroke="#777" stroke-width="0.4"/>
<text x="230.2" y="351.33" font-size="4.2" fill="#333" text-anchor="end" font-weight="normal" font-family='"Liberation Sans", sans-serif' stroke="#333" stroke-width="0.12">0</text>
<line x1="232.1" y1="334.92" x2="233.7" y2="334.92" stroke="#555" stroke-width="0.5"/>
<line x1="232.1" y1="327.47" x2="233.1" y2="327.47" stroke="#777" stroke-width="0.4"/>
<text x="230.2" y="336.42" font-size="4.2" fill="#333" text-anchor="end" font-weight="normal" font-family='"Liberation Sans", sans-serif' stroke="#333" stroke-width="0.12">20</text>
<line x1="232.1" y1="320.02" x2="233.7" y2="320.02" stroke="#555" stroke-width="0.5"/>
<line x1="232.1" y1="312.57" x2="233.1" y2="312.57" stroke="#777" stroke-width="0.4"/>
<text x="230.2" y="321.52" font-size="4.2" fill="#333" text-anchor="end" font-weight="normal" font-family='"Liberation Sans", sans-serif' stroke="#333" stroke-width="0.12">40</text>
<line x1="232.1" y1="305.11" x2="233.7" y2="305.11" stroke="#555" stroke-width="0.5"/>
<line x1="232.1" y1="297.66" x2="233.1" y2="297.66" stroke="#777" stroke-width="0.4"/>
<text x="230.2" y="306.61" font-size="4.2" fill="#333" text-anchor="end" font-weight="normal" font-family='"Liberation Sans", sans-serif' stroke="#333" stroke-width="0.12">60</text>
<line x1="232.1" y1="290.21" x2="233.7" y2="290.21" stroke="#555" stroke-width="0.5"/>
<line x1="232.1" y1="282.76" x2="233.1" y2="282.76" stroke="#777" stroke-width="0.4"/>
<text x="230.2" y="291.71" font-size="4.2" fill="#333" text-anchor="end" font-weight="normal" font-family='"Liberation Sans", sans-serif' stroke="#333" stroke-width="0.12">80</text>
<line x1="232.1" y1="275.3" x2="233.7" y2="275.3" stroke="#555" stroke-width="0.5"/>
<line x1="232.1" y1="267.85" x2="233.1" y2="267.85" stroke="#777" stroke-width="0.4"/>
<text x="230.2" y="276.8" font-size="4.2" fill="#333" text-anchor="end" font-weight="normal" font-family='"Liberation Sans", sans-serif' stroke="#333" stroke-width="0.12">100</text>
<line x1="232.1" y1="260.4" x2="233.7" y2="260.4" stroke="#555" stroke-width="0.5"/>
<text x="230.2" y="261.9" font-size="4.2" fill="#333" text-anchor="end" font-weight="normal" font-family='"Liberation Sans", sans-serif' stroke="#333" stroke-width="0.12">120</text>
<text x="296.5" y="366" font-size="5.05" fill="#222" text-anchor="middle" font-weight="normal" font-family='"Liberation Sans", sans-serif' stroke="#222" stroke-width="0.15">Time (s)</text>
<text x="220" y="310.9" font-size="5.05" fill="#2a2a2a" text-anchor="middle" font-weight="normal" font-family='"Liberation Sans", sans-serif' transform="rotate(-90 220 310.9)" stroke="#2a2a2a" stroke-width="0.1">&#916;EPSC (nA)</text>
<clipPath id="ce"><rect x="232.5" y="260.8" width="128" height="92.8"/></clipPath><g clip-path="url(#ce)">
<polyline points="232.1,349.08 241.76,349.08 246.59,347.59 253.03,347.22 256.25,348.34 269.13,346.85 272.35,347.96 285.23,346.47 288.45,347.59 301.33,346.1 304.55,347.59 312.6,346.1 314.21,346.33 315.82,346.55 317.43,346.76 319.04,346.95 320.65,347.13 322.26,347.29 323.87,347.45 325.48,347.6 327.09,347.73 328.7,347.86 330.31,347.98 331.92,348.09 333.53,348.2 335.14,348.3 336.75,348.39 338.36,348.47 339.97,348.56 341.58,348.63 343.19,348.7 344.8,348.77 346.41,348.83 348.02,348.89 349.63,348.94 351.24,348.99 352.85,349.04 354.46,349.08 356.07,349.12 357.68,349.16 359.29,349.2 360.9,349.23" fill="none" stroke="#604040" stroke-width="1.1" stroke-linejoin="round"/>
<polyline points="232.1,349.08 241.76,349.08 244.98,346.1 253.03,344.61 256.25,347.59 259.47,345.36 267.52,343.86 270.74,346.1 273.96,343.86 283.62,343.12 288.45,345.36 290.06,343.12 299.72,342.37 302.94,344.61 307.77,342.37 309.54,342.93 311.31,343.43 313.08,343.9 314.85,344.33 316.62,344.73 318.4,345.09 320.17,345.42 321.94,345.73 323.71,346.02 325.48,346.28 327.25,346.52 329.02,346.74 330.79,346.94 332.56,347.13 334.33,347.3 336.11,347.46 337.88,347.6 339.65,347.74 341.42,347.86 343.19,347.97 344.96,348.08 346.73,348.17 348.5,348.26 350.27,348.34 352.04,348.42 353.82,348.48 355.59,348.55 357.36,348.61 359.13,348.66 360.9,348.71" fill="none" stroke="#a07a50" stroke-width="1.1" stroke-linejoin="round"/>
<polyline points="232.1,348.34 241.76,349.08 244.98,344.61 251.42,343.12 256.25,346.1 257.86,342.37 267.52,340.88 270.74,343.86 273.96,340.14 283.62,338.65 288.45,341.63 290.06,339.39 299.72,337.9 302.94,340.88 307.77,337.16 309.54,337.94 311.31,338.65 313.08,339.31 314.85,339.92 316.62,340.48 318.4,340.99 320.17,341.46 321.94,341.9 323.71,342.3 325.48,342.67 327.25,343 329.02,343.32 330.79,343.6 332.56,343.87 334.33,344.11 336.11,344.33 337.88,344.54 339.65,344.73 341.42,344.9 343.19,345.06 344.96,345.21 346.73,345.34 348.5,345.47 350.27,345.58 352.04,345.69 353.82,345.78 355.59,345.87 357.36,345.96 359.13,346.03 360.9,346.1" fill="none" stroke="#4a4aa8" stroke-width="1.5" stroke-linejoin="round"/>
<polyline points="232.1,348.34 241.76,349.83 252.22,334.92 256.25,338.65 267.52,325.98 272.35,329.71 283.62,319.27 288.45,323 299.72,313.31 302.94,317.78 307.77,309.58 309.54,312.2 311.31,314.64 313.08,316.93 314.85,319.07 316.62,321.07 318.4,322.94 320.17,324.69 321.94,326.33 323.71,327.86 325.48,329.3 327.25,330.64 329.02,331.89 330.79,333.06 332.56,334.16 334.33,335.19 336.11,336.15 337.88,337.05 339.65,337.89 341.42,338.68 343.19,339.41 344.96,340.1 346.73,340.75 348.5,341.35 350.27,341.91 352.04,342.44 353.82,342.93 355.59,343.4 357.36,343.83 359.13,344.23 360.9,344.61" fill="none" stroke="#c080e0" stroke-width="1.4" stroke-linejoin="round"/>
<polyline points="232.1,348.34 241.76,349.83 253.03,318.53 257.86,323.74 269.13,299.9 273.96,306.6 285.23,285.74 290.06,293.19 301.33,273.81 306.16,281.27 315.82,266.36 317.32,269.07 318.83,271.68 320.33,274.19 321.83,276.61 323.33,278.94 324.84,281.19 326.34,283.36 327.84,285.45 329.34,287.46 330.85,289.4 332.35,291.27 333.85,293.07 335.35,294.8 336.86,296.48 338.36,298.09 339.86,299.64 341.37,301.14 342.87,302.58 344.37,303.97 345.87,305.31 347.38,306.6 348.88,307.84 350.38,309.04 351.88,310.19 353.39,311.31 354.89,312.38 356.39,313.41 357.89,314.41 359.4,315.37 360.9,316.29" fill="none" stroke="#3e7a46" stroke-width="1.2" stroke-linejoin="round"/>
</g>
<rect x="331.2" y="260.4" width="29.7" height="27.4" stroke="#a8a8a8" fill="#fff" stroke-width="0.5"/>
<line x1="333.7" y1="265.3" x2="344.6" y2="265.3" stroke="#9a7080" stroke-width="1"/>
<text x="346.1" y="266.85" font-size="4.4" fill="#444" text-anchor="start" font-weight="normal" font-family='"Liberation Sans", sans-serif'>0.2 V</text>
<line x1="333.7" y1="270.5" x2="344.6" y2="270.5" stroke="#a08070" stroke-width="1"/>
<text x="346.1" y="272.05" font-size="4.4" fill="#444" text-anchor="start" font-weight="normal" font-family='"Liberation Sans", sans-serif'>0.5 V</text>
<line x1="333.7" y1="275.8" x2="344.6" y2="275.8" stroke="#8080c0" stroke-width="1"/>
<text x="346.1" y="277.35" font-size="4.4" fill="#444" text-anchor="start" font-weight="normal" font-family='"Liberation Sans", sans-serif'>1 V</text>
<line x1="333.7" y1="281.1" x2="344.6" y2="281.1" stroke="#a8a0d8" stroke-width="1"/>
<text x="346.1" y="282.65" font-size="4.4" fill="#444" text-anchor="start" font-weight="normal" font-family='"Liberation Sans", sans-serif'>3 V</text>
<line x1="333.7" y1="286" x2="344.6" y2="286" stroke="#9a9a70" stroke-width="1"/>
<text x="346.1" y="287.55" font-size="4.4" fill="#444" text-anchor="start" font-weight="normal" font-family='"Liberation Sans", sans-serif'>5 V</text>
<text x="193.1" y="272.3" font-size="16.5" fill="#111" font-family='"Liberation Serif", serif' stroke="#111" stroke-width="0.1">(e)</text>
<rect x="413.3" y="261.5" width="128.7" height="94.6" stroke="#5a5a5a" fill="none" stroke-width="0.75"/>
<line x1="413.3" y1="356.1" x2="413.3" y2="354.5" stroke="#555" stroke-width="0.5"/>
<line x1="426.17" y1="356.1" x2="426.17" y2="355.1" stroke="#777" stroke-width="0.4"/>
<text x="413.3" y="361.2" font-size="4.2" fill="#333" text-anchor="middle" font-weight="normal" font-family='"Liberation Sans", sans-serif' stroke="#333" stroke-width="0.12">0</text>
<line x1="439.04" y1="356.1" x2="439.04" y2="354.5" stroke="#555" stroke-width="0.5"/>
<line x1="451.91" y1="356.1" x2="451.91" y2="355.1" stroke="#777" stroke-width="0.4"/>
<text x="439.04" y="361.2" font-size="4.2" fill="#333" text-anchor="middle" font-weight="normal" font-family='"Liberation Sans", sans-serif' stroke="#333" stroke-width="0.12">2</text>
<line x1="464.78" y1="356.1" x2="464.78" y2="354.5" stroke="#555" stroke-width="0.5"/>
<line x1="477.65" y1="356.1" x2="477.65" y2="355.1" stroke="#777" stroke-width="0.4"/>
<text x="464.78" y="361.2" font-size="4.2" fill="#333" text-anchor="middle" font-weight="normal" font-family='"Liberation Sans", sans-serif' stroke="#333" stroke-width="0.12">4</text>
<line x1="490.52" y1="356.1" x2="490.52" y2="354.5" stroke="#555" stroke-width="0.5"/>
<line x1="503.39" y1="356.1" x2="503.39" y2="355.1" stroke="#777" stroke-width="0.4"/>
<text x="490.52" y="361.2" font-size="4.2" fill="#333" text-anchor="middle" font-weight="normal" font-family='"Liberation Sans", sans-serif' stroke="#333" stroke-width="0.12">6</text>
<line x1="516.26" y1="356.1" x2="516.26" y2="354.5" stroke="#555" stroke-width="0.5"/>
<line x1="529.13" y1="356.1" x2="529.13" y2="355.1" stroke="#777" stroke-width="0.4"/>
<text x="516.26" y="361.2" font-size="4.2" fill="#333" text-anchor="middle" font-weight="normal" font-family='"Liberation Sans", sans-serif' stroke="#333" stroke-width="0.12">8</text>
<line x1="542" y1="356.1" x2="542" y2="354.5" stroke="#555" stroke-width="0.5"/>
<text x="542" y="361.2" font-size="4.2" fill="#333" text-anchor="middle" font-weight="normal" font-family='"Liberation Sans", sans-serif' stroke="#333" stroke-width="0.12">10</text>
<line x1="413.3" y1="348.97" x2="414.9" y2="348.97" stroke="#555" stroke-width="0.5"/>
<line x1="413.3" y1="343.48" x2="414.3" y2="343.48" stroke="#777" stroke-width="0.4"/>
<text x="411.4" y="350.47" font-size="4.2" fill="#333" text-anchor="end" font-weight="normal" font-family='"Liberation Sans", sans-serif' stroke="#333" stroke-width="0.12">0</text>
<line x1="413.3" y1="337.99" x2="414.9" y2="337.99" stroke="#555" stroke-width="0.5"/>
<line x1="413.3" y1="332.5" x2="414.3" y2="332.5" stroke="#777" stroke-width="0.4"/>
<text x="411.4" y="339.49" font-size="4.2" fill="#333" text-anchor="end" font-weight="normal" font-family='"Liberation Sans", sans-serif' stroke="#333" stroke-width="0.12">10</text>
<line x1="413.3" y1="327.02" x2="414.9" y2="327.02" stroke="#555" stroke-width="0.5"/>
<line x1="413.3" y1="321.53" x2="414.3" y2="321.53" stroke="#777" stroke-width="0.4"/>
<text x="411.4" y="328.52" font-size="4.2" fill="#333" text-anchor="end" font-weight="normal" font-family='"Liberation Sans", sans-serif' stroke="#333" stroke-width="0.12">20</text>
<line x1="413.3" y1="316.04" x2="414.9" y2="316.04" stroke="#555" stroke-width="0.5"/>
<line x1="413.3" y1="310.56" x2="414.3" y2="310.56" stroke="#777" stroke-width="0.4"/>
<text x="411.4" y="317.54" font-size="4.2" fill="#333" text-anchor="end" font-weight="normal" font-family='"Liberation Sans", sans-serif' stroke="#333" stroke-width="0.12">30</text>
<line x1="413.3" y1="305.07" x2="414.9" y2="305.07" stroke="#555" stroke-width="0.5"/>
<line x1="413.3" y1="299.58" x2="414.3" y2="299.58" stroke="#777" stroke-width="0.4"/>
<text x="411.4" y="306.57" font-size="4.2" fill="#333" text-anchor="end" font-weight="normal" font-family='"Liberation Sans", sans-serif' stroke="#333" stroke-width="0.12">40</text>
<line x1="413.3" y1="294.09" x2="414.9" y2="294.09" stroke="#555" stroke-width="0.5"/>
<line x1="413.3" y1="288.61" x2="414.3" y2="288.61" stroke="#777" stroke-width="0.4"/>
<text x="411.4" y="295.59" font-size="4.2" fill="#333" text-anchor="end" font-weight="normal" font-family='"Liberation Sans", sans-serif' stroke="#333" stroke-width="0.12">50</text>
<line x1="413.3" y1="283.12" x2="414.9" y2="283.12" stroke="#555" stroke-width="0.5"/>
<line x1="413.3" y1="277.63" x2="414.3" y2="277.63" stroke="#777" stroke-width="0.4"/>
<text x="411.4" y="284.62" font-size="4.2" fill="#333" text-anchor="end" font-weight="normal" font-family='"Liberation Sans", sans-serif' stroke="#333" stroke-width="0.12">60</text>
<line x1="413.3" y1="272.15" x2="414.9" y2="272.15" stroke="#555" stroke-width="0.5"/>
<line x1="413.3" y1="266.66" x2="414.3" y2="266.66" stroke="#777" stroke-width="0.4"/>
<text x="411.4" y="273.65" font-size="4.2" fill="#333" text-anchor="end" font-weight="normal" font-family='"Liberation Sans", sans-serif' stroke="#333" stroke-width="0.12">70</text>
<line x1="413.3" y1="261.17" x2="414.9" y2="261.17" stroke="#555" stroke-width="0.5"/>
<text x="411.4" y="262.67" font-size="4.2" fill="#333" text-anchor="end" font-weight="normal" font-family='"Liberation Sans", sans-serif' stroke="#333" stroke-width="0.12">80</text>
<text x="477.65" y="369.5" font-size="5.05" fill="#222" text-anchor="middle" font-weight="normal" font-family='"Liberation Sans", sans-serif' stroke="#222" stroke-width="0.15">Time (s)</text>
<text x="403" y="312.6" font-size="5.05" fill="#2a2a2a" text-anchor="middle" font-weight="normal" font-family='"Liberation Sans", sans-serif' transform="rotate(-90 403 312.6)" stroke="#2a2a2a" stroke-width="0.1">&#916;EPSC (nA)</text>
<clipPath id="cf"><rect x="413.7" y="261.9" width="127.9" height="93.8"/></clipPath><g clip-path="url(#cf)">
<polyline points="413.3,348.97 426.17,348.97 439.04,347.87 481.51,346.77 483.53,346.87 485.54,346.96 487.56,347.05 489.58,347.13 491.59,347.2 493.61,347.27 495.63,347.34 497.64,347.4 499.66,347.46 501.67,347.51 503.69,347.56 505.71,347.61 507.72,347.65 509.74,347.7 511.76,347.73 513.77,347.77 515.79,347.8 517.8,347.84 519.82,347.87 521.84,347.89 523.85,347.92 525.87,347.94 527.89,347.97 529.9,347.99 531.92,348.01 533.93,348.03 535.95,348.04 537.97,348.06 539.98,348.07 542,348.09" fill="none" stroke="#202050" stroke-width="1.3" stroke-linejoin="round"/>
<polyline points="413.3,348.97 426.17,348.97 435.18,346.77 448.05,345.13 459.63,344.03 471.22,342.93 481.51,342.38 483.53,342.86 485.54,343.29 487.56,343.67 489.58,344.02 491.59,344.32 493.61,344.6 495.63,344.84 497.64,345.06 499.66,345.26 501.67,345.44 503.69,345.59 505.71,345.73 507.72,345.86 509.74,345.97 511.76,346.07 513.77,346.16 515.79,346.25 517.8,346.32 519.82,346.38 521.84,346.44 523.85,346.49 525.87,346.54 527.89,346.58 529.9,346.62 531.92,346.65 533.93,346.68 535.95,346.71 537.97,346.73 539.98,346.75 542,346.77" fill="none" stroke="#a07040" stroke-width="1.1" stroke-linejoin="round"/>
<polyline points="413.3,348.97 426.17,348.97 435.18,343.48 439.04,344.36 448.05,340.19 451.27,341.28 459.63,336.89 462.85,337.99 471.22,334.7 475.08,335.8 481.51,332.5 483.53,333.56 485.54,334.52 487.56,335.4 489.58,336.19 491.59,336.92 493.61,337.57 495.63,338.17 497.64,338.71 499.66,339.21 501.67,339.66 503.69,340.06 505.71,340.43 507.72,340.77 509.74,341.08 511.76,341.36 513.77,341.61 515.79,341.84 517.8,342.05 519.82,342.24 521.84,342.41 523.85,342.57 525.87,342.72 527.89,342.85 529.9,342.96 531.92,343.07 533.93,343.17 535.95,343.26 537.97,343.34 539.98,343.41 542,343.48" fill="none" stroke="#5050b0" stroke-width="1.4" stroke-linejoin="round"/>
<polyline points="413.3,348.97 426.17,348.97 435.82,331.41 439.04,334.7 448.05,319.34 451.27,323.73 459.63,310.56 462.85,314.95 471.22,302.87 475.08,308.36 482.15,297.39 484.15,300.72 486.14,303.75 488.14,306.5 490.13,309.01 492.13,311.28 494.12,313.35 496.12,315.23 498.11,316.94 500.11,318.5 502.1,319.91 504.1,321.2 506.09,322.37 508.09,323.43 510.08,324.39 512.08,325.27 514.07,326.07 516.07,326.8 518.06,327.46 520.06,328.06 522.05,328.6 524.05,329.1 526.04,329.55 528.04,329.96 530.03,330.33 532.03,330.67 534.02,330.98 536.02,331.26 538.01,331.51 540.01,331.75 542,331.96" fill="none" stroke="#d080e0" stroke-width="1.4" stroke-linejoin="round"/>
<polyline points="413.3,348.97 426.17,348.97 435.82,320.43 439.04,324.82 448.05,302.87 451.27,309.46 459.63,289.7 462.85,295.19 471.22,279.83 475.08,287.51 483.44,269.95 485.39,273.47 487.35,276.73 489.3,279.76 491.25,282.58 493.2,285.19 495.15,287.62 497.11,289.87 499.06,291.96 501.01,293.91 502.96,295.71 504.91,297.39 506.86,298.94 508.82,300.39 510.77,301.73 512.72,302.98 514.67,304.13 516.62,305.21 518.58,306.21 520.53,307.13 522.48,307.99 524.43,308.79 526.38,309.53 528.34,310.22 530.29,310.86 532.24,311.46 534.19,312.01 536.14,312.52 538.1,313 540.05,313.44 542,313.85" fill="none" stroke="#3a8040" stroke-width="1.3" stroke-linejoin="round"/>
</g>
<rect x="512.9" y="261.5" width="29.1" height="32.9" stroke="#a8a8a8" fill="#fff" stroke-width="0.5"/>
<line x1="515.2" y1="266.4" x2="526.1" y2="266.4" stroke="#303040" stroke-width="1"/>
<text x="527.5" y="267.95" font-size="4.8" fill="#444" text-anchor="start" font-weight="normal" font-family='"Liberation Sans", sans-serif'>0.2 V</text>
<line x1="515.2" y1="272.5" x2="526.1" y2="272.5" stroke="#b0a070" stroke-width="1"/>
<text x="527.5" y="274.05" font-size="4.8" fill="#444" text-anchor="start" font-weight="normal" font-family='"Liberation Sans", sans-serif'>0.5 V</text>
<line x1="515.2" y1="278.7" x2="526.1" y2="278.7" stroke="#6a5ab0" stroke-width="1"/>
<text x="527.5" y="280.25" font-size="4.8" fill="#444" text-anchor="start" font-weight="normal" font-family='"Liberation Sans", sans-serif'>1 V</text>
<line x1="515.2" y1="284.9" x2="526.1" y2="284.9" stroke="#b090d8" stroke-width="1"/>
<text x="527.5" y="286.45" font-size="4.8" fill="#444" text-anchor="start" font-weight="normal" font-family='"Liberation Sans", sans-serif'>3 V</text>
<line x1="515.2" y1="291.1" x2="526.1" y2="291.1" stroke="#5a8050" stroke-width="1"/>
<text x="527.5" y="292.65" font-size="4.8" fill="#444" text-anchor="start" font-weight="normal" font-family='"Liberation Sans", sans-serif'>5 V</text>
<text x="376.3" y="272.3" font-size="16.5" fill="#111" font-family='"Liberation Serif", serif' stroke="#111" stroke-width="0.1">(f)</text>
<rect x="70.4" y="376.9" width="13.6" height="94.6" stroke="none" fill="#c8c8f4" stroke-width="0.8"/>
<rect x="96" y="376.9" width="13.6" height="94.6" stroke="none" fill="#c8c8f4" stroke-width="0.8"/>
<rect x="56.7" y="376.9" width="124.8" height="94.6" stroke="#5a5a5a" fill="none" stroke-width="0.75"/>
<line x1="56.7" y1="471.5" x2="56.7" y2="469.9" stroke="#555" stroke-width="0.5"/>
<line x1="69.18" y1="471.5" x2="69.18" y2="470.5" stroke="#777" stroke-width="0.4"/>
<text x="56.7" y="476.5" font-size="4.2" fill="#333" text-anchor="middle" font-weight="normal" font-family='"Liberation Sans", sans-serif' stroke="#333" stroke-width="0.12">0</text>
<line x1="81.66" y1="471.5" x2="81.66" y2="469.9" stroke="#555" stroke-width="0.5"/>
<line x1="94.14" y1="471.5" x2="94.14" y2="470.5" stroke="#777" stroke-width="0.4"/>
<text x="81.66" y="476.5" font-size="4.2" fill="#333" text-anchor="middle" font-weight="normal" font-family='"Liberation Sans", sans-serif' stroke="#333" stroke-width="0.12">2</text>
<line x1="106.62" y1="471.5" x2="106.62" y2="469.9" stroke="#555" stroke-width="0.5"/>
<line x1="119.1" y1="471.5" x2="119.1" y2="470.5" stroke="#777" stroke-width="0.4"/>
<text x="106.62" y="476.5" font-size="4.2" fill="#333" text-anchor="middle" font-weight="normal" font-family='"Liberation Sans", sans-serif' stroke="#333" stroke-width="0.12">4</text>
<line x1="131.58" y1="471.5" x2="131.58" y2="469.9" stroke="#555" stroke-width="0.5"/>
<line x1="144.06" y1="471.5" x2="144.06" y2="470.5" stroke="#777" stroke-width="0.4"/>
<text x="131.58" y="476.5" font-size="4.2" fill="#333" text-anchor="middle" font-weight="normal" font-family='"Liberation Sans", sans-serif' stroke="#333" stroke-width="0.12">6</text>
<line x1="156.54" y1="471.5" x2="156.54" y2="469.9" stroke="#555" stroke-width="0.5"/>
<line x1="169.02" y1="471.5" x2="169.02" y2="470.5" stroke="#777" stroke-width="0.4"/>
<text x="156.54" y="476.5" font-size="4.2" fill="#333" text-anchor="middle" font-weight="normal" font-family='"Liberation Sans", sans-serif' stroke="#333" stroke-width="0.12">8</text>
<line x1="181.5" y1="471.5" x2="181.5" y2="469.9" stroke="#555" stroke-width="0.5"/>
<text x="181.5" y="476.5" font-size="4.2" fill="#333" text-anchor="middle" font-weight="normal" font-family='"Liberation Sans", sans-serif' stroke="#333" stroke-width="0.12">10</text>
<line x1="56.7" y1="468.48" x2="58.3" y2="468.48" stroke="#555" stroke-width="0.5"/>
<line x1="56.7" y1="462.88" x2="57.7" y2="462.88" stroke="#777" stroke-width="0.4"/>
<text x="54.8" y="469.98" font-size="4.2" fill="#333" text-anchor="end" font-weight="normal" font-family='"Liberation Sans", sans-serif' stroke="#333" stroke-width="0.12">0</text>
<line x1="56.7" y1="457.28" x2="58.3" y2="457.28" stroke="#555" stroke-width="0.5"/>
<line x1="56.7" y1="451.68" x2="57.7" y2="451.68" stroke="#777" stroke-width="0.4"/>
<text x="54.8" y="458.78" font-size="4.2" fill="#333" text-anchor="end" font-weight="normal" font-family='"Liberation Sans", sans-serif' stroke="#333" stroke-width="0.12">20</text>
<line x1="56.7" y1="446.09" x2="58.3" y2="446.09" stroke="#555" stroke-width="0.5"/>
<line x1="56.7" y1="440.49" x2="57.7" y2="440.49" stroke="#777" stroke-width="0.4"/>
<text x="54.8" y="447.59" font-size="4.2" fill="#333" text-anchor="end" font-weight="normal" font-family='"Liberation Sans", sans-serif' stroke="#333" stroke-width="0.12">40</text>
<line x1="56.7" y1="434.89" x2="58.3" y2="434.89" stroke="#555" stroke-width="0.5"/>
<line x1="56.7" y1="429.29" x2="57.7" y2="429.29" stroke="#777" stroke-width="0.4"/>
<text x="54.8" y="436.39" font-size="4.2" fill="#333" text-anchor="end" font-weight="normal" font-family='"Liberation Sans", sans-serif' stroke="#333" stroke-width="0.12">60</text>
<line x1="56.7" y1="423.7" x2="58.3" y2="423.7" stroke="#555" stroke-width="0.5"/>
<line x1="56.7" y1="418.1" x2="57.7" y2="418.1" stroke="#777" stroke-width="0.4"/>
<text x="54.8" y="425.2" font-size="4.2" fill="#333" text-anchor="end" font-weight="normal" font-family='"Liberation Sans", sans-serif' stroke="#333" stroke-width="0.12">80</text>
<line x1="56.7" y1="412.5" x2="58.3" y2="412.5" stroke="#555" stroke-width="0.5"/>
<line x1="56.7" y1="406.9" x2="57.7" y2="406.9" stroke="#777" stroke-width="0.4"/>
<text x="54.8" y="414" font-size="4.2" fill="#333" text-anchor="end" font-weight="normal" font-family='"Liberation Sans", sans-serif' stroke="#333" stroke-width="0.12">100</text>
<line x1="56.7" y1="401.31" x2="58.3" y2="401.31" stroke="#555" stroke-width="0.5"/>
<line x1="56.7" y1="395.71" x2="57.7" y2="395.71" stroke="#777" stroke-width="0.4"/>
<text x="54.8" y="402.81" font-size="4.2" fill="#333" text-anchor="end" font-weight="normal" font-family='"Liberation Sans", sans-serif' stroke="#333" stroke-width="0.12">120</text>
<line x1="56.7" y1="390.11" x2="58.3" y2="390.11" stroke="#555" stroke-width="0.5"/>
<line x1="56.7" y1="384.51" x2="57.7" y2="384.51" stroke="#777" stroke-width="0.4"/>
<text x="54.8" y="391.61" font-size="4.2" fill="#333" text-anchor="end" font-weight="normal" font-family='"Liberation Sans", sans-serif' stroke="#333" stroke-width="0.12">140</text>
<line x1="56.7" y1="378.92" x2="58.3" y2="378.92" stroke="#555" stroke-width="0.5"/>
<text x="54.8" y="380.42" font-size="4.2" fill="#333" text-anchor="end" font-weight="normal" font-family='"Liberation Sans", sans-serif' stroke="#333" stroke-width="0.12">160</text>
<text x="119.1" y="484.5" font-size="5.05" fill="#222" text-anchor="middle" font-weight="normal" font-family='"Liberation Sans", sans-serif' stroke="#222" stroke-width="0.15">Time (s)</text>
<text x="42" y="427.6" font-size="5.05" fill="#2a2a2a" text-anchor="middle" font-weight="normal" font-family='"Liberation Sans", sans-serif' transform="rotate(-90 42 427.6)" stroke="#2a2a2a" stroke-width="0.1">&#916;EPSC (nA)</text>
<line x1="69.8" y1="403.1" x2="87.3" y2="403.1" stroke="#9a9acc" stroke-width="0.7"/>
<line x1="96" y1="388.9" x2="111.3" y2="388.9" stroke="#9a9acc" stroke-width="0.7"/>
<polyline points="56.7,468.48 57.16,468.48 57.62,468.48 58.07,468.48 58.53,468.48 58.99,468.48 59.45,468.48 59.9,468.48 60.36,468.48 60.82,468.48 61.28,468.48 61.73,468.48 62.19,468.48 62.65,468.48 63.11,468.48 63.56,468.48 64.02,468.48 64.48,468.48 64.94,468.48 65.39,468.48 65.85,468.48 66.31,468.48 66.77,468.48 67.22,468.48 67.68,468.48 68.14,468.48 68.6,468.48 69.06,468.48 69.51,468.48 69.97,468.48 70.43,468.48 70.43,468.48 70.96,464.87 71.49,461.39 72.03,458.06 72.56,454.86 73.09,451.78 73.62,448.82 74.16,445.98 74.69,443.25 75.22,440.63 75.75,438.11 76.29,435.69 76.82,433.36 77.35,431.13 77.88,428.98 78.42,426.91 78.95,424.93 79.48,423.03 80.01,421.2 80.55,419.44 81.08,417.75 81.61,416.13 82.14,414.57 82.68,413.07 83.21,411.63 83.74,410.25 84.27,408.92 84.8,407.64 85.34,406.42 85.87,405.24 86.4,404.1 86.4,404.1 86.74,406.18 87.08,408.15 87.43,410.02 87.77,411.78 88.11,413.46 88.45,415.05 88.79,416.56 89.13,417.99 89.47,419.34 89.81,420.63 90.15,421.85 90.5,423 90.84,424.1 91.18,425.14 91.52,426.12 91.86,427.05 92.2,427.94 92.54,428.78 92.88,429.57 93.22,430.32 93.57,431.04 93.91,431.72 94.25,432.36 94.59,432.97 94.93,433.54 95.27,434.09 95.61,434.61 95.95,435.1 96.29,435.57 96.64,436.01 96.64,436.01 97.16,433.78 97.68,431.62 98.2,429.52 98.72,427.48 99.24,425.5 99.76,423.58 100.28,421.72 100.8,419.91 101.32,418.16 101.84,416.45 102.36,414.8 102.88,413.2 103.4,411.64 103.92,410.13 104.44,408.67 104.96,407.24 105.48,405.86 106,404.52 106.52,403.22 107.04,401.96 107.56,400.74 108.08,399.55 108.6,398.4 109.12,397.28 109.64,396.2 110.16,395.14 110.68,394.12 111.2,393.13 111.72,392.16 112.24,391.23 112.24,391.23 114.54,399.14 116.85,406.25 119.16,412.64 121.47,418.39 123.78,423.55 126.09,428.19 128.4,432.37 130.71,436.11 133.02,439.49 135.32,442.51 137.63,445.24 139.94,447.68 142.25,449.88 144.56,451.86 146.87,453.64 149.18,455.24 151.49,456.67 153.79,457.96 156.1,459.12 158.41,460.16 160.72,461.1 163.03,461.94 165.34,462.7 167.65,463.38 169.96,463.99 172.26,464.54 174.57,465.04 176.88,465.48 179.19,465.88 181.5,466.24" fill="none" stroke="#3a3aa0" stroke-width="1" stroke-linejoin="round"/>
<line x1="87.3" y1="403.1" x2="87.3" y2="466.48" stroke="#222" stroke-width="0.6"/>
<polygon points="86.2,465.88 88.4,465.88 87.3,468.48" fill="#222"/>
<line x1="111.3" y1="388.9" x2="111.3" y2="466.48" stroke="#222" stroke-width="0.6"/>
<polygon points="110.2,465.88 112.4,465.88 111.3,468.48" fill="#222"/>
<text x="76.3" y="384.6" font-size="6.9" fill="#262630" text-anchor="middle" font-weight="normal" font-family='"Liberation Sans", sans-serif' stroke="#262630" stroke-width="0.25">On</text>
<text x="89.4" y="384.6" font-size="6.9" fill="#262630" text-anchor="middle" font-weight="normal" font-family='"Liberation Sans", sans-serif' stroke="#262630" stroke-width="0.25">Off</text>
<text x="101.4" y="384.6" font-size="6.9" fill="#262630" text-anchor="middle" font-weight="normal" font-family='"Liberation Sans", sans-serif' stroke="#262630" stroke-width="0.25">On</text>
<line x1="86" y1="392.2" x2="93.4" y2="392.2" stroke="#222" stroke-width="0.75"/>
<polygon points="84.5,392.2 86.5,391.2 86.5,393.2" fill="#222"/>
<polygon points="94.9,392.2 92.9,391.2 92.9,393.2" fill="#222"/>
<text x="89.5" y="400.6" font-size="6.6" fill="#222" text-anchor="middle" font-weight="normal" font-family='"Liberation Sans", sans-serif' stroke="#222" stroke-width="0.2">&#916;t</text>
<text x="77.3" y="439.5" font-size="7" fill="#1a1a1a" font-family='"Liberation Sans", sans-serif'>A<tspan font-size="4.0" dy="1.5">1</tspan></text>
<text x="101.3" y="432.3" font-size="7" fill="#1a1a1a" font-family='"Liberation Sans", sans-serif'>A<tspan font-size="4.0" dy="1.5">2</tspan></text>
<text x="127.3" y="413.6" font-size="6.4" fill="#222" font-family='"Liberation Sans", sans-serif'>PPF= A<tspan font-size="4.0" dy="1.5">2</tspan><tspan dy="-1.5">/A</tspan><tspan font-size="4.0" dy="1.5">1</tspan></text>
<text x="18.5" y="379" font-size="16.5" fill="#111" font-family='"Liberation Serif", serif' stroke="#111" stroke-width="0.1">(g)</text>
<rect x="246.2" y="376.4" width="13.1" height="93.8" stroke="none" fill="#f4b8b4" stroke-width="0.8"/>
<rect x="271" y="376.4" width="15.5" height="93.8" stroke="none" fill="#f4b8b4" stroke-width="0.8"/>
<rect x="249" y="376.4" width="7" height="93.8" stroke="none" fill="#f8acac" stroke-width="0.8" opacity="0.6"/>
<rect x="272.5" y="376.4" width="8" height="93.8" stroke="none" fill="#f8acac" stroke-width="0.8" opacity="0.6"/>
<rect x="232.1" y="376.4" width="128.4" height="93.8" stroke="#5a5a5a" fill="none" stroke-width="0.75"/>
<line x1="232.1" y1="470.2" x2="232.1" y2="468.6" stroke="#555" stroke-width="0.5"/>
<line x1="244.94" y1="470.2" x2="244.94" y2="469.2" stroke="#777" stroke-width="0.4"/>
<text x="232.1" y="475.7" font-size="4.2" fill="#333" text-anchor="middle" font-weight="normal" font-family='"Liberation Sans", sans-serif' stroke="#333" stroke-width="0.12">0</text>
<line x1="257.78" y1="470.2" x2="257.78" y2="468.6" stroke="#555" stroke-width="0.5"/>
<line x1="270.62" y1="470.2" x2="270.62" y2="469.2" stroke="#777" stroke-width="0.4"/>
<text x="257.78" y="475.7" font-size="4.2" fill="#333" text-anchor="middle" font-weight="normal" font-family='"Liberation Sans", sans-serif' stroke="#333" stroke-width="0.12">2</text>
<line x1="283.46" y1="470.2" x2="283.46" y2="468.6" stroke="#555" stroke-width="0.5"/>
<line x1="296.3" y1="470.2" x2="296.3" y2="469.2" stroke="#777" stroke-width="0.4"/>
<text x="283.46" y="475.7" font-size="4.2" fill="#333" text-anchor="middle" font-weight="normal" font-family='"Liberation Sans", sans-serif' stroke="#333" stroke-width="0.12">4</text>
<line x1="309.14" y1="470.2" x2="309.14" y2="468.6" stroke="#555" stroke-width="0.5"/>
<line x1="321.98" y1="470.2" x2="321.98" y2="469.2" stroke="#777" stroke-width="0.4"/>
<text x="309.14" y="475.7" font-size="4.2" fill="#333" text-anchor="middle" font-weight="normal" font-family='"Liberation Sans", sans-serif' stroke="#333" stroke-width="0.12">6</text>
<line x1="334.82" y1="470.2" x2="334.82" y2="468.6" stroke="#555" stroke-width="0.5"/>
<line x1="347.66" y1="470.2" x2="347.66" y2="469.2" stroke="#777" stroke-width="0.4"/>
<text x="334.82" y="475.7" font-size="4.2" fill="#333" text-anchor="middle" font-weight="normal" font-family='"Liberation Sans", sans-serif' stroke="#333" stroke-width="0.12">8</text>
<line x1="360.5" y1="470.2" x2="360.5" y2="468.6" stroke="#555" stroke-width="0.5"/>
<text x="360.5" y="475.7" font-size="4.2" fill="#333" text-anchor="middle" font-weight="normal" font-family='"Liberation Sans", sans-serif' stroke="#333" stroke-width="0.12">10</text>
<line x1="232.1" y1="465.8" x2="233.7" y2="465.8" stroke="#555" stroke-width="0.5"/>
<line x1="232.1" y1="455.8" x2="233.1" y2="455.8" stroke="#777" stroke-width="0.4"/>
<text x="230.2" y="467.3" font-size="4.2" fill="#333" text-anchor="end" font-weight="normal" font-family='"Liberation Sans", sans-serif' stroke="#333" stroke-width="0.12">0</text>
<line x1="232.1" y1="445.8" x2="233.7" y2="445.8" stroke="#555" stroke-width="0.5"/>
<line x1="232.1" y1="435.8" x2="233.1" y2="435.8" stroke="#777" stroke-width="0.4"/>
<text x="230.2" y="447.3" font-size="4.2" fill="#333" text-anchor="end" font-weight="normal" font-family='"Liberation Sans", sans-serif' stroke="#333" stroke-width="0.12">20</text>
<line x1="232.1" y1="425.8" x2="233.7" y2="425.8" stroke="#555" stroke-width="0.5"/>
<line x1="232.1" y1="415.8" x2="233.1" y2="415.8" stroke="#777" stroke-width="0.4"/>
<text x="230.2" y="427.3" font-size="4.2" fill="#333" text-anchor="end" font-weight="normal" font-family='"Liberation Sans", sans-serif' stroke="#333" stroke-width="0.12">40</text>
<line x1="232.1" y1="405.8" x2="233.7" y2="405.8" stroke="#555" stroke-width="0.5"/>
<line x1="232.1" y1="395.8" x2="233.1" y2="395.8" stroke="#777" stroke-width="0.4"/>
<text x="230.2" y="407.3" font-size="4.2" fill="#333" text-anchor="end" font-weight="normal" font-family='"Liberation Sans", sans-serif' stroke="#333" stroke-width="0.12">60</text>
<line x1="232.1" y1="385.8" x2="233.7" y2="385.8" stroke="#555" stroke-width="0.5"/>
<text x="230.2" y="387.3" font-size="4.2" fill="#333" text-anchor="end" font-weight="normal" font-family='"Liberation Sans", sans-serif' stroke="#333" stroke-width="0.12">80</text>
<text x="296.3" y="483.8" font-size="5.05" fill="#222" text-anchor="middle" font-weight="normal" font-family='"Liberation Sans", sans-serif' stroke="#222" stroke-width="0.15">Time (s)</text>
<text x="218" y="426.6" font-size="5.05" fill="#2a2a2a" text-anchor="middle" font-weight="normal" font-family='"Liberation Sans", sans-serif' transform="rotate(-90 218 426.6)" stroke="#2a2a2a" stroke-width="0.1">&#916;EPSC (nA)</text>
<line x1="246" y1="408.8" x2="262" y2="408.8" stroke="#a07070" stroke-width="0.6"/>
<line x1="271" y1="384.9" x2="289.3" y2="384.9" stroke="#c8a0a0" stroke-width="0.6"/>
<polyline points="232.1,464.3 232.31,464.35 232.53,464.4 232.74,464.45 232.96,464.5 233.17,464.55 233.38,464.6 233.6,464.65 233.81,464.7 234.03,464.75 234.24,464.8 234.45,464.85 234.67,464.9 234.88,464.95 235.1,465 235.31,465.05 235.52,465.1 235.74,465.15 235.95,465.2 236.17,465.25 236.38,465.3 236.59,465.35 236.81,465.4 237.02,465.45 237.24,465.5 237.45,465.55 237.66,465.6 237.88,465.65 238.09,465.7 238.31,465.75 238.52,465.8 238.52,465.8 238.78,465.8 239.03,465.8 239.29,465.8 239.55,465.8 239.8,465.8 240.06,465.8 240.32,465.8 240.57,465.8 240.83,465.8 241.09,465.8 241.34,465.8 241.6,465.8 241.86,465.8 242.12,465.8 242.37,465.8 242.63,465.8 242.89,465.8 243.14,465.8 243.4,465.8 243.66,465.8 243.91,465.8 244.17,465.8 244.43,465.8 244.68,465.8 244.94,465.8 245.2,465.8 245.45,465.8 245.71,465.8 245.97,465.8 246.22,465.8 246.22,465.8 246.71,463.43 247.19,461.09 247.67,458.8 248.16,456.54 248.64,454.32 249.13,452.14 249.61,449.99 250.09,447.88 250.58,445.8 251.06,443.76 251.54,441.75 252.03,439.77 252.51,437.83 252.99,435.92 253.48,434.04 253.96,432.19 254.45,430.37 254.93,428.58 255.41,426.82 255.9,425.1 256.38,423.39 256.86,421.72 257.35,420.08 257.83,418.46 258.31,416.87 258.8,415.3 259.28,413.77 259.77,412.25 260.25,410.76 260.73,409.3 260.73,409.3 261.07,410.39 261.41,411.45 261.75,412.46 262.09,413.43 262.42,414.36 262.76,415.25 263.1,416.11 263.44,416.94 263.78,417.74 264.11,418.5 264.45,419.23 264.79,419.94 265.13,420.61 265.47,421.27 265.81,421.89 266.14,422.49 266.48,423.07 266.82,423.62 267.16,424.15 267.5,424.67 267.83,425.16 268.17,425.63 268.51,426.08 268.85,426.52 269.19,426.94 269.52,427.34 269.86,427.73 270.2,428.1 270.54,428.46 270.88,428.8 270.88,428.8 271.32,427.03 271.76,425.29 272.2,423.57 272.64,421.87 273.08,420.19 273.52,418.54 273.96,416.91 274.4,415.3 274.84,413.71 275.29,412.14 275.73,410.59 276.17,409.07 276.61,407.56 277.05,406.07 277.49,404.61 277.93,403.16 278.37,401.73 278.81,400.32 279.25,398.93 279.69,397.56 280.13,396.21 280.58,394.87 281.02,393.55 281.46,392.25 281.9,390.97 282.34,389.7 282.78,388.45 283.22,387.22 283.66,386 284.1,384.8 284.1,384.8 286.65,390.72 289.2,396.17 291.74,401.19 294.29,405.8 296.83,410.04 299.38,413.95 301.93,417.54 304.47,420.85 307.02,423.89 309.57,426.69 312.11,429.26 314.66,431.63 317.21,433.81 319.75,435.81 322.3,437.66 324.85,439.35 327.39,440.91 329.94,442.35 332.49,443.67 335.03,444.89 337.58,446.01 340.13,447.04 342.67,447.98 345.22,448.86 347.77,449.66 350.31,450.39 352.86,451.07 355.41,451.7 357.95,452.27 360.5,452.8" fill="none" stroke="#a05848" stroke-width="1" stroke-linejoin="round"/>
<line x1="262" y1="408.8" x2="262" y2="463.8" stroke="#a03060" stroke-width="0.6"/>
<polygon points="260.9,463.2 263.1,463.2 262,465.8" fill="#a03060"/>
<line x1="287.3" y1="384.9" x2="287.3" y2="463.8" stroke="#a03060" stroke-width="0.6"/>
<polygon points="286.2,463.2 288.4,463.2 287.3,465.8" fill="#a03060"/>
<text x="253" y="383.6" font-size="6.9" fill="#262630" text-anchor="middle" font-weight="normal" font-family='"Liberation Sans", sans-serif' stroke="#262630" stroke-width="0.25">On</text>
<text x="264.2" y="383.6" font-size="6.9" fill="#262630" text-anchor="middle" font-weight="normal" font-family='"Liberation Sans", sans-serif' stroke="#262630" stroke-width="0.25">Off</text>
<text x="278.1" y="383.6" font-size="6.9" fill="#262630" text-anchor="middle" font-weight="normal" font-family='"Liberation Sans", sans-serif' stroke="#262630" stroke-width="0.25">On</text>
<line x1="261.9" y1="388.9" x2="269.2" y2="388.9" stroke="#333" stroke-width="0.75"/>
<polygon points="260.4,388.9 262.4,387.9 262.4,389.9" fill="#333"/>
<polygon points="270.7,388.9 268.7,387.9 268.7,389.9" fill="#333"/>
<text x="266" y="400.9" font-size="6.6" fill="#222" text-anchor="middle" font-weight="normal" font-family='"Liberation Sans", sans-serif' stroke="#222" stroke-width="0.2">&#916;t</text>
<text x="254.3" y="437.5" font-size="7" fill="#1a1a1a" font-family='"Liberation Sans", sans-serif'>A<tspan font-size="4.0" dy="1.5">1</tspan></text>
<text x="279.3" y="431" font-size="7" fill="#1a1a1a" font-family='"Liberation Sans", sans-serif'>A<tspan font-size="4.0" dy="1.5">2</tspan></text>
<text x="303.6" y="411.6" font-size="6.4" fill="#222" font-family='"Liberation Sans", sans-serif'>PPF= A<tspan font-size="4.0" dy="1.5">2</tspan><tspan dy="-1.5">/A</tspan><tspan font-size="4.0" dy="1.5">1</tspan></text>
<text x="192.8" y="380.1" font-size="16.5" fill="#111" font-family='"Liberation Serif", serif' stroke="#111" stroke-width="0.1">(h)</text>
<rect x="424.1" y="377.2" width="3.5" height="94.1" stroke="none" fill="#f8d4ec" stroke-width="0.8"/>
<rect x="427.6" y="377.2" width="12.6" height="94.1" stroke="none" fill="#f6b2de" stroke-width="0.8"/>
<rect x="440.2" y="377.2" width="1.6" height="94.1" stroke="none" fill="#f8d4ec" stroke-width="0.8"/>
<rect x="454.4" y="377.2" width="1.6" height="94.1" stroke="none" fill="#f8d4ec" stroke-width="0.8"/>
<rect x="456" y="377.2" width="12" height="94.1" stroke="none" fill="#f6b2de" stroke-width="0.8"/>
<rect x="468" y="377.2" width="2.7" height="94.1" stroke="none" fill="#f0c8e4" stroke-width="0.8"/>
<rect x="413.5" y="377.2" width="128.5" height="94.1" stroke="#5a5a5a" fill="none" stroke-width="0.75"/>
<line x1="413.5" y1="471.3" x2="413.5" y2="469.7" stroke="#555" stroke-width="0.5"/>
<line x1="426.35" y1="471.3" x2="426.35" y2="470.3" stroke="#777" stroke-width="0.4"/>
<text x="413.5" y="476.5" font-size="4.2" fill="#333" text-anchor="middle" font-weight="normal" font-family='"Liberation Sans", sans-serif' stroke="#333" stroke-width="0.12">0</text>
<line x1="439.2" y1="471.3" x2="439.2" y2="469.7" stroke="#555" stroke-width="0.5"/>
<line x1="452.05" y1="471.3" x2="452.05" y2="470.3" stroke="#777" stroke-width="0.4"/>
<text x="439.2" y="476.5" font-size="4.2" fill="#333" text-anchor="middle" font-weight="normal" font-family='"Liberation Sans", sans-serif' stroke="#333" stroke-width="0.12">2</text>
<line x1="464.9" y1="471.3" x2="464.9" y2="469.7" stroke="#555" stroke-width="0.5"/>
<line x1="477.75" y1="471.3" x2="477.75" y2="470.3" stroke="#777" stroke-width="0.4"/>
<text x="464.9" y="476.5" font-size="4.2" fill="#333" text-anchor="middle" font-weight="normal" font-family='"Liberation Sans", sans-serif' stroke="#333" stroke-width="0.12">4</text>
<line x1="490.6" y1="471.3" x2="490.6" y2="469.7" stroke="#555" stroke-width="0.5"/>
<line x1="503.45" y1="471.3" x2="503.45" y2="470.3" stroke="#777" stroke-width="0.4"/>
<text x="490.6" y="476.5" font-size="4.2" fill="#333" text-anchor="middle" font-weight="normal" font-family='"Liberation Sans", sans-serif' stroke="#333" stroke-width="0.12">6</text>
<line x1="516.3" y1="471.3" x2="516.3" y2="469.7" stroke="#555" stroke-width="0.5"/>
<line x1="529.15" y1="471.3" x2="529.15" y2="470.3" stroke="#777" stroke-width="0.4"/>
<text x="516.3" y="476.5" font-size="4.2" fill="#333" text-anchor="middle" font-weight="normal" font-family='"Liberation Sans", sans-serif' stroke="#333" stroke-width="0.12">8</text>
<line x1="542" y1="471.3" x2="542" y2="469.7" stroke="#555" stroke-width="0.5"/>
<text x="542" y="476.5" font-size="4.2" fill="#333" text-anchor="middle" font-weight="normal" font-family='"Liberation Sans", sans-serif' stroke="#333" stroke-width="0.12">10</text>
<line x1="413.5" y1="468.02" x2="415.1" y2="468.02" stroke="#555" stroke-width="0.5"/>
<line x1="413.5" y1="460.57" x2="414.5" y2="460.57" stroke="#777" stroke-width="0.4"/>
<text x="411.6" y="469.52" font-size="4.2" fill="#333" text-anchor="end" font-weight="normal" font-family='"Liberation Sans", sans-serif' stroke="#333" stroke-width="0.12">0</text>
<line x1="413.5" y1="453.12" x2="415.1" y2="453.12" stroke="#555" stroke-width="0.5"/>
<line x1="413.5" y1="445.67" x2="414.5" y2="445.67" stroke="#777" stroke-width="0.4"/>
<text x="411.6" y="454.62" font-size="4.2" fill="#333" text-anchor="end" font-weight="normal" font-family='"Liberation Sans", sans-serif' stroke="#333" stroke-width="0.12">20</text>
<line x1="413.5" y1="438.22" x2="415.1" y2="438.22" stroke="#555" stroke-width="0.5"/>
<line x1="413.5" y1="430.77" x2="414.5" y2="430.77" stroke="#777" stroke-width="0.4"/>
<text x="411.6" y="439.72" font-size="4.2" fill="#333" text-anchor="end" font-weight="normal" font-family='"Liberation Sans", sans-serif' stroke="#333" stroke-width="0.12">40</text>
<line x1="413.5" y1="423.32" x2="415.1" y2="423.32" stroke="#555" stroke-width="0.5"/>
<line x1="413.5" y1="415.87" x2="414.5" y2="415.87" stroke="#777" stroke-width="0.4"/>
<text x="411.6" y="424.82" font-size="4.2" fill="#333" text-anchor="end" font-weight="normal" font-family='"Liberation Sans", sans-serif' stroke="#333" stroke-width="0.12">60</text>
<line x1="413.5" y1="408.42" x2="415.1" y2="408.42" stroke="#555" stroke-width="0.5"/>
<line x1="413.5" y1="400.97" x2="414.5" y2="400.97" stroke="#777" stroke-width="0.4"/>
<text x="411.6" y="409.92" font-size="4.2" fill="#333" text-anchor="end" font-weight="normal" font-family='"Liberation Sans", sans-serif' stroke="#333" stroke-width="0.12">80</text>
<line x1="413.5" y1="393.52" x2="415.1" y2="393.52" stroke="#555" stroke-width="0.5"/>
<line x1="413.5" y1="386.07" x2="414.5" y2="386.07" stroke="#777" stroke-width="0.4"/>
<text x="411.6" y="395.02" font-size="4.2" fill="#333" text-anchor="end" font-weight="normal" font-family='"Liberation Sans", sans-serif' stroke="#333" stroke-width="0.12">100</text>
<line x1="413.5" y1="378.62" x2="415.1" y2="378.62" stroke="#555" stroke-width="0.5"/>
<text x="411.6" y="380.12" font-size="4.2" fill="#333" text-anchor="end" font-weight="normal" font-family='"Liberation Sans", sans-serif' stroke="#333" stroke-width="0.12">120</text>
<text x="477.75" y="484.6" font-size="5.05" fill="#222" text-anchor="middle" font-weight="normal" font-family='"Liberation Sans", sans-serif' stroke="#222" stroke-width="0.15">Time (s)</text>
<text x="398" y="428.1" font-size="5.05" fill="#2a2a2a" text-anchor="middle" font-weight="normal" font-family='"Liberation Sans", sans-serif' transform="rotate(-90 398 428.1)" stroke="#2a2a2a" stroke-width="0.1">&#916;EPSC (nA)</text>
<line x1="427.6" y1="413.63" x2="444" y2="413.63" stroke="#c090b0" stroke-width="0.6"/>
<line x1="456" y1="386.07" x2="472" y2="386.07" stroke="#c090b0" stroke-width="0.6"/>
<polyline points="413.5,468.02 413.97,468.02 414.44,468.02 414.91,468.02 415.38,468.02 415.86,468.02 416.33,468.02 416.8,468.02 417.27,468.02 417.74,468.02 418.21,468.02 418.68,468.02 419.15,468.02 419.63,468.02 420.1,468.02 420.57,468.02 421.04,468.02 421.51,468.02 421.98,468.02 422.45,468.02 422.92,468.02 423.39,468.02 423.87,468.02 424.34,468.02 424.81,468.02 425.28,468.02 425.75,468.02 426.22,468.02 426.69,468.02 427.16,468.02 427.63,468.02 427.63,468.02 428.15,466.21 428.66,464.4 429.18,462.58 429.69,460.77 430.2,458.96 430.72,457.14 431.23,455.33 431.75,453.52 432.26,451.71 432.77,449.89 433.29,448.08 433.8,446.27 434.32,444.45 434.83,442.64 435.35,440.83 435.86,439.01 436.37,437.2 436.89,435.39 437.4,433.58 437.92,431.76 438.43,429.95 438.94,428.14 439.46,426.32 439.97,424.51 440.49,422.7 441,420.88 441.51,419.07 442.03,417.26 442.54,415.45 443.06,413.63 443.06,413.63 443.4,414.41 443.74,415.15 444.08,415.88 444.43,416.58 444.77,417.25 445.11,417.91 445.45,418.54 445.8,419.15 446.14,419.74 446.48,420.32 446.82,420.87 447.17,421.4 447.51,421.92 447.85,422.42 448.19,422.91 448.54,423.38 448.88,423.83 449.22,424.27 449.57,424.69 449.91,425.1 450.25,425.5 450.59,425.88 450.94,426.26 451.28,426.61 451.62,426.96 451.96,427.3 452.31,427.62 452.65,427.94 452.99,428.24 453.33,428.53 453.33,428.53 453.85,427.12 454.36,425.7 454.88,424.29 455.39,422.87 455.9,421.46 456.42,420.04 456.93,418.62 457.45,417.21 457.96,415.79 458.48,414.38 458.99,412.96 459.5,411.55 460.02,410.13 460.53,408.72 461.05,407.3 461.56,405.88 462.07,404.47 462.59,403.05 463.1,401.64 463.62,400.22 464.13,398.81 464.64,397.39 465.16,395.98 465.67,394.56 466.19,393.14 466.7,391.73 467.21,390.31 467.73,388.9 468.24,387.48 468.75,386.07 468.75,386.07 471.2,390.54 473.64,394.65 476.08,398.41 478.52,401.86 480.96,405.03 483.4,407.93 485.85,410.59 488.29,413.03 490.73,415.27 493.17,417.32 495.61,419.2 498.05,420.93 500.49,422.51 502.94,423.96 505.38,425.29 507.82,426.51 510.26,427.63 512.7,428.66 515.14,429.6 517.59,430.46 520.03,431.25 522.47,431.98 524.91,432.64 527.35,433.25 529.79,433.81 532.23,434.33 534.68,434.8 537.12,435.23 539.56,435.62 542,435.98" fill="none" stroke="#b050d0" stroke-width="1" stroke-linejoin="round"/>
<line x1="443.6" y1="413.63" x2="443.6" y2="466.02" stroke="#333" stroke-width="0.6"/>
<polygon points="442.5,465.42 444.7,465.42 443.6,468.02" fill="#333"/>
<line x1="469.9" y1="386.07" x2="469.9" y2="466.02" stroke="#333" stroke-width="0.6"/>
<polygon points="468.8,465.42 471,465.42 469.9,468.02" fill="#333"/>
<text x="433.4" y="383.6" font-size="6.9" fill="#262630" text-anchor="middle" font-weight="normal" font-family='"Liberation Sans", sans-serif' stroke="#262630" stroke-width="0.25">On</text>
<text x="447" y="383.6" font-size="6.9" fill="#262630" text-anchor="middle" font-weight="normal" font-family='"Liberation Sans", sans-serif' stroke="#262630" stroke-width="0.25">Off</text>
<text x="462.8" y="383.6" font-size="6.9" fill="#262630" text-anchor="middle" font-weight="normal" font-family='"Liberation Sans", sans-serif' stroke="#262630" stroke-width="0.25">On</text>
<line x1="443.4" y1="395.4" x2="453.3" y2="395.4" stroke="#333" stroke-width="0.6"/>
<text x="446.7" y="400.9" font-size="6.6" fill="#222" text-anchor="middle" font-weight="normal" font-family='"Liberation Sans", sans-serif' stroke="#222" stroke-width="0.2">&#916;t</text>
<text x="434.2" y="437" font-size="7" fill="#1a1a1a" font-family='"Liberation Sans", sans-serif'>A<tspan font-size="4.0" dy="1.5">1</tspan></text>
<text x="459.3" y="430.5" font-size="7" fill="#1a1a1a" font-family='"Liberation Sans", sans-serif'>A<tspan font-size="4.0" dy="1.5">2</tspan></text>
<text x="490" y="409.6" font-size="6.4" fill="#222" font-family='"Liberation Sans", sans-serif'>PPF= A<tspan font-size="4.0" dy="1.5">2</tspan><tspan dy="-1.5">/A</tspan><tspan font-size="4.0" dy="1.5">1</tspan></text>
<text x="379.2" y="380.1" font-size="16.5" fill="#111" font-family='"Liberation Serif", serif' stroke="#111" stroke-width="0.1">(i)</text>
<rect x="54.9" y="494.1" width="128.7" height="94.3" stroke="#5a5a5a" fill="none" stroke-width="0.75"/>
<line x1="67.58" y1="588.4" x2="67.58" y2="586.8" stroke="#555" stroke-width="0.5"/>
<line x1="80.47" y1="588.4" x2="80.47" y2="587.4" stroke="#777" stroke-width="0.4"/>
<text x="67.58" y="593.7" font-size="4.2" fill="#333" text-anchor="middle" font-weight="normal" font-family='"Liberation Sans", sans-serif' stroke="#333" stroke-width="0.12">0</text>
<line x1="93.37" y1="588.4" x2="93.37" y2="586.8" stroke="#555" stroke-width="0.5"/>
<line x1="106.26" y1="588.4" x2="106.26" y2="587.4" stroke="#777" stroke-width="0.4"/>
<text x="93.37" y="593.7" font-size="4.2" fill="#333" text-anchor="middle" font-weight="normal" font-family='"Liberation Sans", sans-serif' stroke="#333" stroke-width="0.12">5</text>
<line x1="119.15" y1="588.4" x2="119.15" y2="586.8" stroke="#555" stroke-width="0.5"/>
<line x1="132.04" y1="588.4" x2="132.04" y2="587.4" stroke="#777" stroke-width="0.4"/>
<text x="119.15" y="593.7" font-size="4.2" fill="#333" text-anchor="middle" font-weight="normal" font-family='"Liberation Sans", sans-serif' stroke="#333" stroke-width="0.12">10</text>
<line x1="144.93" y1="588.4" x2="144.93" y2="586.8" stroke="#555" stroke-width="0.5"/>
<line x1="157.82" y1="588.4" x2="157.82" y2="587.4" stroke="#777" stroke-width="0.4"/>
<text x="144.93" y="593.7" font-size="4.2" fill="#333" text-anchor="middle" font-weight="normal" font-family='"Liberation Sans", sans-serif' stroke="#333" stroke-width="0.12">15</text>
<line x1="170.71" y1="588.4" x2="170.71" y2="586.8" stroke="#555" stroke-width="0.5"/>
<text x="170.71" y="593.7" font-size="4.2" fill="#333" text-anchor="middle" font-weight="normal" font-family='"Liberation Sans", sans-serif' stroke="#333" stroke-width="0.12">20</text>
<line x1="54.9" y1="576.95" x2="56.5" y2="576.95" stroke="#555" stroke-width="0.5"/>
<line x1="54.9" y1="566.54" x2="55.9" y2="566.54" stroke="#777" stroke-width="0.4"/>
<text x="53" y="578.45" font-size="4.2" fill="#333" text-anchor="end" font-weight="normal" font-family='"Liberation Sans", sans-serif' stroke="#333" stroke-width="0.12">1.0</text>
<line x1="54.9" y1="556.13" x2="56.5" y2="556.13" stroke="#555" stroke-width="0.5"/>
<line x1="54.9" y1="545.73" x2="55.9" y2="545.73" stroke="#777" stroke-width="0.4"/>
<text x="53" y="557.63" font-size="4.2" fill="#333" text-anchor="end" font-weight="normal" font-family='"Liberation Sans", sans-serif' stroke="#333" stroke-width="0.12">1.1</text>
<line x1="54.9" y1="535.32" x2="56.5" y2="535.32" stroke="#555" stroke-width="0.5"/>
<line x1="54.9" y1="524.91" x2="55.9" y2="524.91" stroke="#777" stroke-width="0.4"/>
<text x="53" y="536.82" font-size="4.2" fill="#333" text-anchor="end" font-weight="normal" font-family='"Liberation Sans", sans-serif' stroke="#333" stroke-width="0.12">1.2</text>
<line x1="54.9" y1="514.5" x2="56.5" y2="514.5" stroke="#555" stroke-width="0.5"/>
<line x1="54.9" y1="504.09" x2="55.9" y2="504.09" stroke="#777" stroke-width="0.4"/>
<text x="53" y="516" font-size="4.2" fill="#333" text-anchor="end" font-weight="normal" font-family='"Liberation Sans", sans-serif' stroke="#333" stroke-width="0.12">1.3</text>
<line x1="54.9" y1="493.68" x2="56.5" y2="493.68" stroke="#555" stroke-width="0.5"/>
<text x="53" y="495.18" font-size="4.2" fill="#333" text-anchor="end" font-weight="normal" font-family='"Liberation Sans", sans-serif' stroke="#333" stroke-width="0.12">1.4</text>
<text x="119.25" y="602.5" font-size="5.05" fill="#222" text-anchor="middle" font-weight="normal" font-family='"Liberation Sans", sans-serif' stroke="#222" stroke-width="0.15">&#916;Time (s)</text>
<text x="43.5" y="544.55" font-size="5.05" fill="#2a2a2a" text-anchor="middle" font-weight="normal" font-family='"Liberation Sans", sans-serif' transform="rotate(-90 43.5 544.55)" stroke="#2a2a2a" stroke-width="0.1">PPF Indexing</text>
<polyline points="70.16,507.21 70.18,507.34 70.23,507.73 70.31,508.36 70.42,509.24 70.57,510.35 70.74,511.68 70.95,513.22 71.19,514.95 71.47,516.86 71.77,518.92 72.11,521.12 72.48,523.43 72.89,525.83 73.32,528.31 73.79,530.83 74.29,533.39 74.82,535.95 75.38,538.51 75.98,541.03 76.61,543.52 77.27,545.94 77.96,548.3 78.69,550.57 79.44,552.76 80.23,554.84 81.05,556.82 81.91,558.69 82.79,560.44 83.71,562.09 84.66,563.61 85.64,565.03 86.66,566.33 87.71,567.53 88.79,568.62 89.9,569.61 91.04,570.51 92.22,571.32 93.43,572.04 94.67,572.69 95.94,573.27 97.24,573.78 98.58,574.23 99.95,574.62 101.35,574.96 102.79,575.26 104.25,575.52 105.75,575.75 107.28,575.94 108.84,576.11 110.44,576.25 112.07,576.37 113.73,576.47 115.42,576.55 117.14,576.62 118.9,576.68 120.69,576.73 122.51,576.77 124.36,576.81 126.24,576.83 128.16,576.86 130.11,576.88 132.09,576.89 134.11,576.9 136.15,576.91 138.23,576.92 140.34,576.93 142.48,576.93 144.66,576.94 146.87,576.94 149.1,576.94 151.38,576.94 153.68,576.95 156.02,576.95 158.38,576.95 160.79,576.95 163.22,576.95 165.68,576.95 168.18,576.95 170.71,576.95" fill="none" stroke="#3434a0" stroke-width="0.85" stroke-linejoin="round"/>
<circle cx="70.16" cy="502.01" r="1.3" fill="#2a2a90"/>
<circle cx="72.74" cy="532.19" r="1.3" fill="#2a2a90"/>
<circle cx="77.9" cy="544.68" r="1.3" fill="#2a2a90"/>
<circle cx="83.05" cy="556.13" r="1.3" fill="#2a2a90"/>
<circle cx="88.21" cy="559.67" r="1.3" fill="#2a2a90"/>
<circle cx="93.37" cy="569.04" r="1.3" fill="#2a2a90"/>
<circle cx="119.15" cy="576.33" r="1.3" fill="#2a2a90"/>
<circle cx="144.93" cy="577.37" r="1.3" fill="#2a2a90"/>
<circle cx="170.71" cy="579.03" r="1.3" fill="#2a2a90"/>
<text x="24.2" y="500.6" font-size="16.5" fill="#111" font-family='"Liberation Serif", serif' stroke="#111" stroke-width="0.1">(j)</text>
<rect x="232.9" y="494.5" width="128.7" height="93.9" stroke="#5a5a5a" fill="none" stroke-width="0.75"/>
<line x1="245.6" y1="588.4" x2="245.6" y2="586.8" stroke="#555" stroke-width="0.5"/>
<line x1="258.44" y1="588.4" x2="258.44" y2="587.4" stroke="#777" stroke-width="0.4"/>
<text x="245.6" y="593.7" font-size="4.2" fill="#333" text-anchor="middle" font-weight="normal" font-family='"Liberation Sans", sans-serif' stroke="#333" stroke-width="0.12">0</text>
<line x1="271.29" y1="588.4" x2="271.29" y2="586.8" stroke="#555" stroke-width="0.5"/>
<line x1="284.14" y1="588.4" x2="284.14" y2="587.4" stroke="#777" stroke-width="0.4"/>
<text x="271.29" y="593.7" font-size="4.2" fill="#333" text-anchor="middle" font-weight="normal" font-family='"Liberation Sans", sans-serif' stroke="#333" stroke-width="0.12">5</text>
<line x1="296.99" y1="588.4" x2="296.99" y2="586.8" stroke="#555" stroke-width="0.5"/>
<line x1="309.84" y1="588.4" x2="309.84" y2="587.4" stroke="#777" stroke-width="0.4"/>
<text x="296.99" y="593.7" font-size="4.2" fill="#333" text-anchor="middle" font-weight="normal" font-family='"Liberation Sans", sans-serif' stroke="#333" stroke-width="0.12">10</text>
<line x1="322.69" y1="588.4" x2="322.69" y2="586.8" stroke="#555" stroke-width="0.5"/>
<line x1="335.54" y1="588.4" x2="335.54" y2="587.4" stroke="#777" stroke-width="0.4"/>
<text x="322.69" y="593.7" font-size="4.2" fill="#333" text-anchor="middle" font-weight="normal" font-family='"Liberation Sans", sans-serif' stroke="#333" stroke-width="0.12">15</text>
<line x1="348.39" y1="588.4" x2="348.39" y2="586.8" stroke="#555" stroke-width="0.5"/>
<text x="348.39" y="593.7" font-size="4.2" fill="#333" text-anchor="middle" font-weight="normal" font-family='"Liberation Sans", sans-serif' stroke="#333" stroke-width="0.12">20</text>
<line x1="232.9" y1="587.01" x2="234.5" y2="587.01" stroke="#555" stroke-width="0.5"/>
<line x1="232.9" y1="577.76" x2="233.9" y2="577.76" stroke="#777" stroke-width="0.4"/>
<text x="231" y="588.51" font-size="4.2" fill="#333" text-anchor="end" font-weight="normal" font-family='"Liberation Sans", sans-serif' stroke="#333" stroke-width="0.12">0.8</text>
<line x1="232.9" y1="568.51" x2="234.5" y2="568.51" stroke="#555" stroke-width="0.5"/>
<line x1="232.9" y1="559.26" x2="233.9" y2="559.26" stroke="#777" stroke-width="0.4"/>
<text x="231" y="570.01" font-size="4.2" fill="#333" text-anchor="end" font-weight="normal" font-family='"Liberation Sans", sans-serif' stroke="#333" stroke-width="0.12">1.0</text>
<line x1="232.9" y1="550.01" x2="234.5" y2="550.01" stroke="#555" stroke-width="0.5"/>
<line x1="232.9" y1="540.76" x2="233.9" y2="540.76" stroke="#777" stroke-width="0.4"/>
<text x="231" y="551.51" font-size="4.2" fill="#333" text-anchor="end" font-weight="normal" font-family='"Liberation Sans", sans-serif' stroke="#333" stroke-width="0.12">1.2</text>
<line x1="232.9" y1="531.5" x2="234.5" y2="531.5" stroke="#555" stroke-width="0.5"/>
<line x1="232.9" y1="522.25" x2="233.9" y2="522.25" stroke="#777" stroke-width="0.4"/>
<text x="231" y="533" font-size="4.2" fill="#333" text-anchor="end" font-weight="normal" font-family='"Liberation Sans", sans-serif' stroke="#333" stroke-width="0.12">1.4</text>
<line x1="232.9" y1="513" x2="234.5" y2="513" stroke="#555" stroke-width="0.5"/>
<line x1="232.9" y1="503.75" x2="233.9" y2="503.75" stroke="#777" stroke-width="0.4"/>
<text x="231" y="514.5" font-size="4.2" fill="#333" text-anchor="end" font-weight="normal" font-family='"Liberation Sans", sans-serif' stroke="#333" stroke-width="0.12">1.6</text>
<line x1="232.9" y1="494.5" x2="234.5" y2="494.5" stroke="#555" stroke-width="0.5"/>
<text x="231" y="496" font-size="4.2" fill="#333" text-anchor="end" font-weight="normal" font-family='"Liberation Sans", sans-serif' stroke="#333" stroke-width="0.12">1.8</text>
<text x="297.25" y="602.5" font-size="5.05" fill="#222" text-anchor="middle" font-weight="normal" font-family='"Liberation Sans", sans-serif' stroke="#222" stroke-width="0.15">&#916;Time (s)</text>
<text x="221.6" y="544.75" font-size="5.05" fill="#2a2a2a" text-anchor="middle" font-weight="normal" font-family='"Liberation Sans", sans-serif' transform="rotate(-90 221.6 544.75)" stroke="#2a2a2a" stroke-width="0.1">PPF Indexing</text>
<polyline points="248.17,506.52 248.18,506.65 248.23,507.03 248.31,507.65 248.42,508.51 248.57,509.57 248.74,510.83 248.95,512.24 249.19,513.8 249.47,515.46 249.77,517.19 250.11,518.98 250.48,520.78 250.88,522.58 251.31,524.34 251.78,526.06 252.28,527.72 252.81,529.29 253.37,530.78 253.96,532.17 254.59,533.47 255.25,534.67 255.94,535.77 256.66,536.79 257.42,537.71 258.2,538.56 259.02,539.34 259.87,540.05 260.76,540.71 261.67,541.32 262.62,541.89 263.6,542.43 264.61,542.94 265.65,543.43 266.73,543.91 267.84,544.38 268.98,544.84 270.15,545.29 271.35,545.75 272.59,546.21 273.86,546.67 275.16,547.14 276.49,547.62 277.86,548.1 279.26,548.59 280.69,549.1 282.15,549.61 283.64,550.13 285.17,550.66 286.72,551.21 288.31,551.76 289.94,552.32 291.59,552.9 293.28,553.49 294.99,554.09 296.74,554.69 298.53,555.31 300.34,555.95 302.19,556.59 304.07,557.24 305.98,557.91 307.92,558.58 309.9,559.27 311.9,559.97 313.94,560.68 316.02,561.4 318.12,562.13 320.26,562.87 322.42,563.63 324.62,564.39 326.86,565.17 329.12,565.96 331.42,566.76 333.74,567.57 336.11,568.39 338.5,569.22 340.92,570.07 343.38,570.92 345.87,571.79 348.39,572.66" fill="none" stroke="#a04a28" stroke-width="0.9" stroke-linejoin="round"/>
<circle cx="248.17" cy="506.53" r="1.35" fill="#8a4028"/>
<circle cx="250.74" cy="527.8" r="1.35" fill="#8a4028"/>
<circle cx="255.87" cy="532.43" r="1.35" fill="#8a4028"/>
<circle cx="261.01" cy="542.61" r="1.35" fill="#8a4028"/>
<circle cx="266.15" cy="543.99" r="1.35" fill="#8a4028"/>
<circle cx="271.29" cy="545.38" r="1.35" fill="#8a4028"/>
<circle cx="296.99" cy="555.56" r="1.35" fill="#8a4028"/>
<circle cx="322.69" cy="561.57" r="1.35" fill="#8a4028"/>
<circle cx="348.39" cy="572.67" r="1.35" fill="#8a4028"/>
<text x="193.1" y="500.5" font-size="16.5" fill="#111" font-family='"Liberation Serif", serif' stroke="#111" stroke-width="0.1">(k)</text>
<rect x="414.9" y="494.5" width="128.7" height="93.9" stroke="#5a5a5a" fill="none" stroke-width="0.75"/>
<line x1="427.91" y1="588.4" x2="427.91" y2="586.8" stroke="#555" stroke-width="0.5"/>
<line x1="440.76" y1="588.4" x2="440.76" y2="587.4" stroke="#777" stroke-width="0.4"/>
<text x="427.91" y="593.7" font-size="4.2" fill="#333" text-anchor="middle" font-weight="normal" font-family='"Liberation Sans", sans-serif' stroke="#333" stroke-width="0.12">0</text>
<line x1="453.62" y1="588.4" x2="453.62" y2="586.8" stroke="#555" stroke-width="0.5"/>
<line x1="466.47" y1="588.4" x2="466.47" y2="587.4" stroke="#777" stroke-width="0.4"/>
<text x="453.62" y="593.7" font-size="4.2" fill="#333" text-anchor="middle" font-weight="normal" font-family='"Liberation Sans", sans-serif' stroke="#333" stroke-width="0.12">5</text>
<line x1="479.33" y1="588.4" x2="479.33" y2="586.8" stroke="#555" stroke-width="0.5"/>
<line x1="492.18" y1="588.4" x2="492.18" y2="587.4" stroke="#777" stroke-width="0.4"/>
<text x="479.33" y="593.7" font-size="4.2" fill="#333" text-anchor="middle" font-weight="normal" font-family='"Liberation Sans", sans-serif' stroke="#333" stroke-width="0.12">10</text>
<line x1="505.04" y1="588.4" x2="505.04" y2="586.8" stroke="#555" stroke-width="0.5"/>
<line x1="517.89" y1="588.4" x2="517.89" y2="587.4" stroke="#777" stroke-width="0.4"/>
<text x="505.04" y="593.7" font-size="4.2" fill="#333" text-anchor="middle" font-weight="normal" font-family='"Liberation Sans", sans-serif' stroke="#333" stroke-width="0.12">15</text>
<line x1="530.75" y1="588.4" x2="530.75" y2="586.8" stroke="#555" stroke-width="0.5"/>
<text x="530.75" y="593.7" font-size="4.2" fill="#333" text-anchor="middle" font-weight="normal" font-family='"Liberation Sans", sans-serif' stroke="#333" stroke-width="0.12">20</text>
<line x1="414.9" y1="583.84" x2="416.5" y2="583.84" stroke="#555" stroke-width="0.5"/>
<line x1="414.9" y1="577.85" x2="415.9" y2="577.85" stroke="#777" stroke-width="0.4"/>
<text x="413" y="585.34" font-size="4.2" fill="#333" text-anchor="end" font-weight="normal" font-family='"Liberation Sans", sans-serif' stroke="#333" stroke-width="0.12">1.0</text>
<line x1="414.9" y1="571.85" x2="416.5" y2="571.85" stroke="#555" stroke-width="0.5"/>
<line x1="414.9" y1="565.85" x2="415.9" y2="565.85" stroke="#777" stroke-width="0.4"/>
<text x="413" y="573.35" font-size="4.2" fill="#333" text-anchor="end" font-weight="normal" font-family='"Liberation Sans", sans-serif' stroke="#333" stroke-width="0.12">1.1</text>
<line x1="414.9" y1="559.86" x2="416.5" y2="559.86" stroke="#555" stroke-width="0.5"/>
<line x1="414.9" y1="553.86" x2="415.9" y2="553.86" stroke="#777" stroke-width="0.4"/>
<text x="413" y="561.36" font-size="4.2" fill="#333" text-anchor="end" font-weight="normal" font-family='"Liberation Sans", sans-serif' stroke="#333" stroke-width="0.12">1.2</text>
<line x1="414.9" y1="547.87" x2="416.5" y2="547.87" stroke="#555" stroke-width="0.5"/>
<line x1="414.9" y1="541.87" x2="415.9" y2="541.87" stroke="#777" stroke-width="0.4"/>
<text x="413" y="549.37" font-size="4.2" fill="#333" text-anchor="end" font-weight="normal" font-family='"Liberation Sans", sans-serif' stroke="#333" stroke-width="0.12">1.3</text>
<line x1="414.9" y1="535.87" x2="416.5" y2="535.87" stroke="#555" stroke-width="0.5"/>
<line x1="414.9" y1="529.88" x2="415.9" y2="529.88" stroke="#777" stroke-width="0.4"/>
<text x="413" y="537.37" font-size="4.2" fill="#333" text-anchor="end" font-weight="normal" font-family='"Liberation Sans", sans-serif' stroke="#333" stroke-width="0.12">1.4</text>
<line x1="414.9" y1="523.88" x2="416.5" y2="523.88" stroke="#555" stroke-width="0.5"/>
<line x1="414.9" y1="517.89" x2="415.9" y2="517.89" stroke="#777" stroke-width="0.4"/>
<text x="413" y="525.38" font-size="4.2" fill="#333" text-anchor="end" font-weight="normal" font-family='"Liberation Sans", sans-serif' stroke="#333" stroke-width="0.12">1.5</text>
<line x1="414.9" y1="511.89" x2="416.5" y2="511.89" stroke="#555" stroke-width="0.5"/>
<line x1="414.9" y1="505.89" x2="415.9" y2="505.89" stroke="#777" stroke-width="0.4"/>
<text x="413" y="513.39" font-size="4.2" fill="#333" text-anchor="end" font-weight="normal" font-family='"Liberation Sans", sans-serif' stroke="#333" stroke-width="0.12">1.6</text>
<line x1="414.9" y1="499.9" x2="416.5" y2="499.9" stroke="#555" stroke-width="0.5"/>
<text x="413" y="501.4" font-size="4.2" fill="#333" text-anchor="end" font-weight="normal" font-family='"Liberation Sans", sans-serif' stroke="#333" stroke-width="0.12">1.7</text>
<text x="479.25" y="602.5" font-size="5.05" fill="#222" text-anchor="middle" font-weight="normal" font-family='"Liberation Sans", sans-serif' stroke="#222" stroke-width="0.15">&#916;Time (s)</text>
<text x="403.3" y="544.75" font-size="5.05" fill="#2a2a2a" text-anchor="middle" font-weight="normal" font-family='"Liberation Sans", sans-serif' transform="rotate(-90 403.3 544.75)" stroke="#2a2a2a" stroke-width="0.1">PPF Indexing</text>
<polyline points="430.48,498.69 430.5,498.85 430.54,499.33 430.62,500.11 430.74,501.18 430.88,502.53 431.06,504.12 431.27,505.94 431.51,507.96 431.78,510.14 432.09,512.44 432.42,514.84 432.79,517.3 433.19,519.8 433.63,522.29 434.09,524.76 434.59,527.17 435.12,529.52 435.69,531.77 436.28,533.92 436.91,535.96 437.56,537.88 438.26,539.67 438.98,541.33 439.73,542.87 440.52,544.29 441.34,545.6 442.19,546.79 443.08,547.88 443.99,548.88 444.94,549.8 445.92,550.64 446.93,551.41 447.98,552.13 449.05,552.8 450.16,553.43 451.3,554.02 452.47,554.59 453.68,555.13 454.92,555.66 456.18,556.18 457.49,556.69 458.82,557.19 460.19,557.7 461.58,558.2 463.01,558.71 464.47,559.22 465.97,559.73 467.49,560.26 469.05,560.79 470.64,561.33 472.27,561.87 473.92,562.43 475.61,563 477.33,563.57 479.08,564.16 480.86,564.76 482.68,565.37 484.52,565.98 486.4,566.61 488.32,567.25 490.26,567.9 492.24,568.56 494.24,569.23 496.28,569.91 498.36,570.61 500.46,571.31 502.6,572.03 504.77,572.75 506.97,573.49 509.2,574.23 511.47,574.99 513.76,575.76 516.09,576.54 518.46,577.32 520.85,578.12 523.27,578.94 525.73,579.76 528.22,580.59 530.75,581.43" fill="none" stroke="#a048d0" stroke-width="0.9" stroke-linejoin="round"/>
<circle cx="430.48" cy="498.7" r="1.35" fill="#8040c8"/>
<circle cx="433.05" cy="518.48" r="1.35" fill="#8040c8"/>
<circle cx="438.19" cy="537.67" r="1.35" fill="#8040c8"/>
<circle cx="443.33" cy="543.67" r="1.35" fill="#8040c8"/>
<circle cx="448.48" cy="558.66" r="1.35" fill="#8040c8"/>
<circle cx="453.62" cy="555.66" r="1.35" fill="#8040c8"/>
<circle cx="479.33" cy="562.86" r="1.35" fill="#8040c8"/>
<circle cx="505.04" cy="571.25" r="1.35" fill="#8040c8"/>
<circle cx="530.75" cy="581.44" r="1.35" fill="#8040c8"/>
<text x="379.2" y="500.5" font-size="16.5" fill="#111" font-family='"Liberation Serif", serif' stroke="#111" stroke-width="0.1">(l)</text>
</svg>
</body></html>
